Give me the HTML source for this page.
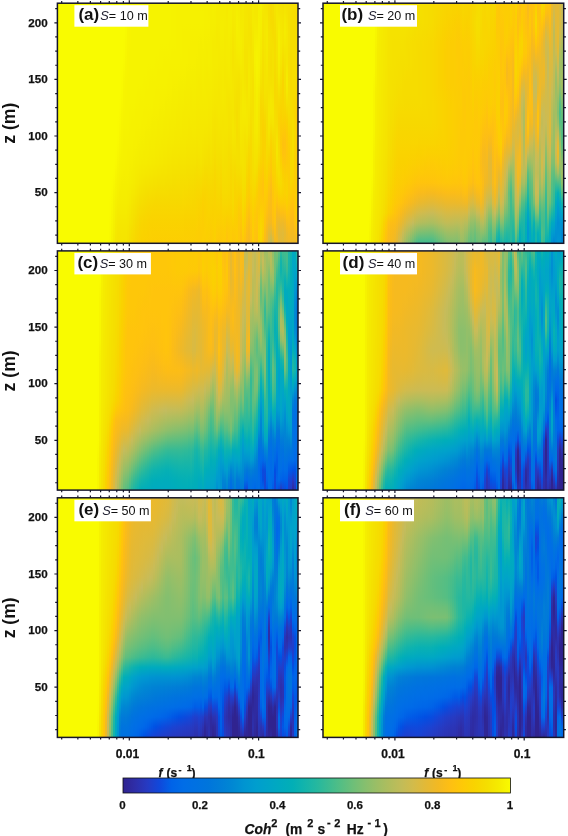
<!DOCTYPE html><html><head><meta charset="utf-8"><title>Coherence</title><style>

html,body{margin:0;padding:0;background:#fff}
body{position:relative;width:568px;height:836px;overflow:hidden;font-family:"Liberation Sans",sans-serif}
.p{position:absolute;display:flex;filter:blur(0.6px)}
.p i{flex:1 1 0;height:100%;min-width:0}
svg{will-change:transform}
svg text{font-family:"Liberation Sans",sans-serif;fill:#111}
.tk,.xl,.cl,.fl,.tt{stroke:#111;stroke-width:0.25px}
.tk{font-size:11.6px;font-weight:bold}
.zl{font-size:17.6px;font-weight:bold}
.pl{font-size:17px;font-weight:bold}
.s{font-size:12.8px;font-style:italic;fill:#223}
.eq{font-size:12.6px}
.xl{font-size:12px;font-weight:bold}
.fl{font-size:12px;font-weight:bold}
.cl{font-size:11.5px;font-weight:bold}
.tt{font-size:13.8px;font-weight:bold}
.sp{font-size:11px}
.sp2{font-size:9px}

</style></head><body>
<div class="p" style="left:57.4px;top:3.2px;width:240.6px;height:240.1px"><i style="background:#f9fb00"></i><i style="background:#f9fb00"></i><i style="background:#f9fb00"></i><i style="background:#f9fb00"></i><i style="background:#f9fb00"></i><i style="background:#f9fb00"></i><i style="background:#f9fb00"></i><i style="background:#f9fb00"></i><i style="background:#f9fb00"></i><i style="background:#f9fb00"></i><i style="background:#f9fb00"></i><i style="background:#f9fb00"></i><i style="background:#f9fb00"></i><i style="background:#f9fb00"></i><i style="background:#f9fb00"></i><i style="background:#f9fb00"></i><i style="background:#f9fb00"></i><i style="background:#f9fb00"></i><i style="background:#f9fb00"></i><i style="background:#f9fb00"></i><i style="background:#f9fb00"></i><i style="background:#f9fb00"></i><i style="background:#f9fb00"></i><i style="background:#f9fb00"></i><i style="background:#f9fb00"></i><i style="background:#f9fb00"></i><i style="background:linear-gradient(#f9fb00,#f9fb00,#f9fb00,#f9fb00,#f9fb00,#f9fb00,#f9fb00,#f9fb00,#f9fb00,#f9fb00,#f9fb00,#f9fb00,#f9fb00,#f9fb00,#f9fb00,#f9fb00,#f9fb00,#f9fb00,#f9fb00,#f9fb00,#f9fa00,#f9fa00,#f9f900,#f8f900,#f8f800)"></i><i style="background:linear-gradient(#f9fb00,#f9fb00,#f9fb00,#f9fb00,#f9fb00,#f9fb00,#f9fb00,#f9fb00,#f9fb00,#f9fb00,#f9fb00,#f9fb00,#f9fb00,#f9fb00,#f9fb00,#f9fb00,#f9fb00,#f9fb00,#f9fa00,#f9f900,#f8f800,#f8f600,#f7f500,#f7f300,#f6f200)"></i><i style="background:linear-gradient(#f9fb00,#f9fb00,#f9fb00,#f9fb00,#f9fb00,#f9fb00,#f9fb00,#f9fb00,#f9fb00,#f9fb00,#f9fb00,#f9fb00,#f9fb00,#f9fb00,#f9fb00,#f9fb00,#f9fb00,#f9fa00,#f8f800,#f7f500,#f6f300,#f6f200,#f6f000,#f5ee00,#f5eb00)"></i><i style="background:linear-gradient(#f9fb00,#f9fb00,#f9fb00,#f9fb00,#f9fb00,#f9fb00,#f9fb00,#f9fb00,#f9fb00,#f9fb00,#f9fb00,#f9fb00,#f9fb00,#f9fb00,#f9fb00,#f9fa00,#f9f900,#f8f600,#f7f300,#f6f200,#f6ef00,#f5ed00,#f5ea00,#f5e800,#f5e500)"></i><i style="background:linear-gradient(#f9fb00,#f9fb00,#f9fb00,#f9fb00,#f9fb00,#f9fb00,#f9fb00,#f9fb00,#f9fb00,#f9fb00,#f9fb00,#f9fb00,#f9fa00,#f9fa00,#f9f900,#f8f700,#f7f500,#f6f300,#f6f100,#f6ef00,#f5ed00,#f5ea00,#f5e800,#f5e500,#f5e400)"></i><i style="background:linear-gradient(#f9fb00,#f9fb00,#f9fb00,#f9fb00,#f9fb00,#f9fb00,#f9fb00,#f9fb00,#f9fb00,#f9fb00,#f9fa00,#f9f900,#f8f800,#f8f600,#f7f500,#f7f400,#f6f200,#f6f100,#f6ef00,#f5ed00,#f5ec00,#f5ea00,#f5e700,#f5e500,#f5e400)"></i><i style="background:linear-gradient(#f9fb00,#f9fb00,#f9fb00,#f9fb00,#f9fb00,#f9fb00,#f9fb00,#f9fa00,#f9f900,#f8f900,#f8f700,#f7f500,#f7f400,#f7f300,#f6f300,#f6f200,#f6f100,#f6f000,#f5ee00,#f5ed00,#f5ec00,#f5ea00,#f5e700,#f5e500,#f5e400)"></i><i style="background:linear-gradient(#f9fb00,#f9fb00,#f9fb00,#f9fb00,#f9fa00,#f9fa00,#f9f900,#f8f700,#f7f500,#f7f400,#f7f400,#f7f300,#f6f300,#f6f200,#f6f100,#f6f100,#f6f100,#f6ef00,#f5ee00,#f5ed00,#f5ec00,#f5ea00,#f5e700,#f5e500,#f5e400)"></i><i style="background:linear-gradient(#f8f900,#f8f900,#f8f900,#f8f900,#f8f700,#f8f600,#f7f500,#f7f400,#f7f300,#f7f300,#f6f300,#f6f300,#f6f300,#f6f200,#f6f100,#f6f100,#f6f000,#f6ef00,#f5ee00,#f5ed00,#f5ec00,#f5ea00,#f5e700,#f5e500,#f5e400)"></i><i style="background:linear-gradient(#f7f500,#f7f500,#f7f500,#f7f400,#f7f400,#f7f300,#f7f300,#f7f300,#f6f300,#f6f300,#f6f300,#f6f300,#f6f300,#f6f200,#f6f100,#f6f000,#f6f000,#f6ef00,#f5ee00,#f5ec00,#f5eb00,#f5e800,#f5e600,#f5e300,#f5e200)"></i><i style="background:linear-gradient(#f7f300,#f7f300,#f7f300,#f7f300,#f7f300,#f6f300,#f6f300,#f6f300,#f6f300,#f6f300,#f6f300,#f6f200,#f6f200,#f6f100,#f6f100,#f6f000,#f6ef00,#f5ee00,#f5ed00,#f5eb00,#f5e900,#f5e600,#f5e300,#f5e000,#f5de00)"></i><i style="background:linear-gradient(#f6f300,#f6f300,#f6f300,#f6f300,#f6f300,#f6f300,#f6f300,#f6f300,#f6f300,#f6f300,#f6f300,#f6f200,#f6f100,#f6f100,#f6f100,#f6f000,#f6ef00,#f5ed00,#f5ec00,#f5e900,#f5e600,#f5e300,#f5e100,#f6dd00,#f7db00)"></i><i style="background:linear-gradient(#f6f300,#f6f300,#f6f300,#f6f300,#f6f300,#f6f300,#f6f300,#f6f300,#f6f300,#f6f300,#f6f300,#f6f200,#f6f100,#f6f100,#f6f000,#f6ef00,#f5ee00,#f5ec00,#f5eb00,#f5e800,#f5e400,#f5e100,#f6de00,#f7db00,#f7d800)"></i><i style="background:linear-gradient(#f6f300,#f6f300,#f6f300,#f6f300,#f6f300,#f6f300,#f6f300,#f6f300,#f6f300,#f6f300,#f6f200,#f6f100,#f6f100,#f6f000,#f6f000,#f5ef00,#f5ed00,#f5eb00,#f5e900,#f5e600,#f5e200,#f5df00,#f6db00,#f7d800,#f8d600)"></i><i style="background:linear-gradient(#f6f300,#f6f300,#f6f300,#f6f300,#f6f300,#f6f300,#f6f300,#f6f300,#f6f300,#f6f200,#f6f200,#f6f100,#f6f100,#f6f000,#f6ef00,#f5ee00,#f5ed00,#f5ea00,#f5e800,#f5e400,#f5e000,#f6dc00,#f7d900,#f8d600,#f9d400)"></i><i style="background:linear-gradient(#f6f300,#f6f300,#f6f300,#f6f300,#f6f300,#f6f300,#f6f300,#f6f300,#f6f300,#f6f200,#f6f100,#f6f100,#f6f100,#f6f000,#f5ef00,#f5ed00,#f5ec00,#f5e900,#f5e600,#f5e200,#f5de00,#f7da00,#f8d600,#f9d400,#fad300)"></i><i style="background:linear-gradient(#f6f300,#f6f300,#f6f300,#f6f300,#f6f300,#f6f300,#f6f300,#f6f300,#f6f300,#f6f200,#f6f100,#f6f100,#f6f000,#f6ef00,#f5ee00,#f5ed00,#f5eb00,#f5e800,#f5e500,#f5e100,#f6dd00,#f7d900,#f9d500,#fad300,#fad100)"></i><i style="background:linear-gradient(#f6f300,#f6f300,#f6f300,#f6f300,#f6f300,#f6f300,#f6f300,#f6f300,#f6f200,#f6f200,#f6f100,#f6f000,#f6f000,#f6ef00,#f5ee00,#f5ec00,#f5eb00,#f5e800,#f5e400,#f5e000,#f6dc00,#f7d800,#f9d400,#fad200,#fbd100)"></i><i style="background:linear-gradient(#f6f300,#f6f300,#f6f300,#f6f300,#f6f300,#f6f300,#f6f300,#f6f300,#f6f200,#f6f100,#f6f100,#f6f000,#f6f000,#f5ee00,#f5ed00,#f5ec00,#f5eb00,#f5e700,#f5e300,#f5df00,#f6db00,#f8d700,#f9d400,#fad200,#fbd001)"></i><i style="background:linear-gradient(#f6f300,#f6f300,#f6f300,#f6f300,#f6f300,#f6f300,#f6f300,#f6f200,#f6f200,#f6f100,#f6f100,#f6f000,#f6ef00,#f5ee00,#f5ed00,#f5ec00,#f5ea00,#f5e700,#f5e300,#f5de00,#f7da00,#f8d600,#fad300,#fad100,#fbd001)"></i><i style="background:linear-gradient(#f6f300,#f6f300,#f6f300,#f6f300,#f6f300,#f6f300,#f6f300,#f6f200,#f6f100,#f6f100,#f6f100,#f6f000,#f6ef00,#f5ee00,#f5ec00,#f5eb00,#f5ea00,#f5e600,#f5e200,#f6de00,#f7d900,#f8d600,#fad200,#fbd101,#fbcf02)"></i><i style="background:linear-gradient(#f6f300,#f6f300,#f6f300,#f6f300,#f6f300,#f6f300,#f6f300,#f6f200,#f6f100,#f6f100,#f6f100,#f6f000,#f5ee00,#f5ed00,#f5ec00,#f5eb00,#f5e900,#f5e600,#f5e200,#f6dd00,#f7d900,#f9d500,#fad200,#fbd001,#fccf02)"></i><i style="background:linear-gradient(#f6f300,#f6f300,#f6f300,#f6f300,#f6f300,#f6f300,#f6f300,#f6f200,#f6f100,#f6f100,#f6f000,#f6ef00,#f5ee00,#f5ed00,#f5ec00,#f5eb00,#f5e900,#f5e500,#f5e100,#f6dd00,#f7d800,#f9d500,#fad200,#fbd001,#fcce02)"></i><i style="background:linear-gradient(#f6f300,#f6f300,#f6f300,#f6f300,#f6f300,#f6f300,#f6f200,#f6f200,#f6f100,#f6f000,#f6f000,#f6ef00,#f5ee00,#f5ed00,#f5eb00,#f5ea00,#f5e800,#f5e500,#f5e100,#f6dc00,#f7d800,#f9d500,#fad200,#fbd001,#fcce02)"></i><i style="background:linear-gradient(#f6f300,#f6f300,#f6f300,#f6f300,#f6f300,#f6f300,#f6f200,#f6f100,#f6f100,#f6f000,#f6f000,#f6ef00,#f5ed00,#f5ec00,#f5eb00,#f5ea00,#f5e800,#f5e400,#f5e000,#f6dc00,#f7d800,#f9d500,#fad200,#fbd001,#fcce02)"></i><i style="background:linear-gradient(#f6f300,#f6f300,#f6f300,#f6f300,#f6f300,#f6f200,#f6f200,#f6f100,#f6f100,#f6f000,#f6ef00,#f5ee00,#f5ed00,#f5ec00,#f5eb00,#f5e900,#f5e700,#f5e400,#f5e000,#f6dc00,#f7d800,#f9d500,#fad200,#fbd001,#fcce02)"></i><i style="background:linear-gradient(#f6f300,#f6f300,#f6f300,#f6f300,#f6f300,#f6f200,#f6f200,#f6f100,#f6f100,#f6f000,#f6ef00,#f5ee00,#f5ed00,#f5ec00,#f5ea00,#f5e900,#f5e700,#f5e300,#f5e000,#f6dc00,#f7d800,#f9d500,#fad200,#fbd001,#fcce02)"></i><i style="background:linear-gradient(#f6f300,#f6f300,#f6f300,#f6f300,#f6f300,#f6f200,#f6f100,#f6f100,#f6f100,#f6f000,#f6ef00,#f5ee00,#f5ec00,#f5eb00,#f5ea00,#f5e800,#f5e600,#f5e300,#f5e000,#f6dc00,#f7d800,#f9d500,#fad200,#fbd001,#fcce02)"></i><i style="background:linear-gradient(#f6f300,#f6f300,#f6f300,#f6f300,#f6f300,#f6f200,#f6f100,#f6f100,#f6f100,#f6f000,#f5ee00,#f5ed00,#f5ec00,#f5eb00,#f5ea00,#f5e800,#f5e600,#f5e300,#f5df00,#f6dc00,#f7d800,#f9d500,#fad200,#fbd001,#fcce02)"></i><i style="background:linear-gradient(#f6f300,#f6f300,#f6f300,#f6f300,#f6f300,#f6f200,#f6f100,#f6f100,#f6f000,#f6ef00,#f5ee00,#f5ed00,#f5ec00,#f5eb00,#f5e900,#f5e700,#f5e500,#f5e200,#f5df00,#f6dc00,#f7d800,#f9d500,#fad200,#fbd001,#fcce02)"></i><i style="background:linear-gradient(#f6f300,#f6f300,#f6f300,#f6f300,#f6f200,#f6f200,#f6f100,#f6f000,#f6f000,#f6ef00,#f5ee00,#f5ed00,#f5eb00,#f5ea00,#f5e900,#f5e700,#f5e500,#f5e200,#f5df00,#f6db00,#f7d800,#f9d500,#fad200,#fbd001,#fcce02)"></i><i style="background:linear-gradient(#f6f200,#f6f200,#f6f200,#f6f200,#f6f200,#f6f100,#f6f100,#f6f000,#f6f000,#f6ef00,#f5ed00,#f5ec00,#f5eb00,#f5ea00,#f5e900,#f5e700,#f5e400,#f5e200,#f5df00,#f6db00,#f7d800,#f9d500,#fad200,#fbd001,#fcce02)"></i><i style="background:linear-gradient(#f6f200,#f6f200,#f6f200,#f6f200,#f6f200,#f6f100,#f6f100,#f6f000,#f6ef00,#f5ee00,#f5ed00,#f5ec00,#f5eb00,#f5ea00,#f5e900,#f5e600,#f5e400,#f5e100,#f5de00,#f6db00,#f7d800,#f9d500,#fad200,#fbd001,#fcce02)"></i><i style="background:linear-gradient(#f6f200,#f6f200,#f6f200,#f6f200,#f6f200,#f6f100,#f6f100,#f6f000,#f6ef00,#f5ee00,#f5ed00,#f5ec00,#f5eb00,#f5e900,#f5e800,#f5e600,#f5e400,#f5e100,#f5de00,#f6db00,#f7d800,#f9d500,#fad200,#fbd001,#fcce02)"></i><i style="background:linear-gradient(#f6f100,#f6f100,#f6f100,#f6f100,#f6f100,#f6f100,#f6f100,#f6f000,#f6ef00,#f5ee00,#f5ed00,#f5eb00,#f5ea00,#f5e900,#f5e800,#f5e600,#f5e400,#f5e100,#f6de00,#f6db00,#f7d800,#f9d500,#fad200,#fbd001,#fcce02)"></i><i style="background:linear-gradient(#f6f100,#f6f100,#f6f100,#f6f100,#f6f100,#f6f100,#f6f100,#f6f000,#f5ef00,#f5ed00,#f5ec00,#f5eb00,#f5ea00,#f5e900,#f5e800,#f5e600,#f5e300,#f5e100,#f6de00,#f6db00,#f7d800,#f9d500,#fad200,#fbd001,#fcce02)"></i><i style="background:linear-gradient(#f6f100,#f6f100,#f6f100,#f6f100,#f6f100,#f6f100,#f6f000,#f6ef00,#f5ee00,#f5ed00,#f5ec00,#f5eb00,#f5ea00,#f5e900,#f5e700,#f5e500,#f5e300,#f5e000,#f6dd00,#f6db00,#f7d800,#f9d500,#fad200,#fbd001,#fcce02)"></i><i style="background:linear-gradient(#f6f100,#f6f100,#f6f100,#f6f000,#f6f000,#f6f000,#f6f000,#f6ef00,#f5ee00,#f5ed00,#f5ec00,#f5ea00,#f5e900,#f5e800,#f5e700,#f5e500,#f5e300,#f5e000,#f6dd00,#f7db00,#f8d800,#f9d500,#fad200,#fbd001,#fcce02)"></i><i style="background:linear-gradient(#f6f100,#f6f100,#f6f100,#f6f000,#f6f000,#f6f000,#f6f000,#f6ef00,#f5ee00,#f5ec00,#f5eb00,#f5ea00,#f5e900,#f5e800,#f5e700,#f5e500,#f5e300,#f5e000,#f6dd00,#f7da00,#f8d800,#f9d400,#fad100,#fbcf01,#fcce03)"></i><i style="background:linear-gradient(#f6f100,#f6f100,#f6f100,#f6f000,#f6f000,#f6f000,#f6f000,#f5ee00,#f5ed00,#f5ec00,#f5eb00,#f5ea00,#f5e900,#f5e800,#f5e600,#f5e400,#f5e200,#f5df00,#f6dd00,#f7da00,#f8d700,#f9d400,#fad100,#fbcf01,#fcce03)"></i><i style="background:linear-gradient(#f6f100,#f6f100,#f6f100,#f6f000,#f6f000,#f6ef00,#f6ef00,#f5ee00,#f5ed00,#f5ec00,#f5eb00,#f5ea00,#f5e800,#f5e700,#f5e600,#f5e400,#f5e200,#f5df00,#f6dc00,#f7d900,#f8d700,#f9d400,#fad100,#fbcf01,#fcce03)"></i><i style="background:linear-gradient(#f6f100,#f6f100,#f6f100,#f6f000,#f6ef00,#f6ef00,#f6ef00,#f5ee00,#f5ed00,#f5eb00,#f5ea00,#f5ea00,#f5e900,#f5e700,#f5e600,#f5e400,#f5e200,#f5df00,#f6dc00,#f7d900,#f8d700,#f9d400,#fad100,#fbcf02,#fcce03)"></i><i style="background:linear-gradient(#f6f100,#f6f100,#f6f100,#f6f000,#f6ef00,#f6ef00,#f6ef00,#f5ee00,#f5ed00,#f5ec00,#f5eb00,#f5ea00,#f5e900,#f5e800,#f5e600,#f5e400,#f5e200,#f5df00,#f6dc00,#f7d900,#f8d600,#f9d400,#fad100,#fbcf02,#fcce03)"></i><i style="background:linear-gradient(#f6f100,#f6f100,#f6f100,#f6f000,#f6ef00,#f6ef00,#f6ef00,#f5ee00,#f5ed00,#f5ec00,#f5eb00,#f5ea00,#f5e900,#f5e800,#f5e600,#f5e400,#f5e200,#f5de00,#f6db00,#f7d800,#f8d600,#f9d400,#fad100,#fbcf02,#fccd03)"></i><i style="background:linear-gradient(#f6f100,#f6f100,#f6f100,#f6f000,#f6ef00,#f6ef00,#f5ee00,#f5ed00,#f5ec00,#f5eb00,#f5ea00,#f5e900,#f5e800,#f5e700,#f5e500,#f5e300,#f5e000,#f6dd00,#f7da00,#f8d700,#f9d500,#fad300,#fbd101,#fcce02,#fccd04)"></i><i style="background:linear-gradient(#f6f000,#f6f100,#f6f100,#f6f000,#f5ef00,#f5ee00,#f5ee00,#f5ed00,#f5eb00,#f5eb00,#f5ea00,#f5e900,#f5e800,#f5e700,#f5e600,#f5e400,#f5e100,#f6de00,#f7da00,#f8d700,#f9d400,#fad200,#fbcf01,#fccd03,#fccd04)"></i><i style="background:linear-gradient(#f6f000,#f6f100,#f6f100,#f6f000,#f5ee00,#f5ee00,#f5ed00,#f5ec00,#f5eb00,#f5ea00,#f5ea00,#f5e900,#f5e800,#f5e700,#f5e600,#f5e500,#f5e300,#f5df00,#f6db00,#f8d700,#f9d300,#fbd101,#fccf02,#fccd03,#fccd03)"></i><i style="background:linear-gradient(#f6f000,#f6f100,#f6f100,#f6f000,#f6ef00,#f5ee00,#f5ee00,#f5ed00,#f5ec00,#f5eb00,#f5ea00,#f5e900,#f5e800,#f5e700,#f5e500,#f5e300,#f5e100,#f6dd00,#f7d900,#f9d400,#fbd100,#fbcf02,#fcce02,#fcce02,#fccf02)"></i><i style="background:linear-gradient(#f6f000,#f6f000,#f6f000,#f6ef00,#f5ee00,#f5ee00,#f5ed00,#f5ec00,#f5eb00,#f5eb00,#f5ea00,#f5e900,#f5e800,#f5e600,#f5e400,#f5e200,#f5df00,#f6db00,#f8d800,#f9d400,#fad200,#fbd100,#fbd001,#fccf02,#fccd03)"></i><i style="background:linear-gradient(#f6f000,#f6f000,#f6f000,#f6ef00,#f5ee00,#f5ed00,#f5ed00,#f5eb00,#f5eb00,#f5ea00,#f5ea00,#f5e900,#f5e800,#f5e600,#f5e400,#f5e100,#f5df00,#f6db00,#f7d800,#f9d500,#fad300,#fad200,#fbd101,#fbcf01,#fbcf02)"></i><i style="background:linear-gradient(#f6ef00,#f6ef00,#f6f000,#f6ef00,#f5ee00,#f5ee00,#f5ee00,#f5ec00,#f5eb00,#f5ea00,#f5e900,#f5e800,#f5e700,#f5e500,#f5e300,#f5e000,#f5de00,#f6dc00,#f7d900,#f8d600,#f9d400,#fad300,#fad100,#fbcf02,#fccd03)"></i><i style="background:linear-gradient(#f5ee00,#f5ee00,#f5ee00,#f5ed00,#f5ed00,#f5ed00,#f5ed00,#f5ec00,#f5eb00,#f5ea00,#f5e900,#f5e800,#f5e700,#f5e600,#f5e400,#f5e200,#f5e000,#f6dc00,#f7d900,#f8d600,#f9d400,#fad200,#fbcf02,#fdcc04,#fdca06)"></i><i style="background:linear-gradient(#f6ef00,#f5ef00,#f5ee00,#f5ed00,#f5eb00,#f5eb00,#f5eb00,#f5eb00,#f5ea00,#f5e900,#f5e800,#f5e600,#f5e400,#f5e300,#f5e200,#f5e000,#f6de00,#f6db00,#f7d800,#f8d600,#f9d400,#fad100,#fbd001,#fcce02,#fccd03)"></i><i style="background:linear-gradient(#f6ef00,#f5ee00,#f5ee00,#f5ec00,#f5eb00,#f5eb00,#f5eb00,#f5ea00,#f5e900,#f5e800,#f5e700,#f5e500,#f5e300,#f5e200,#f5e000,#f6de00,#f6db00,#f7d800,#f8d600,#f9d400,#fad300,#fad200,#fbd100,#fbd001,#fccf02)"></i><i style="background:linear-gradient(#f5ed00,#f5ec00,#f5ec00,#f5ea00,#f5ea00,#f5eb00,#f5eb00,#f5ea00,#f5e900,#f5e800,#f5e700,#f5e600,#f5e400,#f5e300,#f5e200,#f5e000,#f6de00,#f6db00,#f7d900,#f8d700,#f9d500,#fad200,#fbcf02,#fdcc05,#fec907)"></i><i style="background:linear-gradient(#f5ec00,#f5ec00,#f5ec00,#f5eb00,#f5ea00,#f5ea00,#f5ea00,#f5e900,#f5e800,#f5e700,#f5e700,#f5e700,#f5e500,#f5e400,#f5e200,#f5e000,#f5de00,#f6dc00,#f7da00,#f7d800,#f9d500,#fad200,#fbcf02,#fdcb05,#fec808)"></i><i style="background:linear-gradient(#f5ec00,#f5ec00,#f5ed00,#f5ed00,#f5ec00,#f5eb00,#f5ea00,#f5e900,#f5e800,#f5e800,#f5e700,#f5e600,#f5e500,#f5e300,#f5e200,#f5e000,#f6dd00,#f7da00,#f8d800,#f8d500,#f9d300,#fbd100,#fcce03,#fdca06,#fec808)"></i><i style="background:linear-gradient(#f5ec00,#f5ec00,#f5ed00,#f5ed00,#f5ec00,#f5eb00,#f5ea00,#f5ea00,#f5e900,#f5e900,#f5e800,#f5e600,#f5e400,#f5e400,#f5e300,#f5e200,#f5e000,#f5de00,#f6dc00,#f7da00,#f8d700,#fad300,#fccf02,#fdcb05,#fec907)"></i><i style="background:linear-gradient(#f5ec00,#f5ec00,#f5ec00,#f5eb00,#f5ea00,#f5ea00,#f5e900,#f5e800,#f5e700,#f5e800,#f5e700,#f5e600,#f5e500,#f5e400,#f5e200,#f5e100,#f5df00,#f6de00,#f6dc00,#f7da00,#f8d700,#fad300,#fbcf02,#fdcc04,#fdca06)"></i><i style="background:linear-gradient(#f5ea00,#f5ea00,#f5eb00,#f5eb00,#f5eb00,#f5eb00,#f5ea00,#f5e900,#f5e700,#f5e600,#f5e500,#f5e500,#f5e500,#f5e400,#f5e200,#f5e000,#f5df00,#f6dd00,#f6dc00,#f7da00,#f8d700,#fad200,#fccc04,#fec709,#ffc40c)"></i><i style="background:linear-gradient(#f5eb00,#f5ed00,#f5ed00,#f5ed00,#f5ec00,#f5eb00,#f5eb00,#f5ea00,#f5e800,#f5e600,#f5e400,#f5e300,#f5e300,#f5e200,#f5e000,#f5de00,#f6dd00,#f6dc00,#f6db00,#f7d900,#f8d600,#fad200,#fccd03,#fec907,#fec907)"></i><i style="background:linear-gradient(#f5ec00,#f5ed00,#f5ed00,#f5eb00,#f5e900,#f5e800,#f5e800,#f5e800,#f5e800,#f5e700,#f5e500,#f5e400,#f5e300,#f5e200,#f5e100,#f6de00,#f6db00,#f7d800,#f8d700,#f8d600,#f9d500,#fad200,#fcce03,#fdcc05,#fdcc04)"></i><i style="background:linear-gradient(#f5ea00,#f5ea00,#f5e900,#f5e700,#f5e500,#f5e400,#f5e400,#f5e500,#f5e600,#f5e600,#f5e600,#f5e500,#f5e600,#f5e600,#f5e400,#f5e100,#f6de00,#f6db00,#f7da00,#f7da00,#f7d900,#f8d600,#fbd001,#fdca06,#fec709)"></i><i style="background:linear-gradient(#f5eb00,#f5eb00,#f5ea00,#f5e900,#f5e800,#f5e700,#f5e600,#f5e500,#f5e400,#f5e300,#f5e100,#f5e100,#f5e200,#f5e400,#f5e300,#f5e100,#f6dd00,#f7d900,#f8d600,#f9d400,#fad300,#fbd100,#fcce02,#fdcb05,#fec808)"></i><i style="background:linear-gradient(#f5ec00,#f5ee00,#f6ef00,#f5ee00,#f5ec00,#f5ea00,#f5e700,#f5e500,#f5e300,#f5e100,#f5e000,#f5de00,#f6de00,#f5de00,#f5df00,#f5e000,#f5df00,#f6dc00,#f8d800,#f9d500,#fad200,#fbcf02,#fccd03,#fdcc05,#fccc04)"></i><i style="background:linear-gradient(#f5eb00,#f5ec00,#f5ed00,#f5ed00,#f5ed00,#f5eb00,#f5e800,#f5e400,#f5e200,#f5e100,#f5e100,#f5e100,#f5e100,#f5e000,#f5df00,#f5df00,#f5df00,#f6dc00,#f7d800,#f9d400,#fcce02,#fdca06,#fec808,#fec709,#fec808)"></i><i style="background:linear-gradient(#f5e700,#f5e800,#f5ea00,#f5eb00,#f5ed00,#f5ec00,#f5eb00,#f5e800,#f5e500,#f5e500,#f5e600,#f5e800,#f5e800,#f5e700,#f5e500,#f5e300,#f5e200,#f5de00,#f7da00,#f9d500,#fbd001,#fdcb05,#fec709,#fec20e,#febf12)"></i><i style="background:linear-gradient(#f5ea00,#f5e900,#f5ea00,#f5ea00,#f5ea00,#f5e900,#f5e900,#f5e800,#f5e800,#f5e900,#f5ea00,#f5ea00,#f5e800,#f5e600,#f5e400,#f5e300,#f5e300,#f5e100,#f5df00,#f6dc00,#f7da00,#f8d600,#fad200,#fccd04,#fec709)"></i><i style="background:linear-gradient(#f5e700,#f5e600,#f5e600,#f5e500,#f5e400,#f5e300,#f5e300,#f5e400,#f5e500,#f5e700,#f5e900,#f5ea00,#f5e800,#f5e400,#f5e100,#f5e100,#f5e100,#f5e000,#f5de00,#f6db00,#f8d600,#fad100,#fdcc04,#fec60a,#fec011)"></i><i style="background:linear-gradient(#f5e500,#f5e500,#f5e600,#f5e500,#f5e400,#f5e300,#f5e300,#f5e200,#f5e200,#f5e400,#f5e600,#f5e800,#f5e800,#f5e600,#f5e200,#f6de00,#f7da00,#f8d700,#f9d300,#fbd001,#fdcb05,#fec60a,#fec110,#fcbd16,#fabb1a)"></i><i style="background:linear-gradient(#f5e400,#f5e400,#f5e300,#f5e300,#f5e400,#f5e600,#f5e700,#f5e800,#f5e800,#f5e800,#f5e700,#f5e600,#f5e400,#f5e100,#f6dc00,#f7d800,#f9d500,#fad200,#fbcf02,#fdcc04,#fec709,#fec10f,#fcbd16,#f9bb1b,#f6ba1f)"></i><i style="background:linear-gradient(#f5e600,#f5e500,#f5e400,#f5e200,#f5e200,#f5e300,#f5e400,#f5e400,#f5e400,#f5e300,#f5e200,#f5e000,#f6de00,#f6dc00,#f7da00,#f7d900,#f7d900,#f7d800,#f8d700,#f9d300,#fcce02,#fec907,#ffc40c,#fec110,#fdbe14)"></i><i style="background:linear-gradient(#f5eb00,#f5ea00,#f5ea00,#f5e800,#f5e700,#f5e600,#f5e500,#f5e300,#f5e100,#f5e100,#f5e100,#f5e100,#f5e200,#f5e200,#f5e100,#f5e000,#f5de00,#f6dd00,#f7da00,#f8d700,#fad300,#fbcf02,#fccd04,#fdcc05,#fdcb05)"></i><i style="background:linear-gradient(#f5e800,#f5e800,#f5ea00,#f5ec00,#f5ee00,#f6f000,#f6f000,#f5ee00,#f5ec00,#f5ea00,#f5e900,#f5e900,#f5e900,#f5e800,#f5e500,#f5e300,#f5e200,#f5df00,#f6db00,#f8d600,#fbd001,#fdcb05,#fec808,#ffc50c,#ffc30e)"></i><i style="background:linear-gradient(#f5e700,#f5e800,#f5e900,#f5ec00,#f6ef00,#f6f200,#f6f300,#f6f200,#f6f000,#f5ee00,#f5ed00,#f5ec00,#f5eb00,#f5e900,#f5e600,#f5e300,#f5e000,#f6db00,#f9d500,#fbcf01,#fdcb06,#fec709,#ffc50c,#ffc30e,#fec110)"></i><i style="background:linear-gradient(#f5ed00,#f5ee00,#f6ef00,#f6ef00,#f6f000,#f6f000,#f6f000,#f6ef00,#f5ed00,#f5e900,#f5e700,#f5e500,#f5e400,#f5e300,#f5e100,#f6dd00,#f8d800,#fad100,#fdcc04,#fec907,#fec808,#fdca06,#fcce03,#fbd100,#fad200)"></i><i style="background:linear-gradient(#f6ef00,#f5ee00,#f5ee00,#f5ed00,#f5eb00,#f5ea00,#f5e800,#f5e500,#f5e200,#f6dd00,#f7d900,#f8d600,#f8d600,#f8d600,#f8d700,#f8d600,#fad200,#fccc04,#fec808,#fec709,#fdca06,#fbd001,#f9d500,#f8d800,#f8d600)"></i><i style="background:linear-gradient(#f5ea00,#f5e700,#f5e500,#f5e400,#f5e300,#f5e200,#f5e000,#f5df00,#f5de00,#f6dd00,#f7da00,#f8d600,#fad300,#fad100,#fad200,#fad100,#fbcf02,#fec907,#ffc40c,#ffc40c,#fec907,#fcce02,#fad100,#fbcf02,#fec709)"></i><i style="background:linear-gradient(#f5e500,#f5e600,#f5e700,#f5e700,#f5e600,#f5e500,#f5e400,#f5e300,#f5e300,#f5e200,#f5df00,#f7da00,#f8d600,#f9d300,#fad200,#fad300,#fad300,#fad100,#fcce02,#fdcc05,#fdca06,#fec709,#ffc30d,#fdbe15,#f8bb1c)"></i><i style="background:linear-gradient(#f5e300,#f5e500,#f5e800,#f5e900,#f5e900,#f5e800,#f5e700,#f5e500,#f5e300,#f5e100,#f5e000,#f5df00,#f5de00,#f6dd00,#f6dc00,#f7da00,#f8d700,#f9d400,#fbcf02,#fdca06,#fec50b,#fec011,#fabc1a,#f2b924,#efb928)"></i><i style="background:linear-gradient(#f5de00,#f5df00,#f5e000,#f5e100,#f5e200,#f5e100,#f5e000,#f5e000,#f5e100,#f5e200,#f5e500,#f5e700,#f5e600,#f5e300,#f6de00,#f7d800,#fad200,#fdcc04,#fec60a,#fec110,#fdbe14,#fabc19,#f3ba22,#e4b934,#d5ba46)"></i><i style="background:linear-gradient(#f6db00,#f7da00,#f6dc00,#f5df00,#f5e000,#f5df00,#f5de00,#f5df00,#f5e100,#f5e500,#f5e800,#f5e700,#f5e200,#f7da00,#fad300,#fcce03,#fdca06,#fec50b,#febf13,#fabc19,#fabc19,#fabb1a,#f3b923,#dcba3d,#c1bc56)"></i><i style="background:linear-gradient(#f5de00,#f6dc00,#f6db00,#f6dc00,#f5df00,#f5e100,#f5e100,#f5e100,#f5e200,#f5e300,#f5e600,#f5e700,#f5e400,#f5de00,#f7d800,#f9d500,#f9d300,#fbd001,#fdca06,#fec50b,#ffc30d,#ffc20e,#fdbe14,#eeb928,#d4bb48)"></i><i style="background:linear-gradient(#f5e400,#f5e200,#f5df00,#f6dd00,#f6dc00,#f6dd00,#f6dc00,#f6db00,#f7d900,#f7d900,#f7da00,#f6dd00,#f6de00,#f6dd00,#f7db00,#f7d800,#f9d500,#fad200,#fbcf02,#fdcc05,#fec907,#fec60a,#ffc30e,#fcbd16,#f2b924)"></i><i style="background:linear-gradient(#f5e500,#f5e700,#f5e700,#f5e500,#f5e300,#f5e300,#f5e200,#f5e000,#f6dd00,#f7da00,#f7d900,#f7da00,#f6dc00,#f5e000,#f5e400,#f5e500,#f5e100,#f6db00,#f9d500,#fccd04,#ffc20e,#f7ba1e,#eeb928,#edb929,#f5ba20)"></i><i style="background:linear-gradient(#f5e100,#f5e500,#f5ea00,#f5ed00,#f5ee00,#f5ee00,#f5ec00,#f5ea00,#f5e500,#f5df00,#f7d900,#f9d500,#f9d300,#f9d500,#f8d800,#f6db00,#f6dd00,#f6de00,#f7da00,#fad200,#fec709,#f9bb1b,#e9b92e,#dfba3a,#e4b934)"></i><i style="background:linear-gradient(#f5e100,#f5e400,#f5e700,#f5e800,#f5e900,#f5e700,#f5e500,#f5e100,#f6dd00,#f7d900,#f8d600,#fad200,#fcce03,#fdca06,#fec907,#fdcc04,#fad200,#f8d800,#f7da00,#f9d500,#fdcb05,#fdbe14,#eeb928,#e3b936,#e4b934)"></i><i style="background:linear-gradient(#f5e000,#f5e300,#f5e500,#f5e600,#f5e500,#f5e100,#f6dd00,#f7d800,#f9d500,#f9d500,#f9d500,#f9d400,#fbcf02,#fec808,#fec20e,#ffc30e,#fec907,#fbd001,#f9d500,#f9d300,#fdcb05,#fdbe14,#edb929,#e1ba38,#e2b936)"></i><i style="background:linear-gradient(#f5e200,#f5e600,#f5ea00,#f5eb00,#f5e800,#f5e400,#f5e100,#f5e000,#f5df00,#f6dd00,#f7d900,#f9d400,#fcce03,#fec709,#ffc20e,#ffc30e,#fec709,#fccd04,#fad100,#fbd101,#fdcb06,#fec012,#f2b924,#e7b930,#ecb92a)"></i><i style="background:linear-gradient(#f5e200,#f5e300,#f5e600,#f5e700,#f5e600,#f5e500,#f5e500,#f5e900,#f5eb00,#f5e700,#f5e000,#f7d800,#fad100,#fccc04,#fec907,#fec808,#fdca06,#fcce03,#fad200,#f9d300,#fbcf01,#fec60a,#fbbd17,#f1b925,#eeb928)"></i><i style="background:linear-gradient(#f5e100,#f5e000,#f5e000,#f5e100,#f5e100,#f5df00,#f6de00,#f6de00,#f5df00,#f5df00,#f5df00,#f6dc00,#f7d800,#f9d300,#fbcf02,#fccc04,#fdcb05,#fdcc05,#fccd03,#fccd03,#fdca06,#ffc30d,#fdbe15,#f7ba1e,#f0b927)"></i><i style="background:linear-gradient(#f5e000,#f5df00,#f6de00,#f6dd00,#f6dd00,#f6dc00,#f6db00,#f7da00,#f7da00,#f6db00,#f6dc00,#f6dc00,#f7da00,#f7d800,#f8d700,#f7d800,#f7d900,#f7d800,#f9d500,#fcce03,#fec60a,#febf13,#fabb1a,#f5ba20,#f1b925)"></i><i style="background:linear-gradient(#f5df00,#f5de00,#f6dd00,#f6dd00,#f6dd00,#f6dd00,#f6dd00,#f6dd00,#f6dd00,#f6db00,#f7da00,#f6db00,#f6dd00,#f5de00,#f6de00,#f6dc00,#f7da00,#f8d700,#fad200,#fdcb05,#ffc40c,#fdbe14,#f9bb1b,#f3ba22,#efb927)"></i><i style="background:linear-gradient(#f6de00,#f6dc00,#f6dc00,#f6dc00,#f6dc00,#f6dc00,#f6dc00,#f6dd00,#f6dc00,#f7da00,#f8d700,#f8d600,#f8d700,#f8d800,#f8d600,#fad300,#fbd001,#fcce03,#fccd04,#fdcb05,#fdca06,#fec709,#fec20f,#f9bb1b,#eeb928)"></i><i style="background:linear-gradient(#f5e000,#f6dd00,#f6dc00,#f6dc00,#f6db00,#f7da00,#f7d900,#f7d900,#f8d800,#f9d400,#fbcf02,#fdcb05,#fdca07,#fdca06,#fdca06,#fdca06,#fdcc04,#fccd03,#fcce02,#fbcf02,#fbd001,#fbcf02,#fdcb05,#ffc30d,#f9bb1b)"></i></div>
<div class="p" style="left:323.0px;top:3.2px;width:240.7px;height:240.1px"><i style="background:#f9fb00"></i><i style="background:#f9fb00"></i><i style="background:#f9fb00"></i><i style="background:#f9fb00"></i><i style="background:#f9fb00"></i><i style="background:#f9fb00"></i><i style="background:#f9fb00"></i><i style="background:#f9fb00"></i><i style="background:#f9fb00"></i><i style="background:#f9fb00"></i><i style="background:#f9fb00"></i><i style="background:#f9fb00"></i><i style="background:#f9fb00"></i><i style="background:#f9fb00"></i><i style="background:#f9fb00"></i><i style="background:#f9fb00"></i><i style="background:#f9fb00"></i><i style="background:#f9fb00"></i><i style="background:#f9fb00"></i><i style="background:#f9fb00"></i><i style="background:#f9fb00"></i><i style="background:#f9fb00"></i><i style="background:linear-gradient(#f9fb00,#f9fb00,#f9fb00,#f9fb00,#f9fb00,#f9fb00,#f9fb00,#f9fb00,#f9fb00,#f9fb00,#f9fb00,#f9fb00,#f9fb00,#f9fb00,#f9fb00,#f9fb00,#f9fb00,#f9fb00,#f9fb00,#f9fb00,#f9fb00,#f9fb00,#f9fb00,#f9fb00,#f9fa00)"></i><i style="background:linear-gradient(#f9fb00,#f9fb00,#f9fb00,#f9fb00,#f9fb00,#f9fb00,#f9fb00,#f9fb00,#f9fb00,#f9fb00,#f9fb00,#f9fb00,#f9fb00,#f9fb00,#f9fb00,#f9fb00,#f9fb00,#f9fb00,#f9fb00,#f9fb00,#f9fa00,#f9fa00,#f8f800,#f7f600,#f7f500)"></i><i style="background:linear-gradient(#f9fb00,#f9fb00,#f9fb00,#f9fb00,#f9fb00,#f9fb00,#f9fb00,#f9fb00,#f9fb00,#f9fb00,#f9fb00,#f9fb00,#f9fb00,#f9fb00,#f9fa00,#f9fa00,#f9fa00,#f9fa00,#f8f800,#f7f600,#f7f300,#f6f100,#f6ef00,#f5ed00,#f5ec00)"></i><i style="background:linear-gradient(#f9fb00,#f9fb00,#f9fb00,#f9fb00,#f9fa00,#f9fa00,#f9fa00,#f9fa00,#f8f800,#f8f600,#f8f600,#f8f600,#f7f600,#f7f600,#f7f400,#f6f200,#f6f100,#f6f100,#f6ef00,#f5ed00,#f5ec00,#f5eb00,#f5ea00,#f5e900,#f5e800)"></i><i style="background:linear-gradient(#f8f600,#f8f600,#f8f600,#f7f600,#f7f400,#f6f200,#f6f200,#f6f100,#f6f000,#f5ee00,#f5ee00,#f5ee00,#f5ee00,#f5ed00,#f5ed00,#f5ec00,#f5eb00,#f5eb00,#f5eb00,#f5ea00,#f5e900,#f5e800,#f5e700,#f5e600,#f5e500)"></i><i style="background:linear-gradient(#f5ee00,#f5ee00,#f5ee00,#f5ee00,#f5ed00,#f5ec00,#f5ec00,#f5ec00,#f5ec00,#f5ec00,#f5eb00,#f5eb00,#f5eb00,#f5eb00,#f5ea00,#f5ea00,#f5e900,#f5e900,#f5e800,#f5e800,#f5e700,#f5e600,#f5e500,#f5e300,#f5e200)"></i><i style="background:linear-gradient(#f5eb00,#f5eb00,#f5eb00,#f5eb00,#f5eb00,#f5eb00,#f5ea00,#f5ea00,#f5ea00,#f5ea00,#f5ea00,#f5e900,#f5e900,#f5e900,#f5e800,#f5e800,#f5e700,#f5e700,#f5e600,#f5e500,#f5e500,#f5e400,#f5e200,#f5df00,#f6db00)"></i><i style="background:linear-gradient(#f5ea00,#f5ea00,#f5ea00,#f5ea00,#f5e900,#f5e900,#f5e900,#f5e900,#f5e800,#f5e800,#f5e800,#f5e800,#f5e700,#f5e700,#f5e600,#f5e600,#f5e500,#f5e500,#f5e400,#f5e300,#f5e200,#f5e100,#f6dc00,#f8d700,#fad200)"></i><i style="background:linear-gradient(#f5e800,#f5e800,#f5e800,#f5e800,#f5e800,#f5e800,#f5e700,#f5e700,#f5e700,#f5e600,#f5e600,#f5e600,#f5e500,#f5e500,#f5e400,#f5e400,#f5e300,#f5e200,#f5e200,#f5e100,#f5df00,#f6dd00,#f9d400,#fcce03,#fdc907)"></i><i style="background:linear-gradient(#f5e700,#f5e700,#f5e700,#f5e700,#f5e600,#f5e600,#f5e600,#f5e500,#f5e500,#f5e500,#f5e400,#f5e400,#f5e400,#f5e300,#f5e300,#f5e200,#f5e100,#f5e000,#f5df00,#f6dd00,#f6db00,#f7d800,#fdcc05,#fec50b,#fec110)"></i><i style="background:linear-gradient(#f5e500,#f5e500,#f5e500,#f5e500,#f5e500,#f5e400,#f5e400,#f5e400,#f5e400,#f5e300,#f5e300,#f5e300,#f5e200,#f5e100,#f5e100,#f5e000,#f5de00,#f6dd00,#f6dc00,#f7da00,#f8d800,#f9d400,#ffc40c,#febf13,#fcbd17)"></i><i style="background:linear-gradient(#f5e400,#f5e400,#f5e400,#f5e400,#f5e300,#f5e300,#f5e300,#f5e200,#f5e200,#f5e200,#f5e100,#f5e100,#f5e000,#f5df00,#f5de00,#f6dd00,#f6dc00,#f7da00,#f7d900,#f8d700,#f9d400,#fbd001,#fec012,#fbbc18,#f9bb1b)"></i><i style="background:linear-gradient(#f5e300,#f5e300,#f5e200,#f5e200,#f5e200,#f5e200,#f5e200,#f5e100,#f5e100,#f5e100,#f5e000,#f5df00,#f5de00,#f6dd00,#f6dc00,#f7db00,#f7d900,#f8d800,#f8d600,#f9d300,#fbd100,#fdcc04,#fdbe14,#f9bb1a,#f6ba1e)"></i><i style="background:linear-gradient(#f5e200,#f5e200,#f5e200,#f5e200,#f5e100,#f5e100,#f5e100,#f5e100,#f5e000,#f5e000,#f5df00,#f6de00,#f6dd00,#f6db00,#f7d900,#f7d800,#f8d700,#f9d500,#fad300,#fbd001,#fccd03,#fec808,#fcbd15,#f7ba1d,#f3ba22)"></i><i style="background:linear-gradient(#f5e200,#f5e200,#f5e200,#f5e200,#f5e100,#f5e100,#f5e100,#f5e000,#f5e000,#f5df00,#f6de00,#f6dc00,#f6db00,#f7d900,#f8d700,#f8d600,#f9d400,#fad200,#fbd001,#fccd03,#fdca06,#ffc40c,#fbbd17,#f4ba21,#edb92a)"></i><i style="background:linear-gradient(#f5e200,#f5e200,#f5e200,#f5e200,#f5e100,#f5e100,#f5e000,#f5e000,#f5df00,#f5de00,#f6dd00,#f6db00,#f7d900,#f8d700,#f9d500,#f9d400,#fad200,#fbd001,#fcce02,#fdcb05,#fec808,#fec110,#f8bb1c,#ecb92b,#e1b937)"></i><i style="background:linear-gradient(#f5e200,#f5e300,#f5e200,#f5e200,#f5e100,#f5e100,#f5e000,#f5df00,#f5df00,#f6dd00,#f6dc00,#f7da00,#f7d800,#f8d600,#f9d500,#fad300,#fad100,#fbd001,#fccd03,#fdca06,#fec60b,#fdbe15,#f2b924,#e1b937,#d3bb49)"></i><i style="background:linear-gradient(#f5e300,#f5e300,#f5e300,#f5e200,#f5e100,#f5e000,#f5df00,#f5df00,#f6de00,#f6dd00,#f6dc00,#f7da00,#f7d800,#f8d600,#f9d500,#fad300,#fad100,#fbcf02,#fccd04,#fec808,#ffc30d,#f9bb1b,#eab92d,#d6ba45,#c5bc5d)"></i><i style="background:linear-gradient(#f5e300,#f5e300,#f5e300,#f5e200,#f5e100,#f5e000,#f5df00,#f5de00,#f6dd00,#f6dc00,#f6dc00,#f7da00,#f7d800,#f8d600,#f9d500,#fad300,#fad100,#fccf02,#fdcc05,#fec709,#fec110,#f4ba21,#e3b936,#cabb55,#b4bd5c)"></i><i style="background:linear-gradient(#f5e300,#f5e300,#f5e300,#f5e200,#f5e000,#f5e000,#f5df00,#f6de00,#f6dc00,#f6dc00,#f6db00,#f7da00,#f7d800,#f8d600,#f9d500,#fad300,#fad100,#fcce02,#fdcb05,#fec50b,#fdbe14,#efb927,#dbba3f,#bebc57,#a2be63)"></i><i style="background:linear-gradient(#f5e300,#f5e300,#f5e300,#f5e100,#f5df00,#f5df00,#f5df00,#f6dd00,#f6dc00,#f6dc00,#f6db00,#f7da00,#f7d800,#f8d600,#f9d500,#fad300,#fbd100,#fcce03,#fdca06,#ffc30d,#fbbd17,#eab92d,#d4bb48,#b3bd5c,#92bf69)"></i><i style="background:linear-gradient(#f5e200,#f5e200,#f5e200,#f5e000,#f5df00,#f5de00,#f5de00,#f6dd00,#f6dc00,#f6dc00,#f6db00,#f7da00,#f7d800,#f8d600,#f9d500,#fad300,#fbd001,#fccd04,#fec907,#fec20f,#f9bb1b,#e6b932,#cfbb4f,#aabe60,#84bf6e)"></i><i style="background:linear-gradient(#f5e200,#f5e200,#f5e100,#f5e000,#f6de00,#f6de00,#f6de00,#f6dd00,#f6dc00,#f6dc00,#f6db00,#f7da00,#f7d800,#f8d600,#f9d500,#fad200,#fbd001,#fdcc04,#fec808,#fec011,#f6ba1f,#e2b937,#c9bc56,#a0be64,#76bf74)"></i><i style="background:linear-gradient(#f5e100,#f5e100,#f5e100,#f5df00,#f6dd00,#f6dd00,#f6dd00,#f6dc00,#f6dc00,#f6dc00,#f6db00,#f7da00,#f7d800,#f8d600,#f9d500,#fad200,#fbcf02,#fdcb05,#fec60a,#fdbf13,#f3ba22,#ddba3c,#c4bc5d,#96bf67,#67bf7b)"></i><i style="background:linear-gradient(#f5e000,#f5e000,#f5e000,#f5de00,#f6dd00,#f6dd00,#f6dc00,#f6dc00,#f6dc00,#f6dc00,#f6db00,#f7da00,#f7d800,#f8d600,#f9d500,#fad200,#fbcf02,#fdca06,#fec50b,#fcbd16,#f0b926,#d9ba41,#bebc58,#8bbf6c,#57be82)"></i><i style="background:linear-gradient(#f5e000,#f5e000,#f5df00,#f6de00,#f6dc00,#f6dc00,#f6dc00,#f6dc00,#f6dc00,#f6dc00,#f6db00,#f7da00,#f7d800,#f8d600,#f9d500,#fad100,#fcce02,#fdca06,#ffc40c,#fbbc18,#edb92a,#d5ba47,#b8bd5a,#81bf70,#48bd8a)"></i><i style="background:linear-gradient(#f5df00,#f5df00,#f5df00,#f6dd00,#f6dc00,#f6db00,#f6db00,#f6db00,#f6db00,#f6db00,#f6db00,#f7da00,#f7d800,#f8d600,#f9d400,#fad100,#fcce03,#fec907,#ffc40d,#fabb1a,#eab92c,#d2bb4a,#b4bd5c,#7bbf73,#41bc8e)"></i><i style="background:linear-gradient(#f5df00,#f5df00,#f5de00,#f6dd00,#f6db00,#f6db00,#f6db00,#f6db00,#f6db00,#f6db00,#f7db00,#f7d900,#f7d800,#f8d600,#f9d400,#fad100,#fccd03,#fec907,#ffc30d,#f9bb1b,#e9b92e,#d1bb4d,#b2bd5c,#79bf73,#40bc8f)"></i><i style="background:linear-gradient(#f6de00,#f6de00,#f6de00,#f6dc00,#f7db00,#f7da00,#f7da00,#f7da00,#f7da00,#f7da00,#f7da00,#f7d900,#f7d800,#f8d600,#f9d400,#fbd100,#fccd04,#fec907,#ffc30d,#f9bb1c,#e8b930,#cfbb4e,#b0bd5d,#78bf74,#40bc8f)"></i><i style="background:linear-gradient(#f6dd00,#f6dd00,#f6dd00,#f6dc00,#f7da00,#f7da00,#f7da00,#f7da00,#f7da00,#f7da00,#f7da00,#f7d900,#f7d800,#f8d600,#f9d400,#fbd101,#fccc04,#fec808,#ffc30d,#f8bb1c,#e6b931,#cebb50,#afbd5e,#77bf74,#40bc8f)"></i><i style="background:linear-gradient(#f6dd00,#f6dd00,#f6dd00,#f6db00,#f7da00,#f7d900,#f7d900,#f7d900,#f7d900,#f7d900,#f7d900,#f7d900,#f7d800,#f8d600,#f9d400,#fbd001,#fdcc04,#fec808,#ffc30d,#f7ba1d,#e5b933,#ccbb52,#adbe5e,#76bf75,#3fbc8f)"></i><i style="background:linear-gradient(#f6dc00,#f6dc00,#f6dc00,#f7db00,#f7d900,#f7d900,#f7d900,#f7d900,#f7d900,#f7d900,#f7d900,#f7d800,#f7d800,#f8d600,#f9d400,#fbd001,#fdcc05,#fec808,#ffc30d,#f7ba1e,#e4b935,#cbbb54,#abbe5f,#75bf75,#3fbc8f)"></i><i style="background:linear-gradient(#f6dc00,#f6dc00,#f6dc00,#f7da00,#f7d800,#f7d800,#f7d800,#f7d800,#f7d800,#f7d800,#f7d800,#f7d800,#f7d800,#f8d600,#f9d400,#fbd001,#fdcb05,#fec808,#ffc30d,#f6ba1f,#e2b936,#c9bb56,#aabe60,#74bf75,#3fbc8f)"></i><i style="background:linear-gradient(#f6db00,#f6db00,#f7db00,#f7d900,#f8d800,#f8d700,#f8d700,#f8d700,#f8d700,#f8d700,#f8d800,#f8d800,#f8d700,#f8d600,#f9d400,#fbd001,#fdcb05,#fec808,#ffc30d,#f6ba1e,#e2b936,#c9bb56,#abbe5f,#76bf74,#43bc8d)"></i><i style="background:linear-gradient(#f7da00,#f7da00,#f7d900,#f8d800,#f8d600,#f8d600,#f8d600,#f8d600,#f8d600,#f8d600,#f8d700,#f8d700,#f8d700,#f9d500,#f9d400,#fbd001,#fdcc05,#fec808,#ffc40d,#f7ba1d,#e4b935,#cbbb53,#aebe5e,#7cbf72,#4bbd89)"></i><i style="background:linear-gradient(#f7d900,#f7d900,#f7d800,#f8d600,#f9d500,#f9d500,#f9d500,#f9d500,#f9d500,#f9d500,#f8d600,#f8d600,#f8d600,#f9d500,#f9d300,#fbd001,#fdcc04,#fec907,#ffc40c,#f8bb1c,#e5b933,#cebb50,#b1bd5d,#82bf6f,#53be84)"></i><i style="background:linear-gradient(#f7d800,#f8d800,#f8d700,#f9d500,#f9d400,#f9d300,#f9d300,#f9d300,#f9d300,#f9d400,#f9d500,#f9d500,#f9d500,#f9d400,#fad300,#fbd001,#fccc04,#fec907,#ffc50c,#f9bb1b,#e6b931,#d0bb4e,#b5bd5b,#88bf6d,#5cbe80)"></i><i style="background:linear-gradient(#f8d700,#f8d600,#f9d500,#f9d400,#fad200,#fad200,#fad200,#fad200,#fad200,#fad300,#f9d400,#f9d400,#f9d400,#f9d300,#fad200,#fbd001,#fccd04,#fdc907,#fec50b,#f9bb1a,#e8b930,#d2bb4b,#b8bd5a,#8ebf6b,#64bf7c)"></i><i style="background:linear-gradient(#f8d600,#f9d500,#f9d400,#fad200,#fbd100,#fbd100,#fbd100,#fbd100,#fbd100,#fad200,#fad300,#fad300,#fad300,#fad300,#fad200,#fbd001,#fccd03,#fdca06,#fec60b,#fabc19,#e9b92e,#d4bb48,#bcbd59,#93bf68,#6cbf79)"></i><i style="background:linear-gradient(#f9d500,#f9d400,#fad300,#fad100,#fbd001,#fbcf01,#fbcf01,#fbcf01,#fbd001,#fbd100,#fad200,#fad200,#fad200,#fad200,#fad200,#fbd001,#fccd03,#fdca06,#fec60a,#fbbc18,#ebb92c,#d6ba46,#bfbc57,#99bf66,#74bf75)"></i><i style="background:linear-gradient(#f9d500,#f9d300,#fad200,#fbd001,#fcce02,#fcce02,#fcce02,#fcce02,#fcce02,#fbd001,#fad100,#fad100,#fad100,#fad100,#fad100,#fbd001,#fcce03,#fdcb06,#fec60a,#fbbd17,#ecb92b,#d7ba44,#c1bc56,#9dbe65,#7bbf73)"></i><i style="background:linear-gradient(#f9d400,#fad300,#fad100,#fbcf02,#fcce03,#fcce03,#fcce03,#fcce03,#fcce03,#fbcf02,#fbd001,#fbd001,#fbd001,#fbd001,#fbd001,#fbcf02,#fccd03,#fdca06,#fec60a,#fbbd17,#ecb92b,#d7ba44,#c0bc56,#9ebe64,#7ebf71)"></i><i style="background:linear-gradient(#f9d400,#fad300,#fbd101,#fbcf02,#fccd03,#fccd03,#fccd03,#fccd03,#fccd03,#fcce02,#fbcf01,#fbd001,#fbd001,#fbd001,#fbcf01,#fcce02,#fccd03,#fdca06,#fec60a,#fbbc18,#ecb92b,#d7ba45,#bfbc57,#9ebe64,#7fbf71)"></i><i style="background:linear-gradient(#f9d400,#fad200,#fbd001,#fcce02,#fccd03,#fccd04,#fccd03,#fccd03,#fccd03,#fcce03,#fccf02,#fccf02,#fccf02,#fccf02,#fcce02,#fcce03,#fccc04,#fdc907,#fec50b,#fbbc18,#ecb92b,#d6ba46,#bebc58,#9ebe64,#80bf70)"></i><i style="background:linear-gradient(#f9d400,#fad200,#fbcf01,#fcce03,#fccd04,#fccd04,#fccd04,#fccd04,#fccd04,#fccd03,#fcce03,#fcce03,#fcce03,#fcce03,#fcce03,#fccd04,#fdcc04,#fec907,#fec50b,#fbbc18,#ecb92b,#d5ba46,#bcbd58,#9cbe65,#7fbf71)"></i><i style="background:linear-gradient(#f9d300,#fbd100,#fcce02,#fccc04,#fdcb05,#fdcb05,#fdcc05,#fdcc04,#fdcc04,#fccd04,#fccd03,#fccd03,#fccd03,#fccd04,#fccd04,#fdcc04,#fdcb05,#fec907,#fec50b,#fbbd17,#edb929,#d6ba46,#bbbd59,#9abe66,#7ebf71)"></i><i style="background:linear-gradient(#f9d400,#fad100,#fcce02,#fccc04,#fdcb05,#fdcb05,#fdcb05,#fdcb05,#fdcc04,#fccc04,#fccd04,#fccc04,#fdcc04,#fdcc05,#fdcb05,#fdcb05,#fdca06,#fec808,#ffc40c,#fbbd17,#edb92a,#d5ba46,#bcbd59,#9fbe64,#85bf6e)"></i><i style="background:linear-gradient(#f8d600,#f9d300,#fbd101,#fccf02,#fccd04,#fdcc04,#fdcc04,#fdcc04,#fccc04,#fccd04,#fccd04,#fdcc04,#fdcb05,#fdca06,#fdca06,#fdca06,#fdca06,#fec709,#ffc40d,#fabc19,#edb92a,#d7ba44,#c1bc56,#aabe60,#94bf68)"></i><i style="background:linear-gradient(#f8d700,#f9d500,#fad300,#fbd100,#fcce02,#fccd03,#fccc04,#fdcc05,#fdcb05,#fdca06,#fdca06,#fdca06,#fdca06,#fdca06,#fdca06,#fdca06,#fdcb05,#fec907,#fec60a,#fdbe15,#efb928,#d7ba45,#bebc57,#a7be61,#94bf68)"></i><i style="background:linear-gradient(#f8d600,#f9d400,#fad200,#fbd001,#fcce02,#fcce03,#fccd03,#fccc04,#fdcb05,#fdca06,#fdc907,#fec907,#fec907,#fdca06,#fdca06,#fdcb06,#fdcb05,#fdca06,#fec708,#febf13,#f1b925,#d6ba45,#b8bd5a,#9cbe65,#87bf6e)"></i><i style="background:linear-gradient(#f9d500,#f9d400,#fad100,#fbcf02,#fcce03,#fccd03,#fccd03,#fccc04,#fdcb05,#fdcb05,#fdcb05,#fdcb05,#fdcb05,#fdcb05,#fdcb05,#fdca06,#fdca06,#fec808,#fec60b,#fdbe14,#f1b925,#d7ba44,#b7bd5b,#95bf68,#79bf73)"></i><i style="background:linear-gradient(#f9d400,#f9d300,#fad200,#fbd001,#fcce03,#fccd03,#fccc04,#fdcb05,#fdca06,#fdca06,#fdca06,#fdcb05,#fdcb05,#fdcb05,#fdcb05,#fdca06,#fec807,#fec50b,#fec110,#f6ba1f,#e4b934,#c8bc58,#a3be62,#81bf70,#65bf7c)"></i><i style="background:linear-gradient(#f9d500,#f9d500,#f9d500,#f9d400,#fad200,#fad100,#fbd001,#fbcf02,#fccd03,#fccd04,#fdcc04,#fdcb05,#fdcb05,#fdcb05,#fdca06,#fec907,#fec808,#fec50b,#fec011,#f1b925,#daba40,#b9bd5a,#94bf68,#75bf75,#5fbe7f)"></i><i style="background:linear-gradient(#f8d700,#f7d800,#f7d800,#f8d600,#f9d500,#f9d400,#f9d300,#fad200,#fbd100,#fbd001,#fbcf02,#fccd03,#fdcb05,#fdca06,#fec907,#fec60a,#ffc40c,#fec110,#fcbd16,#edb929,#d7ba44,#b7bd5a,#93bf69,#79bf73,#65bf7c)"></i><i style="background:linear-gradient(#f8d700,#f7d900,#f6db00,#f7d900,#f8d700,#f9d500,#f9d400,#fad100,#fbcf02,#fccd03,#fdcb05,#fdca06,#fec907,#fec907,#fdca06,#fec907,#fec709,#ffc40c,#fec111,#f4ba21,#deba3b,#babd59,#8dbf6b,#6dbf78,#5abe81)"></i><i style="background:linear-gradient(#f7da00,#f6dc00,#f6de00,#f6dd00,#f6db00,#f7d800,#f8d600,#fad200,#fbcf02,#fccd03,#fdcb05,#fdca06,#fec907,#fec907,#fdca06,#fec907,#fec808,#fec60a,#ffc30d,#f9bb1b,#e7b930,#c8bc57,#9fbe64,#7ebf71,#68bf7b)"></i><i style="background:linear-gradient(#f6db00,#f6dd00,#f5de00,#f6dd00,#f7db00,#f7d800,#f9d500,#fad200,#fbcf02,#fcce02,#fccd03,#fdcc04,#fdcb06,#fdca06,#fec907,#fec709,#fec50b,#ffc40c,#ffc30d,#fabc19,#e9b92e,#cbbb54,#a2be62,#82bf6f,#6ebf78)"></i><i style="background:linear-gradient(#f7db00,#f7da00,#f7da00,#f7d800,#f8d700,#f8d600,#f9d400,#fad100,#fccf02,#fccd03,#fccc04,#fdcb05,#fec808,#fec50b,#fec20f,#fdbe15,#fbbd17,#fdbe14,#fec10f,#fdbe14,#f5ba20,#dbba3f,#b4bd5c,#8dbf6b,#69bf7a)"></i><i style="background:linear-gradient(#f7d900,#f8d700,#f8d600,#f8d600,#f8d600,#f8d600,#f9d400,#fbd101,#fccd03,#fdcc04,#fdcb05,#fec907,#fec50b,#fec110,#fcbd16,#f8ba1d,#f7ba1e,#f9bb1b,#fbbd17,#f6ba1f,#ecb92a,#d8ba42,#b7bd5b,#8cbf6b,#59be81)"></i><i style="background:linear-gradient(#f7d800,#f8d600,#f9d500,#f9d500,#f8d600,#f9d400,#fad200,#fbcf02,#fccd03,#fdcb05,#fdca06,#fec709,#ffc30d,#febf13,#fbbc19,#f6ba1e,#f4ba21,#f4ba22,#f1b924,#e5b933,#d8ba43,#c5bc5c,#a7be61,#82bf70,#53be84)"></i><i style="background:linear-gradient(#f7d900,#f8d800,#f8d600,#f9d500,#f9d500,#f9d300,#fad200,#fbd001,#fccd03,#fdcb05,#fec808,#ffc40c,#fec110,#febf13,#fcbd16,#f9bb1c,#f5ba20,#f2b923,#edb929,#dcba3d,#cabb56,#aebe5e,#8fbf6a,#73bf76,#55be84)"></i><i style="background:linear-gradient(#f8d700,#f8d700,#f8d700,#f8d600,#f9d400,#fad200,#fbcf02,#fccd03,#fdcc04,#fdcb05,#fdcb05,#fec907,#ffc50b,#febf13,#f7ba1e,#ecb92b,#e6b932,#e7b931,#e6b931,#d7ba44,#c0bc57,#97bf67,#6cbf79,#4ebd87,#3dbc90)"></i><i style="background:linear-gradient(#f9d500,#f9d500,#f9d400,#fad300,#fad300,#fad200,#fbd001,#fbcf01,#fbcf02,#fbcf02,#fcce03,#fdca06,#ffc40d,#fdbe15,#f7ba1e,#ecb92b,#e4b934,#e2b937,#e0ba39,#d1bb4c,#bbbd59,#94bf68,#69bf7a,#46bc8b,#30ba98)"></i><i style="background:linear-gradient(#f7d800,#f8d600,#f9d400,#fad300,#fad200,#fad100,#fbcf02,#fcce03,#fcce03,#fcce03,#fdcc05,#fec709,#fec20f,#febf12,#fdbe14,#fbbc18,#f8ba1d,#f6ba1e,#f5ba20,#ebb92c,#dbba40,#bbbd59,#93bf69,#6cbf79,#4bbd89)"></i><i style="background:linear-gradient(#f8d600,#f9d400,#fad200,#fad100,#fad100,#fbd001,#fccd03,#fdcc05,#fdcb05,#fdcc04,#fdcb06,#fec808,#ffc40c,#ffc30e,#ffc30d,#fec110,#febf13,#fdbe14,#fdbe15,#f6ba1e,#e7b931,#c4bc5e,#96bf67,#68bf7b,#3fbc8f)"></i><i style="background:linear-gradient(#fdcc05,#fec907,#fec808,#fdca06,#fccd03,#fcce02,#fcce03,#fcce03,#fcce03,#fbcf02,#fbd001,#fbcf02,#fdcc04,#fec808,#ffc50c,#febf12,#f9bb1b,#f4ba21,#f1b925,#e6b932,#d3bb4a,#a8be60,#6abf79,#2bb99b,#04b0b5)"></i><i style="background:linear-gradient(#fec907,#fec709,#fec808,#fdca06,#fdcc04,#fccc04,#fccd03,#fccf02,#fbd001,#fbd001,#fbd001,#fbd001,#fbcf02,#fcce03,#fdcb05,#fec50b,#fabc19,#ecb92b,#ddba3c,#c8bc57,#b0bd5d,#89bf6d,#50bd86,#1ab6a6,#00acbc)"></i><i style="background:linear-gradient(#fccd03,#fdcb06,#fec907,#fec709,#fec60a,#ffc40c,#ffc40c,#fec50b,#fec50b,#ffc30e,#fec110,#fec20e,#fec709,#fccc04,#fbcf02,#fdcb05,#fec110,#f5ba20,#ebb92c,#dfba3a,#d3bb49,#b6bd5b,#84bf6f,#41bc8e,#12b4ac)"></i><i style="background:linear-gradient(#fccf02,#fdcc05,#fec907,#fec808,#fec709,#fec709,#fec808,#fec808,#fec50b,#fec20f,#fec012,#fec110,#ffc30d,#fec50b,#ffc20e,#fabb1a,#edb92a,#e3b936,#ddba3c,#d5ba47,#c9bb56,#aebe5e,#81bf70,#49bd8a,#1cb6a5)"></i><i style="background:linear-gradient(#fccd04,#fccd04,#fccd03,#fccd03,#fdcc04,#fec907,#fec50b,#ffc30d,#ffc40c,#fec709,#fdca06,#fdcc04,#fdca06,#ffc30d,#fabc1a,#ebb92c,#deba3b,#d5ba47,#cbbb53,#b8bd5a,#a0be63,#7ebf71,#54be84,#2eb999,#14b4aa)"></i><i style="background:linear-gradient(#fdcc05,#fccd04,#fcce02,#fcce03,#fdcb06,#ffc30d,#fbbc18,#f7ba1d,#fbbc18,#ffc30e,#fec907,#fec907,#ffc40c,#fbbd17,#f2b924,#e4b934,#d5bb47,#c4bc5d,#b2bd5c,#9cbe65,#8cbf6c,#6fbf77,#47bd8b,#24b8a0,#10b3ad)"></i><i style="background:linear-gradient(#fccc04,#fccd04,#fccc04,#fdcb05,#fec808,#ffc40c,#febf12,#fcbd16,#fcbd16,#febf13,#fec110,#fec011,#fdbe14,#fabc1a,#f4ba22,#e2b936,#c5bc5c,#9ebe64,#7cbf72,#63bf7d,#64bf7c,#5abe81,#41bc8e,#27b89d,#15b5a9)"></i><i style="background:linear-gradient(#fbcf02,#fbd001,#fcce03,#fec808,#ffc30d,#fec012,#fdbe14,#fdbf13,#febf13,#fdbe14,#fbbd17,#f8bb1c,#f6ba1f,#f2b923,#ebb92c,#d6ba45,#b5bd5b,#8abf6c,#63be7d,#45bc8c,#41bc8e,#3abb92,#31ba97,#2ab99c,#25b89f)"></i><i style="background:linear-gradient(#fdcc05,#fdcc05,#fdca06,#fec60a,#fec10f,#fcbd15,#f9bb1b,#f7ba1e,#f5ba20,#f4ba21,#f3ba22,#f0b926,#ebb92c,#e1b937,#d5ba47,#c2bc56,#aebe5e,#9bbe65,#8dbf6b,#77bf74,#60be7e,#44bc8c,#2cb99a,#1db6a4,#14b4aa)"></i><i style="background:linear-gradient(#fdca06,#fec907,#fec907,#fdca06,#fdcb05,#fdcb05,#fdca06,#fdca06,#fdca06,#fec808,#ffc40c,#fcbd16,#f1b925,#e3b936,#d7ba44,#cabb55,#bebc57,#b3bd5c,#a9be60,#9cbe65,#8abf6c,#6dbf78,#48bd8a,#27b89d,#11b4ac)"></i><i style="background:linear-gradient(#f9d500,#fbd001,#fccd04,#fccd04,#fbd001,#fad300,#f9d500,#f9d500,#fad200,#fdcc04,#ffc20e,#f5ba20,#e5b933,#deba3c,#e2b936,#e8b930,#e7b930,#dfba3a,#d6ba46,#cabb55,#c0bc57,#afbd5e,#94bf68,#72bf76,#46bd8b)"></i><i style="background:linear-gradient(#fdca06,#ffc30e,#fec012,#fec20e,#fec808,#fccd04,#fbcf02,#fccf02,#fdcb06,#ffc40c,#fabc19,#ebb92b,#ddba3c,#daba41,#e2b937,#edb92a,#f4ba21,#f4ba21,#eeb928,#dbba40,#c3bc59,#a1be63,#77bf74,#43bc8d,#12b4ac)"></i><i style="background:linear-gradient(#fec110,#fec10f,#fec50b,#fccd03,#f9d300,#f9d400,#fbd001,#fec709,#fdbe15,#f3ba23,#e9b92e,#e1ba38,#deba3b,#e3b935,#edb92a,#f4ba22,#f6ba1f,#efb927,#dcba3d,#babd59,#8cbf6b,#51bd86,#1eb7a3,#02afb6,#00a9c0)"></i><i style="background:linear-gradient(#fec808,#fec907,#fccc04,#fad100,#f9d500,#fad300,#fdca06,#fcbd17,#e7b931,#d3bb4a,#c7bc59,#c2bc57,#c5bc5b,#cdbb52,#d3bb49,#d3bb49,#cfbb4e,#c1bc56,#a7be61,#80bf71,#56be83,#34ba96,#1cb6a5,#10b3ad,#09b2b2)"></i><i style="background:linear-gradient(#fec907,#fec709,#fec60a,#fec808,#fdcb05,#fec907,#fec110,#f4ba21,#e1ba38,#cebb50,#bfbc57,#b2bd5c,#adbe5f,#adbe5e,#b2bd5c,#b7bd5b,#bdbc58,#bcbd59,#aabe60,#80bf70,#4fbd86,#2db99a,#1eb6a4,#17b5a8,#0db3af)"></i><i style="background:linear-gradient(#ffc40c,#ffc20e,#fec20f,#fec50b,#fdca06,#fec808,#fec110,#f7ba1e,#ebb92c,#e3b935,#e1ba38,#e3b936,#e8b92f,#ecb92b,#e9b92e,#dbba3f,#c9bc57,#b2bd5c,#94bf68,#64bf7c,#31ba97,#10b3ad,#02afb6,#01aeb8,#00adba)"></i><i style="background:linear-gradient(#f5ba20,#fabc1a,#fdbe14,#fec110,#ffc30d,#fec110,#fbbc18,#f2b923,#ebb92c,#edb92a,#f7ba1e,#febf12,#ffc40d,#febf12,#edb92a,#c6bc5a,#94bf68,#5cbe80,#3dbb90,#24b89f,#0ab2b1,#00a8c3,#009dce,#0098d0,#009bd0)"></i><i style="background:linear-gradient(#febf13,#ffc40c,#fec709,#fec60a,#fec20f,#fcbd15,#fabc19,#fbbd17,#fdbe14,#febf12,#fdbe14,#fabc19,#f2b923,#e4b934,#d1bb4c,#b8bd5a,#98bf67,#73bf76,#5ebe7f,#4dbd87,#35ba95,#10b3ad,#00aac0,#00a5c7,#00a7c4)"></i><i style="background:linear-gradient(#ffc20e,#fec110,#febf13,#fbbd17,#f7ba1d,#f2b924,#eeb928,#eeb928,#f2b924,#f9bb1c,#fcbd16,#fcbd16,#f5ba21,#e3b935,#cebb50,#b9bd5a,#a3be62,#84bf6f,#69bf7a,#59be81,#51bd85,#3dbb90,#1eb7a3,#07b1b3,#00acbc)"></i><i style="background:linear-gradient(#ffc30d,#fec709,#fec709,#ffc20e,#fbbc18,#f0b926,#e2b937,#d3bb49,#c8bc57,#c9bc57,#d2bb4b,#dcba3e,#ddba3d,#d0bb4e,#bfbc57,#b1bd5d,#acbe5f,#a8be60,#a4be62,#95bf68,#72bf76,#34ba95,#07b1b3,#00abbd,#00acbc)"></i><i style="background:linear-gradient(#fccd03,#f9d500,#f7d900,#fad300,#fec708,#fabc1a,#e8b92f,#d5ba46,#c8bc58,#c8bc58,#d4bb48,#e4b934,#edb929,#eab92d,#deba3b,#cebb50,#c4bc5d,#c1bc56,#cabb56,#cbbb53,#b7bd5a,#80bf70,#36bb94,#15b5a9,#18b5a7)"></i><i style="background:linear-gradient(#febf13,#fec20f,#fec60a,#fec60a,#fec011,#f6ba1f,#e9b92e,#e0ba39,#dfba3a,#eab92c,#fabb1a,#fec20f,#ffc20e,#fbbd17,#ebb92c,#d3bb49,#c3bc59,#bebc58,#c5bc5c,#c7bc59,#b7bd5a,#87bf6d,#37bb94,#03afb6,#00a8c3)"></i><i style="background:linear-gradient(#fec50b,#ffc30d,#fec10f,#febf13,#fabc19,#f3ba22,#eeb928,#ecb92a,#eeb929,#f1b925,#f1b925,#ebb92c,#deba3b,#cebb50,#bfbc57,#b3bd5c,#aebe5e,#a8be60,#9dbe65,#84bf6f,#5fbe7f,#37bb94,#1bb6a5,#0cb2b0,#00aeb9)"></i><i style="background:linear-gradient(#f7d800,#fbd101,#fec60a,#fbbc18,#f1b925,#ebb92c,#eab92d,#ecb92b,#eab92e,#e1b937,#d4bb48,#c7bc59,#c2bc56,#c4bc5d,#cabb55,#cfbb4e,#d3bb49,#cbbb54,#bbbd59,#9cbe65,#73bf76,#50bd86,#46bc8b,#4cbd88,#3fbc8f)"></i><i style="background:linear-gradient(#f8d600,#fccd03,#febf12,#efb927,#e4b934,#e5b933,#edb92a,#f0b925,#eab92e,#dcba3d,#d0bb4d,#c9bc57,#c8bc58,#c9bb56,#c9bb56,#c7bc59,#c5bc5c,#b9bd5a,#a6be61,#8abf6c,#69bf7a,#4dbd88,#41bc8e,#43bc8d,#32ba97)"></i><i style="background:linear-gradient(#fdca06,#febf12,#edb929,#daba40,#d1bb4c,#d1bb4b,#d6ba45,#d7ba44,#d4bb48,#d2bb4a,#d1bb4b,#cebb50,#c7bc59,#babd59,#a4be62,#8cbf6b,#7bbf72,#66bf7b,#53be85,#3fbc8f,#30ba98,#25b89f,#1fb7a3,#1ab6a6,#07b1b3)"></i><i style="background:linear-gradient(#fec60a,#fcbd16,#efb927,#e1ba38,#d4bb48,#cbbb54,#c6bc5a,#c7bc5a,#cabb55,#cebb4f,#cfbb4e,#cfbb4f,#d1bb4c,#d1bb4c,#cbbb54,#bfbc57,#afbd5e,#9abe66,#8ebf6b,#89bf6d,#82bf6f,#68bf7b,#3ebc90,#1ab6a6,#00acbb)"></i><i style="background:linear-gradient(#fec20e,#febf12,#fabc1a,#f2b923,#e9b92e,#e0ba39,#dbba3f,#d9ba42,#d8ba43,#d7ba45,#d6ba45,#d9ba41,#dfba3a,#dfba3a,#d7ba44,#cbbb54,#bebc57,#a9be60,#97bf67,#86bf6e,#6dbf78,#3dbb90,#11b4ac,#00adbb,#00a8c2)"></i><i style="background:linear-gradient(#ecb92b,#e7b931,#e2b936,#e0ba39,#dfba3a,#deba3b,#dbba3f,#d6ba45,#cebb4f,#c5bc5c,#bcbd58,#b6bd5b,#b4bd5c,#afbd5d,#a4be62,#94bf68,#82bf70,#66bf7b,#56be83,#50bd86,#45bc8c,#1eb7a3,#00aabf,#009dce,#008fd2)"></i><i style="background:linear-gradient(#e0ba39,#d2bb4b,#c5bc5c,#bebc57,#bebc57,#c1bc56,#c2bc57,#c2bc56,#bebc57,#b8bd5a,#aebe5e,#a3be62,#9cbe65,#99bf66,#96bf67,#8fbf6a,#80bf70,#61be7e,#49bd89,#3cbb91,#30ba98,#11b4ac,#00a8c3,#009ad0,#0085d3)"></i><i style="background:linear-gradient(#e2b937,#e3b936,#e2b937,#e0ba39,#dbba3f,#cebb4f,#b9bd5a,#a4be62,#9bbe65,#9ebe64,#a2be63,#a4be62,#abbe5f,#babd59,#c9bc57,#cdbb52,#bcbd58,#8abf6c,#43bc8d,#11b4ac,#00abbd,#00a3c9,#0097d1,#0090d2,#008fd2)"></i><i style="background:linear-gradient(#e2b937,#e5b933,#e6b932,#e8b930,#e7b930,#e0ba39,#d2bb4a,#c3bc5c,#b5bd5b,#a3be62,#8dbf6b,#84bf6f,#99bf66,#c1bc56,#e2b937,#edb92a,#daba40,#a4be62,#4cbd88,#05b0b4,#00a3c9,#0097d1,#008ed2,#0091d2,#0096d1)"></i><i style="background:linear-gradient(#daba40,#dcba3e,#d9ba41,#d1bb4c,#c1bc56,#afbd5e,#a2be63,#9dbe65,#96bf68,#7fbf71,#5bbe80,#49bd8a,#58be82,#7cbf72,#9abf66,#a6be61,#a1be63,#84bf6f,#52be85,#18b5a8,#00aac0,#009dce,#0091d2,#0091d2,#0095d1)"></i><i style="background:linear-gradient(#cabb55,#cbbb54,#cabb56,#c2bc58,#b3bd5c,#a2be62,#9ebe64,#a3be62,#a5be62,#97bf67,#7dbf72,#66bf7b,#5abe81,#56be83,#5dbe80,#76bf74,#96bf68,#a1be63,#8ebf6b,#51be85,#11b4ac,#00a5c7,#0092d1,#0088d3,#0086d3)"></i></div>
<div class="p" style="left:57.4px;top:250.9px;width:240.6px;height:239.2px"><i style="background:#f9fb00"></i><i style="background:#f9fb00"></i><i style="background:#f9fb00"></i><i style="background:#f9fb00"></i><i style="background:#f9fb00"></i><i style="background:#f9fb00"></i><i style="background:#f9fb00"></i><i style="background:#f9fb00"></i><i style="background:#f9fb00"></i><i style="background:#f9fb00"></i><i style="background:#f9fb00"></i><i style="background:#f9fb00"></i><i style="background:#f9fb00"></i><i style="background:#f9fb00"></i><i style="background:#f9fb00"></i><i style="background:#f9fb00"></i><i style="background:#f9fb00"></i><i style="background:#f9fb00"></i><i style="background:#f9fb00"></i><i style="background:#f9fb00"></i><i style="background:linear-gradient(#f9fb00,#f9fb00,#f9fb00,#f9fb00,#f9fb00,#f9fb00,#f9fb00,#f9fb00,#f9fb00,#f9fb00,#f9fa00,#f9fa00,#f9fa00,#f9fa00,#f9fa00,#f9fa00,#f9fa00,#f9fa00,#f9fa00,#f9fa00,#f8f800,#f7f600,#f7f600,#f7f600,#f7f500)"></i><i style="background:linear-gradient(#f9fa00,#f9fa00,#f9fa00,#f9fa00,#f8f800,#f8f600,#f8f600,#f8f600,#f7f600,#f7f600,#f7f300,#f6f200,#f6f200,#f6f200,#f6f200,#f6f200,#f6f100,#f6f100,#f6f000,#f6f000,#f5ed00,#f5eb00,#f5ea00,#f5ea00,#f5e900)"></i><i style="background:linear-gradient(#f6f100,#f6f100,#f6f100,#f6f100,#f6ef00,#f5ee00,#f5ee00,#f5ed00,#f5ed00,#f5ed00,#f5ec00,#f5ec00,#f5eb00,#f5eb00,#f5eb00,#f5eb00,#f5ea00,#f5ea00,#f5e800,#f5e700,#f5e600,#f5e400,#f5e300,#f5e200,#f5e100)"></i><i style="background:linear-gradient(#f5eb00,#f5eb00,#f5eb00,#f5eb00,#f5eb00,#f5eb00,#f5ea00,#f5ea00,#f5ea00,#f5e900,#f5e900,#f5e900,#f5e900,#f5e900,#f5e800,#f5e800,#f5e700,#f5e500,#f5e400,#f5e200,#f5e000,#f5df00,#f6dd00,#f7db00,#f7d900)"></i><i style="background:linear-gradient(#f5e900,#f5e900,#f5e900,#f5e900,#f5e800,#f5e800,#f5e800,#f5e800,#f5e700,#f5e700,#f5e700,#f5e600,#f5e600,#f5e600,#f5e600,#f5e500,#f5e300,#f5e200,#f5e000,#f6dd00,#f7da00,#f8d700,#f9d400,#fad100,#fbcf01)"></i><i style="background:linear-gradient(#f5e700,#f5e700,#f5e700,#f5e600,#f5e600,#f5e600,#f5e600,#f5e500,#f5e500,#f5e500,#f5e400,#f5e400,#f5e400,#f5e300,#f5e300,#f5e200,#f5e000,#f6de00,#f7da00,#f8d600,#fad100,#fcce03,#fdca06,#fec709,#fec50b)"></i><i style="background:linear-gradient(#f5e500,#f5e500,#f5e400,#f5e400,#f5e400,#f5e400,#f5e300,#f5e300,#f5e300,#f5e200,#f5e200,#f5e200,#f5e100,#f5e100,#f5e000,#f5df00,#f6dd00,#f7d800,#fad200,#fccc04,#fec808,#ffc40c,#fec011,#fdbe15,#fabc19)"></i><i style="background:linear-gradient(#f5e200,#f5e200,#f5e200,#f5e200,#f5e200,#f5e100,#f5e100,#f5e100,#f5e100,#f5e000,#f5e000,#f5df00,#f5df00,#f5de00,#f6de00,#f6dc00,#f8d700,#fbcf02,#fec808,#ffc30e,#fdbf13,#fabc19,#f5ba20,#f0b927,#eab92d)"></i><i style="background:linear-gradient(#f5e000,#f5e000,#f5e000,#f5e000,#f5e000,#f5df00,#f5df00,#f5df00,#f5df00,#f5de00,#f6de00,#f6dd00,#f6dd00,#f6dc00,#f6db00,#f7d800,#fbd100,#fec50b,#febf12,#fbbc18,#f6ba1f,#efb927,#e7b930,#dfba3a,#d8ba43)"></i><i style="background:linear-gradient(#f5de00,#f5de00,#f5de00,#f5de00,#f6de00,#f6dd00,#f6dd00,#f6dd00,#f6dc00,#f6dc00,#f6db00,#f7da00,#f7d900,#f7d800,#f8d600,#f9d300,#fdca06,#fdbe14,#fabc19,#f5ba20,#ecb92a,#e3b935,#d9ba42,#cebb50,#c5bc5d)"></i><i style="background:linear-gradient(#f6dc00,#f6dc00,#f6dc00,#f6dc00,#f6db00,#f6db00,#f7da00,#f7da00,#f7d900,#f7d800,#f8d700,#f8d600,#f9d500,#f9d300,#fad200,#fbcf02,#fec60a,#fbbd17,#f7ba1d,#eeb928,#e2b936,#d6ba45,#cabb56,#bcbd58,#afbd5e)"></i><i style="background:linear-gradient(#f7d900,#f7d900,#f7d900,#f7d800,#f8d700,#f8d700,#f8d600,#f9d500,#f9d400,#f9d300,#fad200,#fad100,#fbd101,#fbcf02,#fccd04,#fdca06,#ffc30d,#fabc1a,#f3ba22,#e7b931,#d8ba43,#cabb56,#babd59,#a8be61,#97bf67)"></i><i style="background:linear-gradient(#f9d500,#f9d500,#f9d500,#f9d400,#f9d300,#fad300,#fad200,#fad100,#fbd001,#fccf02,#fccd03,#fccd03,#fccc04,#fdca06,#fec808,#fec60a,#fec110,#f8bb1c,#efb927,#dfba3a,#cebb50,#bcbd58,#a8be60,#92bf69,#7dbf71)"></i><i style="background:linear-gradient(#fad100,#fad100,#fad100,#fbd001,#fbcf01,#fbcf02,#fcce02,#fccd04,#fdcb05,#fdca06,#fec907,#fec907,#fec808,#fec60a,#ffc30d,#fec20f,#fdbf13,#f7ba1e,#ecb92b,#d9ba41,#c5bc5c,#b0bd5d,#98bf67,#7cbf72,#64bf7c)"></i><i style="background:linear-gradient(#fccd03,#fccd03,#fccd03,#fccc04,#fdcb05,#fdcb05,#fdca06,#fec907,#fec709,#fec60a,#fec50b,#fec50b,#fec50b,#ffc30d,#fec110,#febf12,#fcbd15,#f6ba1f,#ebb92c,#d8ba43,#c3bc59,#abbe5f,#90bf6a,#73bf76,#59be82)"></i><i style="background:linear-gradient(#fdca06,#fdca06,#fdca07,#fec907,#fec808,#fec808,#fec808,#fec60a,#ffc40c,#ffc40c,#ffc40c,#ffc40c,#ffc30d,#fec20f,#fec011,#fdbe14,#fbbd17,#f3ba22,#e8b930,#d4bb48,#bfbc57,#a5be61,#89bf6d,#69bf7a,#4dbd87)"></i><i style="background:linear-gradient(#fec808,#fec808,#fec808,#fec808,#fec709,#fec709,#fec709,#fec60a,#ffc40c,#ffc40c,#ffc40c,#ffc30d,#ffc20e,#fec110,#febf12,#fcbd16,#f9bb1b,#efb928,#e1b937,#cebb50,#b7bd5a,#9bbe65,#7bbf72,#57be83,#3abb92)"></i><i style="background:linear-gradient(#fec709,#fec709,#fec709,#fec709,#fec709,#fec709,#fec709,#fec60a,#ffc40c,#ffc40c,#ffc40c,#ffc30e,#fec10f,#fec012,#fdbe14,#fbbc18,#f6ba1f,#eab92d,#dbba3f,#c7bc5a,#afbd5e,#8fbf6a,#6bbf79,#44bc8c,#27b89d)"></i><i style="background:linear-gradient(#fec709,#fec709,#fec709,#fec709,#fec709,#fec709,#fec709,#fec60a,#ffc40c,#ffc40c,#ffc30d,#fec20f,#fec011,#febf13,#fcbd16,#f8bb1c,#f2b923,#e5b933,#d5ba47,#c0bc57,#a6be61,#84bf6f,#5dbe80,#35ba95,#1bb6a6)"></i><i style="background:linear-gradient(#fec709,#fec709,#fec709,#fec709,#fec709,#fec709,#fec60a,#fec50b,#ffc40c,#ffc30d,#ffc30e,#fec110,#fec012,#fdbe15,#fabc19,#f5ba20,#eeb929,#e0ba39,#cfbb4e,#b8bd5a,#9cbe65,#79bf73,#50bd86,#2ab99b,#12b4ac)"></i><i style="background:linear-gradient(#fec709,#fec709,#fec709,#fec709,#fec709,#fec60a,#fec50b,#fec50b,#ffc40c,#ffc30d,#fec20f,#fec011,#febf13,#fcbd17,#f9bb1c,#f2b924,#e9b92e,#daba40,#cabb55,#b1bd5d,#92bf69,#6dbf78,#44bc8c,#21b7a2,#0ab2b2)"></i><i style="background:linear-gradient(#fec709,#fec709,#fec709,#fec709,#fec709,#fec60a,#fec50b,#ffc40c,#ffc40c,#ffc30e,#fec110,#fec012,#fdbe14,#fabc19,#f7ba1e,#eeb928,#e4b934,#d5ba46,#c5bc5d,#a9be60,#88bf6d,#61be7e,#39bb93,#18b5a8,#02afb6)"></i><i style="background:linear-gradient(#fec709,#fec709,#fec709,#fec709,#fec709,#fec60a,#ffc40c,#ffc40c,#ffc40d,#ffc20e,#fec110,#febf13,#fcbd16,#f9bb1b,#f4ba21,#ebb92c,#e0ba39,#d1bb4c,#c0bc56,#a2be63,#7fbf71,#57be83,#30ba98,#12b4ac,#00adb9)"></i><i style="background:linear-gradient(#fec709,#fec709,#fec709,#fec709,#fec709,#fec50b,#ffc40c,#ffc40d,#ffc30d,#fec20f,#fec011,#fdbe14,#fbbd17,#f8bb1c,#f3b923,#e8b92f,#ddba3d,#cebb50,#bcbd58,#9cbe65,#77bf74,#4ebd87,#29b99c,#0eb3af,#00adba)"></i><i style="background:linear-gradient(#fec709,#fec709,#fec709,#fec709,#fec60a,#fec50b,#ffc40c,#ffc30d,#ffc30e,#fec110,#febf12,#fdbe15,#fabc19,#f7ba1e,#f1b925,#e6b932,#d9ba41,#cabb55,#b8bd5a,#97bf67,#6fbf77,#46bd8b,#23b7a0,#0ab2b1,#00acbc)"></i><i style="background:linear-gradient(#fec709,#fec709,#fec709,#fec60a,#fec60b,#fec50b,#ffc40c,#ffc30d,#fec20e,#fec110,#febf13,#fcbd16,#f9bb1b,#f5ba20,#efb927,#e3b935,#d6ba45,#c7bc5a,#b4bd5c,#91bf69,#68bf7b,#3ebc8f,#1db6a4,#07b1b3,#00abbd)"></i><i style="background:linear-gradient(#fec709,#fec709,#fec709,#fec60a,#fec50b,#ffc50c,#ffc40c,#ffc30e,#fec20f,#fec011,#fdbe14,#fbbc18,#f8bb1c,#f4ba22,#eeb929,#e1ba38,#d3bb4a,#c3bc5a,#afbd5d,#8bbf6c,#60be7e,#37bb94,#17b5a8,#04afb5,#00abbe)"></i><i style="background:linear-gradient(#fec709,#fec709,#fec709,#fec60a,#ffc50c,#ffc40c,#ffc40c,#ffc30e,#fec110,#fec012,#fdbe14,#fabc19,#f7ba1e,#f2b924,#ecb92b,#deba3b,#cfbb4e,#bfbc57,#abbe5f,#85bf6e,#58be82,#30ba98,#12b4ac,#01aeb7,#00aabf)"></i><i style="background:linear-gradient(#fec709,#fec709,#fec709,#fec60a,#ffc40c,#ffc40c,#ffc40c,#ffc30e,#fec110,#fec012,#fdbe14,#fabc19,#f7ba1e,#f2b924,#ebb92c,#ddba3d,#cdbb51,#bcbd58,#a7be61,#80bf70,#51bd85,#2bb99b,#0eb3ae,#00aeb9,#00aac0)"></i><i style="background:linear-gradient(#fec709,#fec709,#fec709,#fec60a,#ffc40c,#ffc40c,#ffc40c,#ffc30e,#fec20f,#fec011,#febf13,#fbbd17,#f8ba1d,#f2b923,#ebb92c,#dcba3e,#cbbb53,#babd59,#a3be62,#7cbf72,#4dbd88,#28b89d,#0db3af,#00adb9,#00aac0)"></i><i style="background:linear-gradient(#fec709,#fec709,#fec709,#fec60a,#ffc40c,#ffc40c,#ffc40c,#ffc30d,#fec20f,#fec110,#fec012,#fcbd16,#f9bb1b,#f3ba23,#ebb92c,#dbba3f,#cabb55,#b7bd5a,#a0be64,#77bf74,#48bd8a,#25b89f,#0bb2b0,#00adba,#00aac0)"></i><i style="background:linear-gradient(#fec709,#fec709,#fec709,#fec60a,#ffc40c,#ffc40c,#ffc40c,#ffc30d,#ffc20e,#fec20f,#fec110,#fdbe15,#fabb1a,#f4ba22,#ebb92c,#daba40,#c8bc58,#b4bd5b,#9cbe65,#73bf76,#44bc8d,#22b7a1,#0ab2b1,#00adba,#00aac0)"></i><i style="background:linear-gradient(#fec709,#fec709,#fec709,#fec60a,#ffc40c,#ffc40c,#ffc40c,#ffc40d,#ffc30d,#ffc20e,#fec10f,#febf13,#fabc19,#f4ba21,#ebb92c,#daba41,#c7bc5a,#b2bd5c,#98bf66,#6ebf78,#3fbc8f,#1fb7a2,#08b1b2,#00adba,#00aac0)"></i><i style="background:linear-gradient(#fec709,#fec709,#fec709,#fec60a,#ffc40c,#ffc40c,#ffc40c,#ffc40c,#ffc30d,#ffc30d,#ffc20e,#fec012,#fbbd17,#f5ba20,#ebb92c,#d9ba42,#c5bc5c,#afbd5e,#95bf68,#6abf7a,#3bbb91,#1db6a4,#07b1b3,#00acbb,#00aac0)"></i><i style="background:linear-gradient(#fec709,#fec709,#fec709,#fec60a,#ffc40c,#ffc40c,#ffc40c,#ffc40c,#ffc40c,#ffc40d,#ffc30d,#fec011,#fcbd16,#f5ba1f,#ebb92c,#d8ba42,#c4bc5e,#adbe5f,#91bf69,#65bf7c,#37bb94,#1ab6a6,#05b0b4,#00acbb,#00aac0)"></i><i style="background:linear-gradient(#fec808,#fec808,#fec708,#fec60a,#ffc40c,#ffc40c,#ffc40d,#ffc30d,#ffc30d,#ffc30d,#ffc20e,#fec011,#fdbd15,#f6ba1f,#ebb92c,#d8ba43,#c3bc5a,#abbe5f,#8ebf6b,#62be7d,#35ba95,#19b6a6,#05b0b4,#00acbb,#00aac0)"></i><i style="background:linear-gradient(#fec808,#fec808,#fec808,#fec60a,#ffc40c,#ffc30d,#ffc30e,#fec20e,#fec20f,#fec110,#fec011,#febf13,#fcbd16,#f6ba1f,#ebb92c,#d8ba43,#c3bc5a,#aabe60,#8cbf6b,#61be7e,#35ba95,#1ab6a6,#07b1b4,#00adba,#00aabf)"></i><i style="background:linear-gradient(#fec907,#fec907,#fec808,#fec60a,#ffc40c,#ffc30d,#fec20f,#fec110,#fec012,#febf13,#fdbe14,#fdbe15,#fcbd16,#f6ba1f,#ebb92c,#d8ba43,#c3bc5a,#a9be60,#8bbf6c,#60be7e,#35ba95,#1bb6a5,#08b1b3,#00adba,#00abbe)"></i><i style="background:linear-gradient(#fec907,#fec907,#fec907,#fec709,#ffc40c,#ffc30e,#fec110,#fec012,#fdbe14,#fcbd16,#fbbc18,#fcbd17,#fcbd16,#f6ba1f,#ebb92c,#d8ba43,#c3bc59,#a8be60,#89bf6d,#5fbe7f,#35ba95,#1cb6a5,#09b2b2,#00aeb9,#00abbd)"></i><i style="background:linear-gradient(#fdc907,#fdc907,#fec907,#fec709,#ffc40c,#fec20e,#fec011,#fdbe14,#fcbd17,#fabc1a,#f8bb1c,#fabc19,#fcbd16,#f6ba1f,#ebb92c,#d8ba43,#c3bc59,#a7be61,#87bf6d,#5ebe7f,#35ba95,#1db6a4,#0bb2b1,#00aeb8,#00abbd)"></i><i style="background:linear-gradient(#fdca06,#fdca06,#fdca06,#fec709,#ffc40c,#fec20f,#febf12,#fcbd16,#fabc19,#f7ba1d,#f5ba20,#f9bb1b,#fcbd16,#f6ba1f,#ebb92c,#d8ba43,#c2bc59,#a6be61,#86bf6e,#5dbe80,#35ba95,#1db6a4,#0cb2b0,#01aeb7,#00acbc)"></i><i style="background:linear-gradient(#fdca06,#fdca06,#fdca06,#fec709,#ffc40c,#fec110,#fdbf13,#fbbc18,#f8bb1c,#f4ba21,#f2b924,#f8ba1d,#fcbd17,#f6ba1f,#ebb92c,#d8ba43,#c2bc58,#a6be61,#84bf6f,#5cbe80,#35ba95,#1eb7a3,#0db3af,#02afb6,#00acbb)"></i><i style="background:linear-gradient(#fdcb05,#fdcb05,#fdca06,#fec709,#ffc40d,#fec011,#fdbe15,#fabb1a,#f6ba1f,#f1b925,#eeb928,#f6ba1f,#fbbc18,#f5ba20,#eab92d,#d7ba44,#c2bc56,#a4be62,#82bf6f,#5abe81,#35ba95,#1fb7a3,#0eb3ae,#03afb6,#00adbb)"></i><i style="background:linear-gradient(#fdcb05,#fdcb05,#fdca06,#fec60a,#fec20f,#fdbe14,#fabc19,#f7ba1e,#f2b924,#eeb929,#ebb92c,#f3ba22,#fabb1a,#f3b923,#e7b930,#d4bb47,#bfbc57,#a2be63,#80bf70,#58be82,#33ba96,#1eb7a3,#0eb3ae,#04afb5,#00adba)"></i><i style="background:linear-gradient(#fdcb05,#fdcb05,#fdca06,#fec50b,#febf12,#fbbc18,#f8ba1d,#f3ba22,#eeb928,#eab92d,#e7b930,#f0b926,#f8ba1d,#f0b927,#e3b935,#d1bb4c,#bcbd58,#9fbe64,#7ebf71,#56be83,#31ba97,#1db6a4,#0eb3ae,#04afb5,#00adba)"></i><i style="background:linear-gradient(#fdcb05,#fdcb05,#fdca06,#ffc30d,#fcbd16,#f8bb1c,#f4ba22,#efb927,#ebb92c,#e6b931,#e4b934,#edb929,#f5ba20,#ecb92a,#dfba3a,#cdbb51,#b9bd5a,#9cbe65,#7bbf72,#54be84,#30ba98,#1db6a4,#0eb3ae,#04b0b5,#00adba)"></i><i style="background:linear-gradient(#fdca06,#fdca06,#fec907,#fec10f,#f9bb1b,#f4ba21,#f0b926,#ecb92b,#e8b930,#e4b934,#e3b936,#ecb92a,#f4ba21,#eab92d,#dcba3d,#cabb55,#b5bd5b,#97bf67,#76bf74,#4fbd87,#2db99a,#1cb6a4,#0fb3ae,#03afb6,#00acbb)"></i><i style="background:linear-gradient(#fdcb06,#fdca06,#fec907,#fec011,#f5ba20,#f0b926,#ecb92b,#e8b930,#e4b935,#e0ba38,#dfba3b,#e8b92f,#f0b926,#e6b932,#d8ba42,#c8bc58,#b3bd5c,#97bf67,#77bf74,#50bd86,#2fb999,#1fb7a3,#11b4ac,#05b0b5,#00adbb)"></i><i style="background:linear-gradient(#fdca06,#fdca06,#fec907,#fdbf13,#f2b924,#ecb92b,#e7b931,#e2b936,#deba3b,#dbba40,#d9ba42,#e2b936,#ecb92b,#e1b937,#d4bb48,#c5bc5d,#b2bd5d,#97bf67,#76bf74,#4dbd88,#29b99d,#19b5a7,#0db3af,#03afb6,#00acbb)"></i><i style="background:linear-gradient(#fdca06,#fdcb05,#fdc907,#febf13,#f2b924,#ecb92a,#e7b930,#e2b937,#dcba3e,#d9ba42,#d9ba42,#e4b934,#edb929,#e2b936,#d2bb4a,#bfbc57,#a6be61,#87bf6e,#63bf7d,#3abb92,#1bb6a5,#0fb3ae,#06b1b4,#00aeb8,#00acbb)"></i><i style="background:linear-gradient(#fdcb06,#fdca06,#fec907,#fdbe15,#efb927,#eab92d,#e6b931,#e2b936,#dfba3a,#deba3b,#e0ba39,#e9b92e,#f0b926,#e3b935,#d0bb4d,#babd59,#9fbe64,#7ebf71,#5bbe81,#34ba95,#17b5a8,#0cb2b0,#05b0b5,#00adb9,#00abbd)"></i><i style="background:linear-gradient(#fec808,#fec709,#fec50b,#fabc1a,#ecb92b,#e8b92f,#e7b931,#e5b933,#e3b935,#e3b936,#e3b936,#e8b92f,#ecb92b,#deba3b,#ccbb52,#b7bd5a,#9fbe64,#85bf6e,#67bf7b,#40bc8e,#1fb7a2,#11b4ac,#05b0b5,#00abbd,#00a7c4)"></i><i style="background:linear-gradient(#fdca06,#fec907,#fec907,#fec110,#f8bb1c,#f3ba22,#efb927,#ebb92c,#e7b930,#e5b933,#e2b937,#e3b935,#e5b933,#daba40,#cdbb51,#bebc57,#abbe5f,#95bf68,#7bbf72,#54be84,#2fba99,#1cb6a5,#0cb2b0,#00acbb,#00a7c4)"></i><i style="background:linear-gradient(#fcce02,#fcce02,#fcce03,#fec808,#fec110,#fcbd16,#f7ba1e,#f0b926,#ecb92b,#eab92d,#e9b92f,#e8b930,#e6b932,#daba40,#cdbb51,#bdbc58,#a9be60,#93bf69,#7bbf72,#57be82,#34ba95,#22b7a1,#13b4ab,#04afb5,#00abbd)"></i><i style="background:linear-gradient(#fdcc04,#fdcc04,#fdcc04,#fec709,#fec110,#fdbe15,#f8bb1c,#f3b923,#efb927,#efb927,#efb927,#ecb92b,#e5b933,#d6ba46,#c5bc5c,#b1bd5d,#9bbe65,#85bf6e,#6dbf78,#46bd8b,#23b7a0,#10b3ad,#01afb7,#00aabf,#00a6c5)"></i><i style="background:linear-gradient(#fdcb05,#fdcb05,#fdca06,#fec50b,#febf12,#fbbc18,#f8ba1d,#f5ba20,#f4ba21,#f4ba21,#f3ba22,#edb929,#e3b935,#d2bb4a,#bfbc57,#a5be61,#8cbf6c,#75bf75,#5fbe7f,#3ebc8f,#20b7a2,#0db3af,#00adba,#00a8c3,#00a3c9)"></i><i style="background:linear-gradient(#fccd04,#fccd03,#fccd03,#fec907,#ffc30d,#febf13,#fbbc18,#fabc1a,#fabc19,#fabc19,#f8bb1d,#efb927,#e3b935,#d3bb49,#bdbc58,#9dbe65,#7bbf73,#5fbe7f,#48bd8a,#2db99a,#16b5a9,#08b1b3,#00acbb,#00a8c3,#00a3c9)"></i><i style="background:linear-gradient(#fccd04,#fcce03,#fbcf02,#fccd04,#fec907,#ffc40d,#fec012,#fdbe15,#fcbd15,#fcbd16,#f9bb1b,#ebb92c,#d8ba43,#c3bc5b,#a9be60,#87bf6e,#63be7d,#4abd89,#39bb92,#23b7a0,#0db3af,#00aeb8,#00aabf,#00a6c6,#00a1cb)"></i><i style="background:linear-gradient(#fcce03,#fbcf02,#fbd100,#fbd001,#fccd04,#fec709,#fec110,#fbbc18,#f8ba1d,#f7ba1e,#f4ba21,#e5b933,#cebb50,#b5bd5b,#9bbe65,#83bf6f,#69bf7a,#54be84,#43bc8d,#29b99c,#12b4ac,#03afb6,#00aabf,#00a6c6,#00a1cb)"></i><i style="background:linear-gradient(#fdcb05,#fccd03,#fbd001,#fbcf02,#fccc04,#fec60a,#fdbe14,#f4ba21,#ecb92b,#e7b930,#e5b933,#daba40,#cbbb53,#babd59,#a9be60,#9abe66,#8abf6c,#76bf74,#5bbe81,#33ba96,#15b5aa,#03afb6,#00a9c0,#00a3c9,#009dce)"></i><i style="background:linear-gradient(#fec709,#fec808,#fdcb06,#fdca06,#fec709,#fec10f,#fabc19,#f3b923,#edb929,#ecb92a,#edb929,#e7b930,#deba3b,#d1bb4b,#c4bc5d,#b6bd5b,#a5be62,#8fbf6a,#6dbf78,#35ba95,#0cb2b0,#00aabf,#00a3c9,#009ad0,#008fd2)"></i><i style="background:linear-gradient(#fdcc05,#fccf02,#fbd001,#fbcf02,#fdcc05,#fec709,#fec10f,#fcbd16,#fbbc18,#fdbe15,#fec012,#fbbd17,#f3ba22,#e8b930,#daba40,#c6bc5b,#a7be61,#7fbf71,#51bd86,#1db6a4,#00acbb,#00a4c8,#009dce,#009ad0,#009ad0)"></i><i style="background:linear-gradient(#fdcb05,#fbcf02,#fbd100,#fbd001,#fccd04,#fec709,#fec110,#fabb1a,#f5ba21,#f4ba21,#f6ba1f,#f2b924,#ebb92b,#e2b937,#d2bb4b,#b9bd5a,#94bf68,#66bf7b,#38bb93,#0db3af,#00a8c2,#009fcd,#0096d1,#0094d1,#0097d1)"></i><i style="background:linear-gradient(#fec110,#ffc30e,#fec60a,#fec709,#fec709,#ffc30d,#fdbe14,#f6ba1f,#eeb928,#eab92d,#eab92e,#e4b934,#ddba3c,#d1bb4c,#bebc58,#a6be61,#89bf6c,#67bf7b,#42bc8d,#1ab6a6,#00acbb,#00a3c9,#0094d1,#0084d4,#017dd6)"></i><i style="background:linear-gradient(#febf13,#fec012,#ffc20e,#ffc40c,#ffc30d,#fec011,#fbbc18,#f5ba20,#eeb928,#e8b930,#e2b937,#d4bb48,#c7bc59,#b9bd5a,#acbe5f,#a1be63,#8fbf6a,#75bf75,#56be83,#2eb999,#0eb3af,#00aac0,#009ccf,#0086d3,#0079d9)"></i><i style="background:linear-gradient(#ffc40c,#fec50b,#fec709,#fec60a,#fec20e,#fcbd16,#f5ba20,#e8b92f,#dbba3f,#d0bb4d,#c7bc59,#b9bd5a,#b0bd5d,#a9be60,#a4be62,#9dbe65,#8dbf6b,#75bf75,#54be84,#29b99c,#0ab2b1,#00a9c0,#009fcd,#008fd2,#0082d4)"></i><i style="background:linear-gradient(#f9bb1a,#f8bb1c,#f9bb1b,#fabb1a,#fabc19,#f9bb1a,#f6ba1f,#ecb92b,#e0ba38,#d6ba45,#cfbb4e,#c4bc5d,#bebc58,#b3bd5c,#a5be62,#98bf67,#8bbf6c,#7bbf72,#62be7d,#33ba96,#0ab2b2,#00a6c5,#0093d1,#017dd6,#0074de)"></i><i style="background:linear-gradient(#eab92d,#e7b931,#e7b930,#e8b92f,#edb92a,#f3ba22,#f8ba1d,#f8ba1d,#f4ba21,#eeb928,#e5b933,#d4bb47,#c2bc56,#a8be60,#8fbf6a,#83bf6f,#81bf70,#81bf70,#76bf74,#48bd8a,#0fb3ae,#00a4c8,#0085d3,#0072df,#006be8)"></i><i style="background:linear-gradient(#f9bb1b,#f6ba1e,#f3ba23,#efb927,#f0b926,#f6ba1f,#fbbc18,#fbbd17,#f7ba1d,#edb92a,#dfba3a,#cbbb54,#b8bd5a,#a1be63,#8ebf6b,#84bf6f,#7ebf71,#72bf76,#58be82,#24b89f,#00acbb,#00a0cc,#008cd2,#017cd7,#0074dd)"></i><i style="background:linear-gradient(#fec110,#fec011,#febf13,#fcbd17,#fabc1a,#f8bb1c,#f6ba1e,#f5ba21,#f3ba23,#f1b924,#efb927,#e7b930,#ddba3d,#c5bc5c,#a5be62,#88bf6d,#71bf77,#5cbe80,#43bc8d,#1cb6a5,#00acbb,#00a3ca,#0095d1,#0087d3,#017ed6)"></i><i style="background:linear-gradient(#f4ba21,#f5ba20,#f7ba1e,#f6ba1e,#f5ba20,#f3b923,#f1b925,#f1b925,#f2b923,#f4ba21,#f6ba1e,#f3ba22,#eab92e,#d0bb4d,#b0bd5d,#94bf68,#7bbf72,#60be7e,#44bc8c,#20b7a2,#00aeb8,#00a3c9,#008dd2,#0078d9,#0072e0)"></i><i style="background:linear-gradient(#efb927,#edb92a,#edb929,#ebb92c,#e9b92e,#eab92c,#eeb929,#f0b926,#f0b927,#efb927,#f0b926,#edb92a,#dfba3b,#c0bc57,#99bf66,#7cbf72,#62be7d,#44bc8c,#29b99c,#0fb3ad,#00adba,#00a6c6,#0094d1,#007ad8,#0070e3)"></i><i style="background:linear-gradient(#fbbc18,#fbbc18,#fabc19,#f6ba1f,#eeb929,#e6b932,#dfba3a,#d9ba41,#d4bb49,#cfbb4f,#ccbb53,#c4bc5e,#b7bd5b,#9dbe65,#80bf70,#67bf7b,#4bbd88,#2bb99b,#10b3ad,#00abbd,#00a4c8,#009ece,#0091d2,#0081d5,#0077da)"></i><i style="background:linear-gradient(#fabb1a,#f8bb1c,#f5ba20,#ebb92c,#dfba3a,#d5ba46,#cfbb4f,#c9bc57,#c3bc5b,#bebc58,#b8bd5a,#abbe5f,#a0be63,#94bf68,#8abf6c,#7cbf72,#5bbe81,#28b89d,#01aeb7,#00a3c9,#0099d0,#0093d1,#008ad2,#0180d5,#0078da)"></i><i style="background:linear-gradient(#cabb55,#c2bc58,#c5bc5b,#cabb55,#cebb50,#cebb4f,#cabb55,#c2bc57,#b9bd5a,#b3bd5c,#adbe5e,#9cbe65,#86bf6e,#6cbf79,#57be82,#4abd89,#3ebc90,#2cb99b,#15b5a9,#00abbd,#00a1cc,#0092d2,#017cd7,#006fe4,#054de1)"></i><i style="background:linear-gradient(#c2bc58,#c5bc5b,#d2bb4b,#dcba3e,#e0ba39,#e1ba38,#dfba3a,#e0ba39,#e6b931,#efb927,#eeb929,#d5ba46,#aebd5e,#80bf70,#5bbe81,#44bc8c,#36bb95,#29b99c,#1ab6a6,#01afb7,#00a4c8,#0092d1,#0077da,#006be8,#1346d8)"></i><i style="background:linear-gradient(#d4bb48,#d9ba42,#e2b936,#e7b930,#e8b930,#e4b934,#e1b937,#e5b933,#efb927,#f7ba1d,#f0b926,#d1bb4c,#a4be62,#75bf75,#5abe81,#51bd85,#44bc8c,#2ab99c,#11b4ac,#00abbd,#00a3ca,#0094d1,#017bd7,#0070e3,#006be8)"></i><i style="background:linear-gradient(#d7ba44,#d6ba46,#d6ba45,#d5ba47,#d1bb4c,#c6bc5b,#b4bd5c,#a4be62,#9cbe65,#94bf68,#82bf6f,#61be7e,#44bc8c,#34ba95,#34ba95,#35ba95,#2db999,#1fb7a2,#15b5aa,#05b0b4,#00a9c2,#009ccf,#0080d5,#0072df,#006ee6)"></i><i style="background:linear-gradient(#cebb50,#c9bc57,#c4bc5e,#bdbc58,#b8bd5a,#b3bd5c,#aabe5f,#a0be64,#95bf68,#8bbf6c,#80bf70,#6cbf79,#5bbe80,#55be84,#5dbe80,#60be7e,#53be84,#3cbb91,#29b99c,#11b4ad,#00aac0,#0099d0,#017cd7,#0070e2,#006be8)"></i><i style="background:linear-gradient(#c5bc5c,#bfbc57,#bfbc57,#bfbc57,#c1bc56,#c0bc56,#b8bd5a,#a5be62,#8bbf6c,#76bf74,#6fbf77,#72bf76,#7abf73,#7cbf72,#76bf74,#64bf7c,#47bd8b,#28b89d,#0fb3ae,#00aabf,#009ecd,#008bd2,#0078d9,#0070e4,#0066e9)"></i><i style="background:linear-gradient(#d0bb4e,#cebb50,#cfbb4f,#cebb50,#cdbb51,#c9bb56,#bebc58,#a4be62,#80bf70,#62be7d,#5cbe80,#6abf7a,#7ebf71,#81bf70,#71bf77,#4fbd87,#2cb99a,#12b4ac,#00acbb,#00a1cb,#008fd2,#017fd5,#0075dc,#0070e2,#006ce7)"></i><i style="background:linear-gradient(#d8ba43,#dcba3e,#d5ba47,#c5bc5c,#b5bd5b,#adbe5e,#acbe5f,#a9be60,#9bbe66,#84bf6e,#6fbf78,#5fbe7e,#59be82,#49bd8a,#2fba98,#10b3ad,#00abbe,#00a2ca,#0095d1,#017dd7,#0071e2,#006de7,#006ce7,#006ee6,#006fe4)"></i><i style="background:linear-gradient(#b9bd5a,#b3bd5c,#9cbe65,#7bbf72,#63bf7d,#66bf7c,#7dbf72,#94bf68,#9fbe64,#98bf66,#7ebf71,#51be85,#28b89d,#0ab2b2,#00aabf,#00a1cb,#0094d1,#0088d3,#0082d4,#0079d9,#0071e2,#006be8,#005ee7,#0060e8,#0061e8)"></i><i style="background:linear-gradient(#bcbd58,#c7bc59,#bebc58,#a3be62,#88bf6d,#75bf75,#6dbf78,#6ebf78,#75bf75,#7cbf72,#7dbf72,#6ebf78,#53be84,#2fb999,#11b4ad,#00acbc,#00a6c6,#00a2cb,#009dce,#008ad3,#0074de,#0068e8,#0e49dc,#024ee2,#0067e9)"></i><i style="background:linear-gradient(#9ebe64,#aebd5e,#adbe5e,#98bf67,#74bf76,#4cbd88,#35ba95,#36bb94,#4cbd88,#6abf7a,#7ebf71,#84bf6f,#80bf70,#6ebf78,#54be84,#35ba95,#20b7a2,#14b4aa,#05b0b4,#00a5c7,#0085d4,#006fe4,#084ce0,#1b42d1,#1048db)"></i><i style="background:linear-gradient(#a3be62,#a0be63,#9bbe65,#92bf69,#88bf6d,#7abf73,#66bf7c,#4dbd87,#3abb92,#2db99a,#24b8a0,#1fb7a3,#21b7a2,#21b7a1,#26b89e,#28b89d,#25b89f,#1ab6a6,#06b1b4,#00a5c7,#0089d3,#0074de,#006de7,#0065e9,#0056e6)"></i><i style="background:linear-gradient(#b9bd5a,#a4be62,#8abf6c,#75bf75,#6cbf79,#67bf7b,#56be83,#39bb93,#1cb6a5,#07b1b3,#00acbc,#00a9c0,#00a9c1,#00aac0,#00abbd,#00abbd,#00a8c3,#009fcd,#008bd2,#0077da,#0070e3,#006ee6,#006fe5,#006fe4,#006de7)"></i><i style="background:linear-gradient(#b6bd5b,#b9bd5a,#adbe5e,#91bf69,#70bf77,#55be83,#48bd8a,#41bc8e,#37bb94,#2db99a,#28b89d,#26b89e,#23b7a0,#17b5a8,#0ab2b2,#00abbd,#00a2ca,#008fd2,#017bd7,#0072e0,#006ee6,#006ce7,#006ae8,#006ce8,#006de7)"></i><i style="background:linear-gradient(#94bf68,#9cbe65,#a4be62,#97bf67,#74bf75,#4abd89,#32ba97,#2ab99c,#2ab99c,#32ba97,#45bc8c,#5abe81,#63bf7d,#57be83,#46bc8b,#2ab99c,#07b1b3,#00a3c9,#008ad2,#0078da,#0072df,#0070e2,#006de7,#0067e9,#005ae7)"></i><i style="background:linear-gradient(#71bf77,#70bf77,#6ebf78,#5fbe7f,#44bc8c,#2ab99c,#17b5a8,#0bb2b0,#06b0b4,#0cb2b0,#1eb6a4,#37bb94,#4abd89,#45bc8c,#37bb94,#1eb6a4,#03afb6,#00a6c5,#0097d0,#017dd6,#0070e2,#0068e8,#014fe3,#0f48dc,#1a43d3)"></i><i style="background:linear-gradient(#7cbf72,#65bf7c,#44bc8c,#29b99c,#1eb7a3,#1db6a4,#1ab6a6,#13b4ab,#0ab2b1,#03afb6,#00adba,#00acbb,#00acbc,#00aabf,#00a8c2,#00a3c9,#009bcf,#008bd2,#017ad8,#0070e3,#0069e8,#005ee7,#005de7,#0064e8,#0058e6)"></i><i style="background:linear-gradient(#63be7d,#41bc8e,#2cb99b,#26b89e,#31ba97,#48bd8a,#5cbe80,#62be7d,#54be84,#34ba96,#0eb3ae,#00aac0,#00a3c9,#009fcd,#00a1cb,#00a2cb,#009ece,#008dd2,#0079d9,#0070e2,#006ee6,#006ee6,#006ee6,#006ae8,#0b4ade)"></i><i style="background:linear-gradient(#34ba95,#13b4ab,#0eb3ae,#1fb7a3,#44bc8c,#73bf76,#99bf66,#b1bd5d,#afbd5d,#8cbf6b,#45bc8c,#0fb3ae,#00acbd,#00a8c3,#00a8c3,#00a8c3,#00a5c7,#009dce,#008cd2,#017bd8,#0073de,#0071e1,#006ee5,#0062e8,#2838bd)"></i><i style="background:linear-gradient(#44bc8c,#2eb999,#1fb7a3,#18b5a7,#20b7a2,#3cbb91,#70bf77,#a0be63,#b3bd5c,#9dbe65,#5cbe80,#1cb6a4,#00aeb8,#00a9c2,#00a6c6,#00a2ca,#009ece,#0096d1,#0089d3,#017bd8,#0072df,#006fe5,#006ae8,#005fe8,#1545d7)"></i><i style="background:linear-gradient(#43bc8d,#38bb93,#22b7a1,#06b1b4,#00abbe,#00acbc,#12b4ac,#44bc8c,#7fbf71,#9abe66,#98bf66,#8abf6c,#6ebf78,#34ba96,#04afb5,#00a3c9,#0096d1,#008bd2,#0086d3,#0180d5,#0079d9,#0072e0,#006de7,#0060e8,#094bdf)"></i><i style="background:linear-gradient(#42bc8d,#44bc8c,#35ba95,#16b5a9,#00acbb,#00a8c2,#00a9c2,#00acbc,#0ab2b1,#20b7a2,#36bb94,#49bd8a,#42bc8d,#1fb7a3,#06b0b4,#00abbe,#00a6c5,#009ece,#0090d2,#0081d4,#0077da,#0071e1,#006be8,#005fe8,#0055e6)"></i><i style="background:linear-gradient(#1bb6a6,#18b5a8,#14b4ab,#0ab2b2,#01aeb7,#00adbb,#00aabf,#00a6c6,#00a1cb,#009fcd,#00a1cb,#00a7c5,#00a9c0,#00a8c3,#00a8c2,#00abbe,#00aabe,#00a5c7,#0098d0,#0083d4,#0075dc,#006ee5,#005be7,#1645d6,#243cc6)"></i><i style="background:linear-gradient(#10b3ad,#08b1b3,#03afb6,#01aeb7,#01aeb8,#00adba,#00aac0,#00a5c7,#00a1cb,#009dce,#0098d0,#0099d0,#009ccf,#009bcf,#009dce,#00a1cb,#00a3c9,#00a2ca,#009ccf,#008cd2,#0077da,#006ee5,#0057e6,#1843d4,#2739c0)"></i><i style="background:linear-gradient(#00aac0,#00a7c5,#00a8c3,#00a9c0,#00aac0,#00a9c1,#00a7c4,#00a6c6,#00a7c4,#00aabf,#03afb6,#19b5a7,#20b7a2,#01afb7,#00a0cc,#0084d4,#0075dc,#0072e0,#0073df,#0073de,#0071e1,#006ee6,#0052e4,#2739c0,#2f299c)"></i><i style="background:linear-gradient(#00adb9,#00a8c2,#00a3c9,#009dce,#0096d1,#008fd2,#0089d3,#0087d3,#008cd2,#009bcf,#00a8c3,#0bb2b0,#13b4ab,#00a9c2,#008fd2,#0075dc,#006fe4,#006de7,#006ee6,#006ee5,#006de7,#0068e8,#0051e4,#1943d3,#2a35b8)"></i><i style="background:linear-gradient(#28b89d,#0fb3ae,#00aac0,#009dce,#0088d3,#017cd7,#0078d9,#0078da,#017bd8,#0082d4,#0091d2,#00a0cc,#00a5c7,#009bcf,#0085d3,#0078da,#0073de,#0071e1,#0071e2,#0070e3,#006fe5,#006de7,#006ce7,#006ce7,#0067e8)"></i></div>
<div class="p" style="left:323.0px;top:250.9px;width:240.7px;height:239.2px"><i style="background:#f9fb00"></i><i style="background:#f9fb00"></i><i style="background:#f9fb00"></i><i style="background:#f9fb00"></i><i style="background:#f9fb00"></i><i style="background:#f9fb00"></i><i style="background:#f9fb00"></i><i style="background:#f9fb00"></i><i style="background:#f9fb00"></i><i style="background:#f9fb00"></i><i style="background:#f9fb00"></i><i style="background:#f9fb00"></i><i style="background:#f9fb00"></i><i style="background:#f9fb00"></i><i style="background:#f9fb00"></i><i style="background:#f9fb00"></i><i style="background:#f9fb00"></i><i style="background:#f9fb00"></i><i style="background:#f9fb00"></i><i style="background:linear-gradient(#f9fb00,#f9fb00,#f9fb00,#f9fb00,#f9fb00,#f9fb00,#f9fb00,#f9fb00,#f9fb00,#f9fb00,#f9fb00,#f9fb00,#f9fb00,#f9fb00,#f9fb00,#f9fb00,#f9fb00,#f9fb00,#f9fb00,#f9fb00,#f9fb00,#f9fb00,#f9fb00,#f9fb00,#f9fa00)"></i><i style="background:linear-gradient(#f9fa00,#f9fa00,#f9fa00,#f9fa00,#f9fa00,#f9fa00,#f9fa00,#f9fa00,#f9fa00,#f9fa00,#f9fa00,#f9fa00,#f9fa00,#f9fa00,#f9fa00,#f9fa00,#f9fa00,#f9fa00,#f9fa00,#f9f900,#f8f700,#f7f600,#f7f500,#f7f400,#f6f200)"></i><i style="background:linear-gradient(#f6f200,#f6f200,#f6f200,#f6f200,#f6f200,#f6f200,#f6f200,#f6f200,#f6f200,#f6f200,#f6f200,#f6f200,#f6f200,#f6f200,#f6f200,#f6f100,#f6f100,#f6f100,#f6f000,#f6ef00,#f5ec00,#f5e900,#f5e600,#f5e400,#f5e100)"></i><i style="background:linear-gradient(#f5ec00,#f5ec00,#f5ec00,#f5ec00,#f5ec00,#f5ec00,#f5ec00,#f5ec00,#f5ec00,#f5eb00,#f5eb00,#f5eb00,#f5eb00,#f5eb00,#f5eb00,#f5ea00,#f5e900,#f5e800,#f5e600,#f5e400,#f5e200,#f5df00,#f6dc00,#f8d700,#f9d300)"></i><i style="background:linear-gradient(#f5ea00,#f5e900,#f5e900,#f5e900,#f5e900,#f5e900,#f5e900,#f5e900,#f5e900,#f5e900,#f5e900,#f5e800,#f5e800,#f5e800,#f5e700,#f5e600,#f5e400,#f5e300,#f5e000,#f5de00,#f6db00,#f8d600,#fbd001,#fdcb05,#fec60a)"></i><i style="background:linear-gradient(#f5e700,#f5e700,#f5e700,#f5e700,#f5e700,#f5e700,#f5e700,#f5e600,#f5e600,#f5e600,#f5e600,#f5e600,#f5e500,#f5e500,#f5e400,#f5e300,#f5e000,#f6de00,#f7da00,#f8d600,#fad100,#fdcb05,#ffc40d,#fcbd16,#f3ba22)"></i><i style="background:linear-gradient(#f5e500,#f5e500,#f5e500,#f5e500,#f5e400,#f5e400,#f5e400,#f5e400,#f5e400,#f5e400,#f5e300,#f5e300,#f5e300,#f5e200,#f5e100,#f5df00,#f6dc00,#f8d700,#fad100,#fdcc05,#fec60a,#febf13,#f4ba22,#e5b933,#d7ba45)"></i><i style="background:linear-gradient(#f5e300,#f5e300,#f5e300,#f5e200,#f5e200,#f5e200,#f5e200,#f5e200,#f5e200,#f5e100,#f5e100,#f5e000,#f5e000,#f5df00,#f5de00,#f6db00,#f9d400,#fccd03,#fec60a,#fec111,#fabc19,#eeb929,#dcba3e,#c9bc57,#b7bd5b)"></i><i style="background:linear-gradient(#f5e100,#f5e100,#f5e100,#f5e000,#f5e000,#f5e000,#f5e000,#f5df00,#f5df00,#f5df00,#f5de00,#f6de00,#f6dd00,#f6dd00,#f6db00,#f9d500,#fdca06,#fec20f,#fbbd17,#f5ba21,#eab92d,#d9ba42,#c3bc59,#a9be60,#90bf6a)"></i><i style="background:linear-gradient(#f5df00,#f5df00,#f5df00,#f5de00,#f6de00,#f6de00,#f6dd00,#f6dd00,#f6dd00,#f6dd00,#f6dc00,#f6db00,#f7db00,#f7d900,#f8d600,#fdcb05,#febf12,#f8bb1c,#f0b927,#e6b932,#d9ba42,#c3bc5b,#a5be61,#84bf6f,#63bf7d)"></i><i style="background:linear-gradient(#f6dd00,#f6dd00,#f6dd00,#f6dc00,#f6dc00,#f6dc00,#f6db00,#f6db00,#f7da00,#f7d900,#f7d800,#f8d600,#f9d400,#fad100,#fccd03,#fec20f,#f7ba1e,#edb92a,#e2b936,#d6ba45,#c7bc59,#aabe5f,#84bf6f,#59be81,#34ba95)"></i><i style="background:linear-gradient(#f6db00,#f6db00,#f7da00,#f7d900,#f7d800,#f8d700,#f8d600,#f8d600,#f9d500,#fad200,#fbd001,#fcce03,#fdcb05,#fec808,#ffc40d,#fabb1a,#edb92a,#e1ba38,#d4bb47,#c6bc5b,#b3bd5c,#8fbf6a,#5ebe7f,#2fba98,#10b3ad)"></i><i style="background:linear-gradient(#f8d600,#f8d600,#f9d500,#fad200,#fbd001,#fbcf02,#fcce03,#fccd04,#fdcb05,#fec907,#fec709,#ffc50c,#ffc20e,#fec012,#fcbd17,#f2b924,#e3b936,#d5ba47,#c6bc5a,#b5bd5b,#9dbe65,#70bf77,#39bb92,#14b4aa,#00aeb8)"></i><i style="background:linear-gradient(#fcce03,#fccd04,#fdcb05,#fec907,#fec709,#fec60a,#ffc50b,#ffc40d,#ffc20e,#fec111,#fdbf13,#fcbd16,#fabc19,#f9bb1b,#f6ba1f,#e9b92e,#d8ba42,#c9bc57,#b8bd5a,#a2be62,#89bf6d,#58be82,#29b99d,#0eb3ae,#00adb9)"></i><i style="background:linear-gradient(#ffc40c,#ffc40d,#ffc20e,#fec110,#febf12,#fdbe14,#fdbe14,#fcbd16,#fbbd17,#fabb1a,#f8ba1d,#f6ba1f,#f4ba22,#f2b924,#f0b927,#e1ba38,#d0bb4d,#c0bc57,#adbe5e,#98bf66,#80bf70,#52be85,#27b89e,#0eb3af,#00adb9)"></i><i style="background:linear-gradient(#fdbe15,#fdbd15,#fcbd16,#fbbd17,#fbbc19,#fabc19,#fabb1a,#f9bb1c,#f7ba1e,#f4ba21,#f1b925,#eeb928,#ecb92b,#ecb92b,#ebb92c,#ddba3d,#cdbb51,#bdbc58,#abbe5f,#97bf67,#7fbf71,#52be85,#26b89e,#0db3af,#00adb9)"></i><i style="background:linear-gradient(#fabc1a,#f9bb1a,#f9bb1b,#f8bb1c,#f8ba1d,#f8ba1d,#f7ba1e,#f5ba20,#f2b923,#f0b927,#edb92a,#eab92d,#e8b92f,#e8b92f,#e7b930,#d9ba42,#c8bc58,#b7bd5a,#a4be62,#8fbf6a,#75bf75,#48bd8a,#20b7a2,#08b1b3,#00acbc)"></i><i style="background:linear-gradient(#f7ba1e,#f7ba1e,#f7ba1e,#f6ba1f,#f6ba1f,#f6ba1f,#f6ba1f,#f4ba22,#f1b925,#efb928,#ecb92a,#eab92d,#e7b930,#e6b932,#e3b936,#d1bb4b,#bebc58,#abbe5f,#97bf67,#7fbf71,#61be7e,#37bb94,#14b4aa,#00aeb9,#00a9c2)"></i><i style="background:linear-gradient(#f6ba1f,#f6ba1f,#f6ba1f,#f6ba1f,#f6ba1f,#f6ba1f,#f6ba1f,#f3ba22,#f1b925,#efb928,#ecb92a,#eab92d,#e7b930,#e3b935,#deba3c,#cabb56,#b3bd5c,#9ebe64,#89bf6d,#6dbf78,#4cbd88,#27b89e,#0ab2b2,#00abbe,#00a5c7)"></i><i style="background:linear-gradient(#f6ba1f,#f6ba1f,#f6ba1f,#f6ba1f,#f6ba1f,#f6ba1f,#f5ba20,#f3ba23,#f1b925,#eeb928,#ecb92a,#eab92d,#e7b931,#e2b937,#daba41,#c4bc5e,#a9be60,#93bf68,#7cbf72,#5dbe80,#3cbb91,#1bb6a6,#01aeb7,#00a8c3,#00a1cb)"></i><i style="background:linear-gradient(#f6ba1f,#f6ba1f,#f6ba1f,#f6ba1f,#f6ba1f,#f5ba20,#f4ba21,#f2b924,#efb927,#eeb929,#ecb92b,#eab92d,#e7b931,#e0ba39,#d7ba44,#c0bc57,#a3be62,#8abf6c,#70bf77,#50bd86,#31ba98,#12b4ac,#00acbc,#00a4c8,#009ccf)"></i><i style="background:linear-gradient(#f6ba1f,#f6ba1f,#f6ba1f,#f6ba1f,#f6ba1f,#f4ba21,#f3b923,#f1b925,#eeb928,#edb929,#ecb92b,#eab92d,#e7b931,#dfba3a,#d4bb47,#bbbd59,#9cbe65,#81bf70,#65bf7c,#44bc8c,#26b89e,#0ab2b1,#00a9c0,#00a1cc,#0096d1)"></i><i style="background:linear-gradient(#f6ba1f,#f6ba1f,#f6ba1f,#f6ba1f,#f6ba1f,#f4ba22,#f2b924,#efb927,#edb929,#edb92a,#ecb92b,#eab92d,#e6b931,#deba3c,#d2bb4b,#b7bd5b,#95bf68,#78bf74,#59be82,#39bb93,#1db6a4,#02afb6,#00a7c4,#009ccf,#008fd2)"></i><i style="background:linear-gradient(#f6ba1f,#f6ba1f,#f6ba1f,#f6ba1f,#f5ba20,#f3ba22,#f1b925,#eeb928,#ecb92b,#ecb92b,#ebb92c,#e9b92e,#e5b932,#dcba3d,#d0bb4d,#b4bd5c,#91bf69,#72bf76,#51bd85,#31ba97,#16b5a9,#00adba,#00a5c7,#0098d0,#0089d3)"></i><i style="background:linear-gradient(#f6ba1f,#f6ba1f,#f6ba1f,#f5ba20,#f4ba21,#f2b923,#f0b926,#edb929,#ebb92c,#eab92d,#e9b92e,#e7b930,#e4b934,#dbba3f,#cfbb4e,#b2bd5c,#8ebf6a,#6fbf77,#4ebd87,#2cb99a,#10b3ad,#00abbd,#00a3ca,#0096d1,#0086d3)"></i><i style="background:linear-gradient(#f6ba1f,#f6ba1f,#f6ba1f,#f5ba20,#f4ba22,#f2b924,#efb927,#edb92a,#eab92d,#e9b92e,#e8b930,#e6b932,#e2b936,#daba41,#cebb50,#b1bd5d,#8cbf6b,#6cbf79,#4bbd89,#28b89d,#0bb2b1,#00aac0,#00a0cc,#0092d1,#0083d4)"></i><i style="background:linear-gradient(#f6ba1f,#f6ba1f,#f6ba1f,#f4ba21,#f3ba22,#f1b925,#eeb928,#ecb92b,#e9b92e,#e8b930,#e6b931,#e4b934,#e1ba38,#d9ba42,#cdbb51,#afbd5e,#8abf6c,#6abf7a,#48bd8a,#23b8a0,#06b0b4,#00a8c2,#009ece,#008fd2,#0081d5)"></i><i style="background:linear-gradient(#f6ba1f,#f6ba1f,#f6ba1f,#f4ba21,#f2b923,#f0b926,#edb929,#ebb92c,#e9b92f,#e7b931,#e5b933,#e2b936,#dfba3a,#d7ba44,#ccbb52,#adbe5e,#87bf6d,#67bf7b,#45bc8c,#1fb7a3,#01afb7,#00a6c5,#009bcf,#008cd2,#017fd5)"></i><i style="background:linear-gradient(#f6ba1f,#f6ba1f,#f6ba1f,#f4ba22,#f2b924,#efb927,#edb92a,#eab92d,#e8b930,#e5b933,#e3b935,#e0ba38,#ddba3c,#d6ba45,#cbbb53,#acbe5f,#85bf6e,#64bf7c,#42bc8d,#1bb6a5,#00adba,#00a5c7,#0099d0,#0088d3,#017dd6)"></i><i style="background:linear-gradient(#f5ba20,#f5ba20,#f5ba20,#f3b923,#f0b926,#eeb929,#ebb92c,#e9b92f,#e6b932,#e3b935,#e1ba38,#dfba3b,#dcba3e,#d5ba46,#cbbb54,#acbe5f,#85bf6e,#63bf7d,#3fbc8f,#18b5a8,#00acbc,#00a3c9,#0096d1,#0086d3,#017cd7)"></i><i style="background:linear-gradient(#f4ba21,#f4ba21,#f4ba22,#f2b924,#efb927,#ecb92b,#e9b92e,#e6b931,#e4b934,#e1ba38,#deba3b,#ddba3d,#dbba3f,#d5ba47,#cbbb54,#acbe5f,#87bf6e,#63bf7d,#3dbc90,#15b5a9,#00abbd,#00a2ca,#0095d1,#0085d4,#017bd8)"></i><i style="background:linear-gradient(#f3b923,#f3b923,#f2b923,#f0b926,#eeb929,#eab92d,#e7b931,#e4b934,#e2b937,#deba3b,#dbba3f,#dbba3f,#daba40,#d4bb47,#cbbb54,#adbe5e,#88bf6d,#63bf7d,#3bbb91,#13b4ab,#00aabf,#00a1cb,#0094d1,#0084d4,#017ad8)"></i><i style="background:linear-gradient(#f1b925,#f1b925,#f1b925,#efb928,#ecb92b,#e8b92f,#e5b933,#e2b936,#dfba3a,#dcba3e,#d9ba42,#d9ba41,#daba41,#d4bb48,#cbbb54,#aebd5e,#8abf6c,#63bf7d,#39bb92,#10b4ad,#00a9c0,#00a0cc,#0093d1,#0083d4,#0079d9)"></i><i style="background:linear-gradient(#f0b926,#f0b926,#efb927,#edb929,#ebb92c,#e7b931,#e3b936,#e0ba39,#ddba3c,#d9ba41,#d6ba46,#d7ba44,#d9ba42,#d4bb48,#cbbb54,#afbd5e,#8cbf6c,#63bf7d,#37bb94,#0eb3ae,#00a8c2,#009fcd,#0092d2,#0082d4,#0079d9)"></i><i style="background:linear-gradient(#eeb928,#eeb928,#eeb928,#ecb92b,#e9b92e,#e5b933,#e1ba38,#deba3c,#dbba3f,#d7ba45,#d3bb49,#d6ba46,#d8ba43,#d3bb49,#cbbb54,#b0bd5d,#8dbf6b,#63bf7d,#35ba95,#0cb2b0,#00a8c3,#009ecd,#0090d2,#0081d5,#0078da)"></i><i style="background:linear-gradient(#edb92a,#edb92a,#edb92a,#eab92d,#e8b930,#e3b935,#deba3b,#dcba3e,#d9ba42,#d4bb48,#d0bb4d,#d4bb48,#d7ba44,#d3bb49,#cbbb54,#b1bd5d,#8fbf6a,#63bf7d,#33ba96,#0ab2b1,#00a7c5,#009dce,#008fd2,#0180d5,#0077da)"></i><i style="background:linear-gradient(#ebb92c,#ebb92c,#ebb92c,#e8b92f,#e5b933,#e0ba38,#dcba3e,#d9ba42,#d6ba45,#d2bb4a,#cfbb4f,#d3bb49,#d7ba44,#d3bb49,#cbbb54,#b1bd5d,#8fbf6a,#62be7d,#31ba97,#08b1b3,#00a6c6,#009ccf,#008dd2,#017fd6,#0076db)"></i><i style="background:linear-gradient(#e8b92f,#e8b92f,#e8b930,#e5b933,#e2b937,#ddba3d,#d8ba43,#d6ba46,#d4bb48,#d1bb4c,#cfbb4f,#d4bb48,#d9ba42,#d4bb48,#cbbb54,#b0bd5d,#8dbf6b,#60be7e,#2fba98,#07b1b4,#00a5c6,#009bcf,#008bd2,#017dd6,#0075dc)"></i><i style="background:linear-gradient(#e6b932,#e6b932,#e5b933,#e2b936,#dfba3b,#daba41,#d5ba47,#d3bb4a,#d1bb4c,#cfbb4e,#cfbb4f,#d4bb47,#daba41,#d4bb47,#cbbb54,#afbd5d,#8bbf6c,#5dbe7f,#2eb999,#05b0b4,#00a5c7,#009ad0,#0089d3,#017cd7,#0075dd)"></i><i style="background:linear-gradient(#e3b936,#e3b936,#e2b936,#dfba3a,#dbba3f,#d6ba45,#d1bb4b,#d0bb4e,#cebb4f,#cebb50,#cfbb4f,#d5ba46,#dbba3f,#d5ba46,#cbbb54,#aebd5e,#8abf6c,#5bbe80,#2cb99b,#04b0b5,#00a4c8,#0098d0,#0087d3,#017ad8,#0074de)"></i><i style="background:linear-gradient(#e0ba39,#e0ba39,#e0ba39,#dcba3e,#d8ba43,#d3bb4a,#cebb50,#cdbb52,#ccbb53,#cdbb52,#cebb4f,#d6ba46,#dcba3e,#d6ba46,#cbbb54,#aebe5e,#88bf6d,#59be81,#2ab99c,#03afb6,#00a4c8,#0097d1,#0085d3,#0079d9,#0073df)"></i><i style="background:linear-gradient(#ddba3c,#ddba3c,#ddba3d,#d9ba42,#d4bb47,#cfbb4e,#cbbb54,#c9bb56,#c9bc57,#cbbb54,#cebb4f,#d7ba45,#ddba3c,#d7ba45,#cbbb54,#adbe5e,#86bf6e,#57be83,#28b89d,#01afb7,#00a3c9,#0096d1,#0083d4,#0078da,#0072e0)"></i><i style="background:linear-gradient(#dbba40,#dbba40,#daba40,#d6ba46,#d1bb4c,#ccbb53,#c7bc59,#c6bc5a,#c6bc5a,#cabb56,#cebb50,#d7ba44,#dfba3b,#d7ba44,#cbbb54,#acbe5f,#84bf6f,#55be84,#26b89e,#00aeb8,#00a3ca,#0094d1,#0081d4,#0077db,#0071e1)"></i><i style="background:linear-gradient(#d8ba43,#d8ba43,#d7ba44,#d2bb4a,#cdbb51,#c8bc58,#c3bc5b,#c2bc58,#c3bc59,#c7bc59,#ccbb52,#d6ba46,#deba3c,#d6ba46,#c9bc56,#a9be60,#81bf70,#51bd85,#24b8a0,#00aeb9,#00a2ca,#0093d1,#0180d5,#0076dc,#0071e2)"></i><i style="background:linear-gradient(#d5ba47,#d4bb47,#d3bb49,#cebb50,#c8bc58,#c3bc59,#bebc58,#bcbd58,#bcbd58,#c0bc56,#c6bc5b,#cfbb4f,#d6ba45,#cebb50,#c1bc56,#a2be63,#7abf73,#4bbd89,#1fb7a2,#00adbb,#00a1cb,#0091d2,#017ed6,#0075dd,#0070e3)"></i><i style="background:linear-gradient(#d2bb4a,#d1bb4c,#cfbb4f,#c9bc57,#c2bc58,#bdbc58,#b7bd5a,#b5bd5b,#b4bd5c,#b8bd5a,#bdbc58,#c6bc5b,#cdbb52,#c4bc5d,#b7bd5b,#98bf67,#71bf76,#43bc8d,#1bb6a6,#00acbc,#009fcd,#008ed2,#017dd6,#0074de,#0070e3)"></i><i style="background:linear-gradient(#cfbb4f,#cdbb51,#cabb55,#c3bc5b,#bcbd59,#b5bd5b,#b0bd5d,#adbe5f,#abbe5f,#aebe5e,#b2bd5c,#bcbd59,#c3bc59,#babd59,#acbe5f,#8ebf6a,#69bf7a,#3cbb91,#16b5a9,#00abbe,#009ecd,#008cd2,#017cd7,#0073df,#006fe4)"></i><i style="background:linear-gradient(#cabb56,#c7bc5a,#c3bc5a,#bbbd59,#b3bd5c,#aebe5e,#a8be60,#a4be62,#a1be63,#a3be62,#a7be61,#b0bd5d,#b8bd5a,#afbd5e,#a0be63,#82bf6f,#5dbe80,#32ba97,#10b3ad,#00a9c0,#009dce,#008ad3,#007ad8,#0072e0,#006ee6)"></i><i style="background:linear-gradient(#c5bc5c,#c1bc56,#bbbd59,#b3bd5c,#abbe5f,#a6be61,#a1be63,#9cbe65,#98bf66,#9bbe65,#a1be63,#aabe5f,#b1bd5d,#a6be61,#96bf68,#78bf74,#54be84,#2cb99a,#0cb2b0,#00a8c2,#009bcf,#0088d3,#0078d9,#0071e2,#006ce7)"></i><i style="background:linear-gradient(#c1bc56,#bcbd58,#b7bd5b,#aebe5e,#a6be61,#a1be63,#9abe66,#93bf69,#8ebf6b,#90bf6a,#95bf68,#a0be63,#a8be61,#9ebe64,#8ebf6b,#72bf76,#4fbd86,#27b89e,#06b1b4,#00a6c5,#0098d0,#0083d4,#0076db,#0070e3,#006be8)"></i><i style="background:linear-gradient(#bdbc58,#babd59,#b4bd5b,#abbe5f,#a2be63,#9ebe64,#99bf66,#92bf69,#8bbf6c,#8abf6c,#8cbf6b,#95bf68,#9cbe65,#90bf6a,#7ebf71,#62be7d,#42bc8d,#1fb7a3,#02afb7,#00a4c8,#0093d1,#017ed6,#0073df,#006ee5,#0068e8)"></i><i style="background:linear-gradient(#bfbc57,#bcbd58,#b7bd5b,#acbe5f,#a2be63,#9dbe65,#98bf67,#92bf69,#8cbf6c,#8abf6c,#8cbf6c,#93bf69,#97bf67,#89bf6d,#73bf76,#56be83,#39bb92,#1ab6a6,#00aeb8,#00a3c9,#008fd2,#017bd7,#0072e0,#006de6,#0066e9)"></i><i style="background:linear-gradient(#c8bc59,#c6bc5a,#c3bc5b,#babd59,#afbd5e,#a6be61,#9cbe65,#94bf68,#8dbf6b,#8cbf6c,#8dbf6b,#94bf68,#97bf67,#89bf6d,#74bf75,#57be83,#39bb93,#18b5a8,#00acbb,#00a1cb,#008bd2,#007ad8,#0071e1,#006de6,#0066e9)"></i><i style="background:linear-gradient(#d3bb49,#d1bb4c,#cebb51,#c4bc5d,#b8bd5a,#acbe5f,#a1be63,#99bf66,#93bf69,#92bf69,#92bf69,#94bf68,#92bf69,#7fbf71,#66bf7b,#47bd8b,#2bb99b,#10b3ad,#00acbc,#00a2ca,#0092d2,#017fd5,#0074dd,#006fe4,#0069e8)"></i><i style="background:linear-gradient(#dbba40,#daba41,#d9ba42,#d3bb49,#cbbb53,#c0bc57,#b0bd5d,#a0be63,#93bf69,#8dbf6b,#8abf6c,#8abf6c,#86bf6e,#70bf77,#54be84,#33ba96,#18b5a7,#00aeb8,#00a7c4,#009dce,#008bd2,#017dd7,#0073de,#006fe5,#0069e8)"></i><i style="background:linear-gradient(#e1ba38,#e3b935,#e6b932,#e3b935,#deba3b,#d3bb49,#c3bc5a,#b0bd5d,#9dbe65,#8ebf6a,#82bf6f,#7dbf72,#79bf73,#68bf7a,#57be83,#40bc8e,#28b89d,#0db3af,#00aac0,#009dce,#0087d3,#0078d9,#0071e1,#006ee6,#0068e8)"></i><i style="background:linear-gradient(#e6b931,#eab92d,#efb927,#efb928,#ebb92c,#e0ba38,#d3bb49,#c5bc5c,#b4bd5c,#a3be62,#91bf69,#87bf6d,#81bf70,#73bf76,#66bf7b,#52be85,#39bb93,#18b5a7,#00acbb,#009fcd,#0087d3,#0078da,#0071e2,#006de7,#0065e9)"></i><i style="background:linear-gradient(#e9b92f,#f0b926,#f8ba1d,#f9bb1a,#f9bb1b,#f1b925,#e5b933,#d8ba43,#c9bc57,#b7bd5b,#a3be62,#96bf67,#90bf6a,#86bf6e,#7bbf72,#61be7e,#39bb93,#0db3af,#00a7c4,#0094d1,#017cd7,#0072df,#006ee6,#0066e9,#0058e6)"></i><i style="background:linear-gradient(#e4b935,#ecb92b,#f3ba22,#f4ba21,#f4ba22,#ebb92b,#e0ba39,#d5ba47,#c8bc59,#b6bd5b,#a3be62,#99bf66,#96bf67,#90bf6a,#85bf6e,#67bf7b,#37bb94,#06b1b4,#00a3ca,#0087d3,#0073de,#006de7,#005ae7,#1048db,#1b42d1)"></i><i style="background:linear-gradient(#e9b92e,#ecb92a,#f1b925,#f1b925,#f0b926,#e7b931,#d8ba43,#c8bc57,#b9bd5a,#abbe5f,#a0be64,#9bbe66,#98bf67,#8fbf6a,#81bf70,#63bf7d,#37bb94,#0bb2b1,#00a6c5,#0092d1,#017ad8,#0071e1,#006ce8,#005ee7,#0d49dd)"></i><i style="background:linear-gradient(#f1b924,#f0b926,#f0b926,#edb929,#e9b92f,#dcba3e,#cbbb53,#bbbd59,#abbe5f,#9fbe64,#95bf68,#8fbf6a,#87bf6d,#77bf74,#64bf7c,#49bd8a,#2bb99b,#0db3af,#00aabf,#009fcd,#0089d3,#017ad8,#0072e0,#006ee6,#0063e8)"></i><i style="background:linear-gradient(#edb92a,#edb92a,#eeb929,#e9b92e,#e2b937,#d5ba47,#c7bc59,#bdbc58,#b5bd5b,#b0bd5d,#aebd5e,#adbe5f,#a3be62,#87bf6d,#62be7d,#3cbb91,#21b7a1,#08b1b3,#00a9c1,#009dce,#0085d3,#0078da,#0070e3,#006be8,#0056e6)"></i><i style="background:linear-gradient(#ddba3c,#e4b934,#e7b930,#e3b936,#dbba40,#cfbb4e,#c5bc5b,#bfbc57,#b8bd5a,#b4bd5c,#b4bd5b,#b9bd5a,#b8bd5a,#a7be61,#8abf6c,#64bf7c,#40bc8e,#19b5a7,#00aabe,#0096d1,#0077da,#006ee5,#0059e7,#1744d5,#223ec9)"></i><i style="background:linear-gradient(#d4bb48,#e0ba39,#e8b930,#e6b931,#e0ba39,#d8ba42,#d4bb47,#d4bb48,#d2bb4b,#cfbb4f,#cbbb54,#c8bc59,#c0bc57,#abbe5f,#90bf6a,#74bf75,#5cbe80,#37bb94,#0cb2b0,#00a0cc,#0078d9,#006ae8,#1f3fcc,#2b35b7,#2b34b6)"></i><i style="background:linear-gradient(#d5ba46,#d6ba46,#d5ba46,#d2bb4a,#d1bb4c,#d2bb4a,#d6ba45,#d9ba41,#d8ba43,#cfbb4f,#c2bc56,#b0bd5d,#9cbe65,#81bf70,#64bf7c,#48bd8a,#30ba98,#11b4ac,#00aac0,#0097d1,#0078da,#006ee6,#0150e3,#1f3fcd,#2937bc)"></i><i style="background:linear-gradient(#deba3b,#d8ba43,#d1bb4b,#ccbb53,#cbbb54,#cdbb51,#cfbb4f,#c9bc56,#babd59,#a0be63,#87bf6e,#72bf76,#66bf7b,#5abe81,#4dbd87,#39bb92,#24b89f,#07b1b3,#00a7c4,#0094d1,#0079d9,#0070e3,#0069e8,#0054e5,#1b42d1)"></i><i style="background:linear-gradient(#ddba3d,#d9ba42,#d4bb48,#d0bb4d,#d2bb4b,#d6ba45,#d7ba44,#cebb50,#bdbc58,#a9be60,#9dbe65,#97bf67,#95bf68,#8bbf6c,#7bbf72,#63bf7d,#4cbd88,#2ab99b,#0ab2b1,#00a5c7,#0088d3,#0074dd,#006ce7,#0059e6,#1545d6)"></i><i style="background:linear-gradient(#d9ba42,#d4bb49,#ccbb52,#c7bc59,#cbbb54,#d3bb4a,#d8ba43,#d4bb48,#c9bc56,#bfbc57,#bcbd58,#bdbc58,#bdbc58,#b1bd5d,#9cbe65,#7bbf72,#52be85,#23b8a0,#01aeb7,#00a2ca,#0087d3,#0075dd,#006de7,#005ae7,#1645d6)"></i><i style="background:linear-gradient(#ddba3d,#d9ba42,#d1bb4c,#c8bc58,#c3bc5c,#c3bc5b,#c2bc57,#bdbc58,#b4bd5c,#adbe5f,#afbd5e,#b9bd5a,#c5bc5c,#c6bc5a,#babd59,#96bf68,#5ebe7f,#1eb6a4,#00abbd,#009ece,#0086d3,#0077db,#006fe4,#0068e8,#0055e5)"></i><i style="background:linear-gradient(#e5b933,#e1ba38,#daba41,#d2bb4a,#cabb55,#c0bc56,#afbd5e,#99bf66,#82bf70,#6cbf79,#61be7e,#63bf7d,#6fbf78,#73bf76,#6dbf78,#56be83,#38bb93,#14b4aa,#00abbe,#009dce,#0084d4,#0077da,#0071e1,#006ee5,#006ae8)"></i><i style="background:linear-gradient(#b7bd5a,#abbe5f,#9cbe65,#96bf67,#9dbe65,#a6be61,#a3be62,#93bf68,#7cbf72,#68bf7b,#60be7e,#5fbe7f,#5dbe80,#4cbd88,#33ba96,#15b5a9,#00adbb,#00a3c9,#0093d1,#017bd7,#0070e3,#0068e8,#0052e4,#1048db,#223dc9)"></i><i style="background:linear-gradient(#81bf70,#7fbf71,#7cbf72,#7bbf73,#7cbf72,#7dbf71,#76bf74,#68bf7a,#59be81,#52be85,#58be82,#64bf7c,#6dbf78,#62be7d,#45bc8c,#1cb6a4,#00adba,#00a2ca,#0092d2,#017ad8,#006ee6,#0c4ade,#2b34b5,#2f2a9f,#2f2593)"></i><i style="background:linear-gradient(#93bf69,#98bf67,#9dbe65,#a4be62,#adbe5e,#b3bd5c,#aebd5e,#9fbe64,#89bf6c,#74bf75,#6abf7a,#69bf7a,#64bf7c,#45bc8c,#1db6a4,#00adba,#00a6c6,#00a0cc,#0097d1,#0084d4,#0073de,#006be8,#1645d6,#2838bd,#2c33b3)"></i><i style="background:linear-gradient(#94bf68,#87bf6e,#77bf74,#73bf76,#80bf70,#95bf68,#a6be61,#aebe5e,#aabe5f,#9ebe64,#94bf68,#8ebf6b,#82bf6f,#59be81,#24b8a0,#00adba,#00a5c7,#009dce,#0091d2,#017cd7,#0070e3,#0066e9,#0d49dd,#1d41cf,#263ac2)"></i><i style="background:linear-gradient(#59be81,#3fbc8f,#2cb99b,#28b89d,#33ba96,#44bc8c,#55be84,#6abf7a,#7bbf72,#83bf6f,#86bf6e,#87bf6e,#83bf6f,#6bbf79,#41bc8e,#14b4aa,#00aac0,#009bcf,#0180d5,#0070e3,#0058e6,#1f3fcd,#2b35b7,#2e2ea7,#2f2697)"></i><i style="background:linear-gradient(#46bc8b,#28b89d,#1eb6a4,#27b89e,#39bb93,#46bc8b,#49bd89,#4fbd86,#55be83,#54be84,#4cbd88,#43bc8d,#3abb92,#27b89e,#0eb3ae,#00a9c0,#009dce,#0084d4,#0074dd,#006de7,#005fe8,#034ee2,#1e40cf,#2c32b1,#302490)"></i><i style="background:linear-gradient(#90bf6a,#61be7e,#47bd8b,#4bbd89,#5abe81,#5ebe7f,#53be84,#49bd8a,#40bc8e,#35ba95,#28b89d,#17b5a8,#06b1b4,#00aabf,#00a3c9,#0099d0,#0086d3,#0076db,#0070e3,#006ee6,#006fe5,#0072e0,#0072df,#006fe5,#074ce0)"></i><i style="background:linear-gradient(#ccbb52,#bebc58,#a5be61,#88bf6d,#66bf7b,#42bc8d,#2ab99c,#26b89e,#31ba97,#3bbb92,#37bb93,#20b7a2,#03afb6,#00a5c7,#009bcf,#008fd2,#0083d4,#0078da,#0071e1,#006fe5,#006ee6,#0071e2,#0073de,#0075dc,#0073de)"></i><i style="background:linear-gradient(#a8be60,#bcbd58,#b9bd5a,#a1be63,#79bf73,#4ebd87,#34ba95,#34ba96,#3dbb90,#3ebc90,#35ba95,#22b7a1,#0db3af,#00aabf,#009fcd,#008ed2,#0180d5,#0077da,#0071e1,#0066e9,#253bc4,#2b33b4,#2936ba,#0e49dc,#006ce8)"></i><i style="background:linear-gradient(#4cbd88,#76bf75,#8cbf6b,#8fbf6a,#7fbf71,#62be7d,#4bbd89,#4dbd88,#5dbe80,#64bf7c,#5bbe81,#3ebc90,#1db6a4,#00adb9,#00a4c8,#0099d0,#008ad3,#017bd8,#0070e3,#0e49dd,#2f2797,#30238f,#30238f,#2f2799,#2c32b1)"></i><i style="background:linear-gradient(#42bc8e,#4abd89,#43bc8d,#38bb93,#2db99a,#24b8a0,#1eb7a3,#23b7a0,#31ba97,#41bc8e,#4dbd87,#43bc8d,#25b89f,#02afb7,#00a5c7,#009ccf,#0091d2,#0081d4,#0075dd,#006ce7,#1a43d2,#2b34b5,#2e2faa,#2d31ad,#2c33b3)"></i><i style="background:linear-gradient(#68bf7b,#4dbd87,#22b7a0,#04b0b5,#00acbc,#00adba,#07b1b3,#11b4ac,#15b5aa,#14b4aa,#15b4aa,#13b4ab,#0eb3af,#02afb6,#00abbe,#00a7c4,#00a2ca,#0098d0,#0087d3,#0079d9,#0071e2,#006be8,#005ae7,#0052e4,#074ce0)"></i><i style="background:linear-gradient(#42bc8d,#3dbc90,#2ab99c,#15b5aa,#0ab2b1,#0ab2b1,#0db3af,#0bb2b0,#02afb6,#00abbd,#00abbe,#00acbb,#05b0b4,#0cb2b0,#0db3af,#07b1b3,#00adba,#00a6c5,#009bd0,#0084d4,#0073de,#006ae8,#1645d6,#253bc4,#273ac1)"></i><i style="background:linear-gradient(#30ba98,#4bbd88,#50bd86,#40bc8e,#2db99a,#21b7a2,#14b4aa,#05b0b5,#00a9c0,#00a4c9,#00a3c9,#00a8c2,#06b0b4,#1db6a4,#2bb99b,#29b99c,#19b6a7,#00aeb8,#00a3c9,#0087d3,#0070e3,#1844d4,#2f2aa0,#2f2798,#2c32b0)"></i><i style="background:linear-gradient(#2bb99b,#23b7a0,#13b4ab,#05b0b4,#00adba,#00acbc,#00aac0,#00a8c3,#00a6c5,#00a6c6,#00a8c2,#00acbb,#0cb2b0,#1db6a4,#29b99c,#25b89f,#0fb3ad,#00a7c4,#008ed2,#0072e0,#0053e5,#2937bc,#2d30ad,#2c33b2,#2b34b5)"></i><i style="background:linear-gradient(#29b99c,#0cb2b0,#00abbe,#00a8c3,#00a8c3,#00a7c4,#00a3c9,#009dce,#009bcf,#009ece,#00a3c9,#00a7c5,#00a8c2,#00a8c2,#00a8c2,#00a8c2,#00a6c6,#009bcf,#0180d5,#0070e3,#0059e7,#1545d7,#1644d5,#1943d3,#2937bc)"></i><i style="background:linear-gradient(#4dbd88,#25b89f,#06b1b4,#00acbc,#00abbe,#00abbe,#00a8c3,#00a2ca,#0099d0,#0092d1,#0096d1,#009dce,#00a1cb,#00a0cc,#009bcf,#0099d0,#0099d0,#0098d0,#0094d1,#008bd2,#017ed6,#0075dc,#0070e2,#006de7,#0056e6)"></i><i style="background:linear-gradient(#54be84,#35ba95,#15b5aa,#02afb7,#00abbd,#00a9c1,#00a7c4,#00a6c5,#00a6c6,#00a5c7,#00a4c8,#00a2cb,#009ccf,#008fd2,#0086d3,#0085d4,#0084d4,#017dd6,#0076db,#0074de,#0071e1,#0070e4,#006ee6,#006ce8,#0064e9)"></i><i style="background:linear-gradient(#10b3ad,#09b2b2,#03afb6,#08b1b3,#12b4ac,#11b4ac,#04b0b5,#00adba,#00aeb9,#04b0b5,#04b0b5,#00abbe,#00a1cc,#008bd2,#017bd8,#0077da,#0079d9,#017bd8,#0078d9,#0073de,#006de7,#054de1,#263ac2,#2a35b8,#2c33b4)"></i><i style="background:linear-gradient(#00abbd,#00aac0,#00a9c1,#00abbd,#04b0b5,#0bb2b0,#0ab2b2,#09b2b2,#0bb2b0,#0bb2b1,#06b0b4,#00acbb,#00a6c5,#0099d0,#0081d5,#007ad8,#0082d4,#0096d1,#00a0cc,#009bcf,#017ed6,#006de7,#223dc8,#2f2ba2,#2f2593)"></i><i style="background:linear-gradient(#00aeb8,#00a8c2,#00a2ca,#009dce,#009ccf,#009dce,#00a0cc,#00a6c5,#00acbb,#0ab2b1,#15b4aa,#12b4ac,#05b0b5,#00a8c2,#009fcd,#009ad0,#009ecd,#00a3ca,#00a2ca,#0096d1,#007ad8,#006de6,#0e49dc,#2a36b9,#2f299c)"></i><i style="background:linear-gradient(#14b4aa,#00aeb8,#00a8c3,#00a4c8,#009fcd,#0097d0,#008fd2,#0090d2,#009bcf,#00a6c5,#01aeb7,#07b1b3,#00acbb,#00a4c8,#009bcf,#009ad0,#009dce,#009bcf,#0090d2,#017dd6,#0071e1,#006ce7,#0060e8,#0c4ade,#263ac2)"></i><i style="background:linear-gradient(#03afb6,#00acbb,#00a9c1,#00a6c5,#00a5c7,#00a4c8,#00a4c8,#00a6c6,#00a5c7,#00a2cb,#009fcd,#009fcd,#00a0cc,#00a1cb,#00a1cb,#00a0cc,#0099d0,#0082d4,#0071e2,#084cdf,#2937bb,#2c32b1,#2d31ae,#2d30ac,#2e2ea9)"></i><i style="background:linear-gradient(#00acbb,#00a9c2,#00a5c7,#00a7c4,#01aeb8,#1eb7a3,#3ebc8f,#52be85,#45bc8c,#18b5a7,#00a8c2,#0099d0,#008dd2,#0089d3,#0087d3,#017fd6,#0073de,#0068e8,#263ac2,#302491,#30238f,#30238f,#2f2594,#2f2ba2,#2f2a9f)"></i><i style="background:linear-gradient(#01afb7,#00a9c2,#00a5c7,#00a7c4,#00aeb9,#0fb3ad,#17b5a8,#18b5a7,#12b4ac,#00aeb8,#00a4c8,#0090d2,#017dd6,#0076db,#0074dd,#0071e1,#006de7,#0055e5,#1d41d0,#263ac2,#2937bb,#2a36b8,#2838be,#263ac1,#2c32b1)"></i><i style="background:linear-gradient(#00a7c5,#00a0cc,#009bcf,#009dce,#00a2ca,#00a4c8,#00a1cc,#009ad0,#0090d2,#0084d4,#007ad8,#0072e0,#006fe4,#0070e3,#0074de,#017ad8,#0081d5,#0085d3,#0084d4,#017cd7,#0071e1,#0069e8,#1446d7,#2a35b8,#2f2ba0)"></i><i style="background:linear-gradient(#0093d1,#008fd2,#008ed2,#0094d1,#009ece,#00a4c8,#00a7c5,#00a6c5,#00a4c7,#00a0cc,#0097d1,#0084d4,#0079d9,#0079d9,#0085d3,#009ad0,#00a4c8,#00a7c5,#00a3c9,#0094d1,#0077da,#0065e9,#2e2fa9,#30238f,#30238f)"></i><i style="background:linear-gradient(#00a5c7,#009fcd,#009ccf,#009dce,#00a1cb,#00a6c6,#00a9c1,#00adb9,#07b1b3,#04b0b5,#00aac0,#009dce,#0082d4,#0075dc,#0073df,#0076dc,#017cd7,#0081d5,#017fd5,#017bd8,#0075dc,#0071e2,#0064e8,#263ac1,#2f299c)"></i><i style="background:linear-gradient(#00adba,#00a6c6,#00a2ca,#009fcd,#0098d0,#0090d2,#0094d1,#00a0cc,#00a9c1,#00abbd,#00a7c3,#009ad0,#017ed6,#0070e3,#0065e9,#0150e3,#005ae7,#006be8,#0070e3,#0073de,#0077db,#0078da,#0071e1,#005be7,#2c32b0)"></i><i style="background:linear-gradient(#00a1cb,#00a7c5,#00acbd,#00adba,#00a8c3,#009dce,#008ed2,#008dd2,#0096d1,#009ccf,#009bcf,#008bd2,#0078da,#006fe5,#0067e8,#005ce7,#0060e8,#0066e9,#0064e9,#0d49dd,#273ac1,#2a36b9,#2d31af,#2f2a9f,#2f2593)"></i><i style="background:linear-gradient(#009fcd,#00a9c0,#0bb2b1,#1bb6a6,#15b5aa,#01aeb7,#00a8c2,#00a5c7,#00a4c8,#00a3c9,#00a1cb,#0099d0,#0088d3,#0078da,#0071e1,#006fe4,#006fe4,#006ee5,#0064e9,#2838bf,#2f2797,#30238f,#30238f,#30238f,#30238f)"></i><i style="background:linear-gradient(#00a8c3,#00aeb9,#0fb3ae,#17b5a8,#11b4ac,#08b1b3,#03afb6,#00aeb8,#00acbb,#00a8c2,#00a3c9,#009ad0,#008ad2,#017bd8,#0073df,#006fe4,#006ee6,#006ce7,#0065e9,#1545d7,#2d31af,#2f2697,#30238f,#30238f,#30238f)"></i></div>
<div class="p" style="left:57.4px;top:497.8px;width:240.6px;height:239.6px"><i style="background:#f9fb00"></i><i style="background:#f9fb00"></i><i style="background:#f9fb00"></i><i style="background:#f9fb00"></i><i style="background:#f9fb00"></i><i style="background:#f9fb00"></i><i style="background:#f9fb00"></i><i style="background:#f9fb00"></i><i style="background:#f9fb00"></i><i style="background:#f9fb00"></i><i style="background:#f9fb00"></i><i style="background:#f9fb00"></i><i style="background:#f9fb00"></i><i style="background:#f9fb00"></i><i style="background:#f9fb00"></i><i style="background:#f9fb00"></i><i style="background:#f9fb00"></i><i style="background:#f9fb00"></i><i style="background:#f9fb00"></i><i style="background:#f9fb00"></i><i style="background:linear-gradient(#f9fa00,#f9fa00,#f9fa00,#f9fa00,#f9fa00,#f9fa00,#f9fa00,#f9fa00,#f9fa00,#f9fa00,#f9fa00,#f9fa00,#f9fa00,#f9fa00,#f9fa00,#f9fa00,#f9fa00,#f9fa00,#f9fa00,#f9fa00,#f9f900,#f8f900,#f8f700,#f7f500,#f7f400)"></i><i style="background:linear-gradient(#f6f200,#f6f200,#f6f200,#f6f200,#f6f200,#f6f200,#f6f200,#f6f200,#f6f200,#f6f200,#f6f200,#f6f100,#f6f100,#f6f100,#f6f100,#f6f100,#f6f100,#f6f000,#f6f000,#f5ee00,#f5ec00,#f5ea00,#f5e700,#f5e400,#f5e200)"></i><i style="background:linear-gradient(#f5ec00,#f5ec00,#f5ec00,#f5ec00,#f5ec00,#f5ec00,#f5ec00,#f5eb00,#f5eb00,#f5eb00,#f5eb00,#f5eb00,#f5ea00,#f5ea00,#f5e900,#f5e900,#f5e800,#f5e600,#f5e300,#f5e000,#f6dd00,#f7da00,#f8d600,#f9d400,#fad300)"></i><i style="background:linear-gradient(#f5ea00,#f5ea00,#f5e900,#f5e900,#f5e900,#f5e900,#f5e900,#f5e900,#f5e800,#f5e800,#f5e800,#f5e700,#f5e600,#f5e600,#f5e500,#f5e400,#f5e200,#f5df00,#f7d900,#f9d500,#fbd001,#fccc04,#fec808,#fec60a,#ffc40c)"></i><i style="background:linear-gradient(#f5e700,#f5e700,#f5e700,#f5e700,#f5e700,#f5e700,#f5e600,#f5e600,#f5e600,#f5e500,#f5e400,#f5e400,#f5e300,#f5e200,#f5e100,#f5df00,#f6dc00,#f8d600,#fbcf02,#fec907,#ffc30d,#fdbe15,#f5ba20,#efb927,#ecb92b)"></i><i style="background:linear-gradient(#f5e500,#f5e500,#f5e500,#f5e500,#f5e400,#f5e400,#f5e400,#f5e300,#f5e300,#f5e200,#f5e100,#f5e100,#f5df00,#f5de00,#f6dc00,#f7d900,#f9d400,#fdcc05,#ffc30d,#fbbc18,#eeb928,#dfba3a,#cfbb4e,#c7bc59,#c2bc57)"></i><i style="background:linear-gradient(#f5e300,#f5e300,#f5e300,#f5e200,#f5e200,#f5e200,#f5e200,#f5e100,#f5e000,#f5e000,#f5df00,#f6dd00,#f6dc00,#f7da00,#f8d600,#fbd101,#fec907,#fec012,#f2b924,#e1ba38,#ccbb53,#b7bd5a,#a0be63,#95bf68,#8ebf6b)"></i><i style="background:linear-gradient(#f5e100,#f5e100,#f5e100,#f5e000,#f5e000,#f5e000,#f5df00,#f5df00,#f6de00,#f6dd00,#f6dc00,#f7da00,#f8d700,#fad200,#fcce03,#fec60a,#fdbd15,#eeb929,#d7ba45,#c0bc56,#a3be62,#86bf6e,#66bf7b,#57be82,#4ebd87)"></i><i style="background:linear-gradient(#f5df00,#f5df00,#f5df00,#f5de00,#f6de00,#f6dd00,#f6dd00,#f6dc00,#f6db00,#f7d900,#f8d600,#fad200,#fcce03,#fec907,#ffc40c,#fbbc18,#ecb92b,#d5ba47,#b8bd5a,#99bf66,#72bf76,#4bbd89,#28b89d,#1cb6a5,#14b4aa)"></i><i style="background:linear-gradient(#f6dd00,#f6dd00,#f6dd00,#f6dc00,#f6dc00,#f6db00,#f7da00,#f7d900,#f8d600,#fad200,#fcce03,#fec907,#ffc50c,#fec012,#f9bb1b,#ebb92c,#d7ba44,#bbbd59,#94bf68,#6abf7a,#3abb92,#16b5a8,#00adba,#00a9c0,#00a7c4)"></i><i style="background:linear-gradient(#f6dc00,#f6db00,#f7da00,#f7d900,#f7d800,#f8d600,#f9d400,#fad100,#fcce03,#fec907,#ffc50c,#fec011,#fbbc18,#f4ba21,#e9b92e,#d7ba44,#c2bc56,#9cbe65,#6bbf79,#38bb93,#0eb3ae,#00a9c1,#009ece,#0097d1,#0092d2)"></i><i style="background:linear-gradient(#f8d800,#f8d600,#f9d500,#fad200,#fbd001,#fcce03,#fdcb05,#fec808,#ffc40c,#fec011,#fcbd17,#f7ba1e,#efb927,#e4b934,#d6ba45,#c3bc5b,#a9be60,#7abf73,#3dbc90,#10b3ad,#00a8c3,#0099d0,#0084d4,#017cd7,#0077da)"></i><i style="background:linear-gradient(#fbd001,#fcce03,#fdcc05,#fec907,#fec709,#ffc50b,#ffc20e,#fec012,#fcbd16,#f9bb1c,#f3ba22,#ecb92b,#e2b937,#d4bb48,#c3bc5c,#acbe5f,#8ebf6b,#53be85,#18b5a8,#00aac0,#009ccf,#0089d3,#017bd8,#0074dd,#0071e1)"></i><i style="background:linear-gradient(#fec60a,#ffc50b,#ffc20e,#fec111,#febf13,#fcbd15,#fbbc18,#f9bb1b,#f6ba1f,#f0b926,#e9b92e,#e0ba39,#d4bb48,#c3bc5a,#aebe5e,#93bf68,#71bf77,#32ba97,#01afb7,#00a4c8,#0097d1,#0086d3,#017ad8,#0074de,#0071e2)"></i><i style="background:linear-gradient(#fdbf13,#fdbe15,#fbbd17,#fabc19,#f9bb1b,#f7ba1e,#f5ba20,#f2b924,#eeb928,#e7b930,#dfba3a,#d4bb48,#c7bc59,#b2bd5c,#9abe66,#7fbf71,#60be7e,#26b89e,#00adbb,#00a3c9,#0097d1,#0086d3,#017ad8,#0074de,#0070e2)"></i><i style="background:linear-gradient(#f9bb1b,#f8bb1c,#f7ba1d,#f5ba20,#f3b923,#f1b925,#eeb928,#ebb92c,#e7b931,#dfba3a,#d7ba45,#cbbb54,#bebc57,#a8be60,#8fbf6a,#78bf74,#5bbe81,#21b7a2,#00abbd,#00a2cb,#0094d1,#0084d4,#0078d9,#0073df,#0070e3)"></i><i style="background:linear-gradient(#f4ba22,#f3ba22,#f2b924,#f0b926,#edb92a,#eab92c,#e8b92f,#e5b933,#e2b937,#dbba40,#d2bb4a,#c6bc5b,#b7bd5b,#a1be63,#8abf6c,#73bf76,#55be84,#19b5a7,#00a8c2,#009ece,#008fd2,#0180d5,#0076db,#0071e1,#006ee5)"></i><i style="background:linear-gradient(#efb928,#eeb928,#eeb929,#ecb92b,#e9b92e,#e6b931,#e4b934,#e1b937,#deba3b,#d7ba44,#cebb4f,#c0bc56,#afbd5e,#9bbe65,#85bf6e,#6ebf78,#4fbd87,#12b4ac,#00a5c7,#0099d0,#0089d3,#017cd7,#0073de,#0070e4,#006ce7)"></i><i style="background:linear-gradient(#ecb92a,#ecb92b,#ebb92b,#e9b92e,#e7b931,#e4b934,#e2b937,#dfba3b,#dbba3f,#d3bb49,#cabb55,#bbbd59,#a8be60,#95bf68,#80bf70,#69bf7a,#4abd89,#0cb2b0,#00a2ca,#0095d1,#0086d3,#0079d9,#0072e0,#006ee5,#006ae8)"></i><i style="background:linear-gradient(#ecb92b,#ebb92b,#eab92d,#e8b930,#e5b933,#e3b936,#e0ba39,#ddba3d,#d8ba42,#d0bb4e,#c5bc5c,#b4bd5b,#a2be63,#90bf6a,#7cbf72,#65bf7c,#45bc8c,#08b1b3,#00a0cc,#0092d1,#0083d4,#0078da,#0071e1,#006ee6,#0067e8)"></i><i style="background:linear-gradient(#ecb92b,#ebb92c,#e9b92e,#e7b931,#e4b934,#e2b937,#dfba3a,#dbba3f,#d6ba46,#ccbb53,#c0bc57,#aebd5e,#9bbe65,#8abf6c,#78bf74,#61be7e,#41bc8e,#04b0b5,#009dce,#008fd2,#0081d4,#0076db,#0070e2,#006ce7,#0064e8)"></i><i style="background:linear-gradient(#ecb92b,#eab92d,#e8b930,#e5b932,#e3b936,#e0ba39,#ddba3c,#d9ba42,#d3bb49,#c8bc58,#babd59,#a8be60,#95bf68,#85bf6e,#74bf75,#5dbe80,#3dbb90,#01aeb7,#009bcf,#008cd2,#0180d5,#0075dc,#0070e4,#006be8,#005ee7)"></i><i style="background:linear-gradient(#ecb92b,#eab92d,#e7b930,#e4b933,#e2b937,#dfba3a,#dcba3e,#d7ba44,#d1bb4d,#c4bc5d,#b5bd5b,#a3be62,#90bf6a,#81bf70,#71bf77,#59be81,#3abb92,#00adb9,#0099d0,#008ad3,#017fd6,#0074dd,#006fe5,#0069e8,#0058e6)"></i><i style="background:linear-gradient(#ecb92b,#eab92d,#e7b930,#e4b934,#e1ba38,#deba3c,#daba40,#d5ba47,#cebb50,#c1bc56,#b1bd5d,#a0be64,#8ebf6b,#7fbf71,#6ebf78,#57be83,#37bb94,#00adba,#0098d0,#0088d3,#017ed6,#0074de,#006ee5,#0067e9,#0052e4)"></i><i style="background:linear-gradient(#ecb92b,#eab92d,#e7b930,#e4b935,#e0ba39,#dcba3d,#d8ba42,#d3bb4a,#cbbb53,#bebc58,#adbe5e,#9cbe65,#8bbf6c,#7cbf72,#6bbf79,#54be84,#35ba95,#00acbb,#0097d1,#0087d3,#017dd7,#0073df,#006ee6,#0064e9,#044de1)"></i><i style="background:linear-gradient(#ecb92b,#eab92d,#e7b930,#e3b935,#dfba3a,#dbba3f,#d7ba44,#d0bb4d,#c9bc57,#babd59,#a9be60,#99bf66,#89bf6d,#79bf73,#69bf7a,#51bd85,#32ba97,#00acbc,#0096d1,#0086d3,#017cd7,#0072df,#006de7,#0060e8,#0b4ade)"></i><i style="background:linear-gradient(#ecb92b,#eab92d,#e7b931,#e3b936,#deba3b,#daba41,#d5ba47,#cebb50,#c6bc5b,#b7bd5b,#a5be61,#96bf68,#86bf6e,#77bf74,#66bf7b,#4ebd87,#30ba98,#00abbd,#0094d1,#0085d4,#017bd8,#0072e0,#006ce7,#005ce7,#1048db)"></i><i style="background:linear-gradient(#ecb92b,#eab92d,#e7b931,#e2b936,#ddba3c,#d8ba42,#d3bb49,#ccbb53,#c3bc5b,#b3bd5c,#a1be63,#92bf69,#84bf6f,#74bf75,#63bf7d,#4cbd88,#2eb999,#00abbe,#0093d1,#0083d4,#017ad8,#0071e1,#006be8,#0057e6,#1545d7)"></i><i style="background:linear-gradient(#ebb92c,#e9b92e,#e6b932,#e1ba38,#dbba3f,#d6ba46,#d0bb4e,#c8bc58,#bfbc57,#afbd5e,#9dbe65,#90bf6a,#82bf6f,#74bf75,#63bf7d,#4cbd88,#2eb999,#00abbe,#0093d1,#0082d4,#0079d9,#0071e1,#006ae8,#0052e4,#1943d4)"></i><i style="background:linear-gradient(#e9b92e,#e7b930,#e4b935,#deba3c,#d8ba43,#d1bb4c,#cbbb54,#c2bc58,#b9bd5a,#a9be60,#99bf66,#8ebf6b,#82bf6f,#75bf75,#65bf7c,#4ebd87,#2fba98,#00abbe,#0092d1,#0082d4,#0078d9,#0071e2,#0069e8,#014fe3,#1b42d1)"></i><i style="background:linear-gradient(#e8b92f,#e5b933,#e1b937,#dbba3f,#d4bb48,#cdbb51,#c5bc5b,#bdbd58,#b2bd5d,#a4be62,#95bf68,#8cbf6c,#82bf6f,#76bf75,#67bf7b,#50bd86,#31ba97,#00abbd,#0092d1,#0081d4,#0078da,#0070e2,#0068e8,#054de1,#1e40cf)"></i><i style="background:linear-gradient(#e6b931,#e3b935,#dfba3a,#d8ba43,#d0bb4d,#c8bc58,#c0bc56,#b6bd5b,#abbe5f,#9ebe64,#91bf69,#89bf6c,#82bf70,#77bf74,#6abf7a,#52be85,#33ba96,#00abbd,#0092d1,#0081d5,#0077da,#0070e3,#0067e9,#084bdf,#1f3fcd)"></i><i style="background:linear-gradient(#e5b933,#e2b937,#ddba3d,#d5ba47,#ccbb52,#c4bc5d,#babd59,#afbd5d,#a4be62,#98bf66,#8dbf6b,#87bf6d,#82bf70,#78bf74,#6cbf79,#55be84,#35ba95,#00acbd,#0092d1,#0081d5,#0077db,#0070e3,#0065e9,#0c4add,#213eca)"></i><i style="background:linear-gradient(#e3b935,#e0ba39,#dbba3f,#d2bb4b,#c9bc57,#bfbc57,#b4bd5b,#a9be60,#9dbe65,#93bf69,#89bf6c,#85bf6e,#82bf70,#79bf73,#6ebf78,#57be82,#37bb94,#00acbc,#0092d1,#0080d5,#0076db,#006fe4,#0064e8,#0f48dc,#223dc8)"></i><i style="background:linear-gradient(#e2b937,#deba3c,#d8ba42,#cfbb4f,#c5bc5c,#babd59,#aebd5e,#a2be63,#96bf68,#8dbf6b,#85bf6e,#83bf6f,#81bf70,#7abf73,#70bf77,#59be81,#39bb93,#00acbc,#0092d1,#0180d5,#0076dc,#006fe4,#0062e8,#1247d9,#243cc6)"></i><i style="background:linear-gradient(#dfba3a,#dbba3f,#d5ba46,#ccbb53,#c2bc56,#b7bd5b,#abbe5f,#9fbe64,#93bf69,#8bbf6c,#84bf6f,#83bf6f,#81bf70,#7abf73,#70bf77,#59be82,#38bb93,#00acbc,#0092d1,#017fd5,#0075dc,#006fe5,#005fe8,#1446d7,#253bc4)"></i><i style="background:linear-gradient(#dbba3f,#d7ba44,#d1bb4c,#c8bc58,#bfbc57,#b5bd5b,#abbe5f,#9fbe64,#94bf68,#8cbf6b,#86bf6e,#84bf6f,#81bf70,#79bf73,#6ebf78,#56be83,#35ba95,#00abbd,#0092d1,#017fd5,#0075dd,#006ee5,#005de7,#1645d6,#263ac3)"></i><i style="background:linear-gradient(#d7ba44,#d3bb4a,#cdbb51,#c5bc5c,#bcbd59,#b3bd5c,#abbe5f,#a0be63,#96bf68,#8ebf6a,#88bf6d,#85bf6e,#81bf70,#78bf74,#6cbf79,#52be85,#31ba97,#00abbd,#0092d2,#017fd6,#0074dd,#006ee6,#005ae7,#1844d4,#273ac1)"></i><i style="background:linear-gradient(#d3bb4a,#cfbb4f,#c9bc57,#c1bc56,#b9bd5a,#b2bd5d,#abbe5f,#a1be63,#97bf67,#90bf6a,#89bf6c,#86bf6e,#81bf70,#77bf74,#6abf7a,#4fbd86,#2eb999,#00abbe,#0092d2,#017ed6,#0074de,#006ee6,#0058e6,#1a43d2,#2739c0)"></i><i style="background:linear-gradient(#cfbb4f,#cabb55,#c5bc5c,#bebc58,#b6bd5b,#b0bd5d,#abbe5f,#a2be63,#99bf66,#92bf69,#8bbf6c,#87bf6e,#81bf70,#76bf74,#68bf7b,#4cbd88,#2ab99b,#00aabf,#0092d2,#017ed6,#0073de,#006de6,#0055e5,#1c42d1,#2739bf)"></i><i style="background:linear-gradient(#cabb55,#c6bc5a,#c1bc56,#babd59,#b2bd5c,#aebd5e,#abbe5f,#a3be62,#9bbe66,#94bf68,#8dbf6b,#88bf6d,#81bf70,#75bf75,#65bf7c,#49bd8a,#27b89d,#00aac0,#0091d2,#017dd6,#0073de,#006de7,#0052e4,#1d41cf,#2838be)"></i><i style="background:linear-gradient(#c6bc5a,#c2bc56,#bcbd58,#b6bd5b,#afbd5e,#adbe5e,#aabe5f,#a4be62,#9cbe65,#96bf68,#8fbf6a,#89bf6d,#81bf70,#74bf75,#63bf7d,#45bc8c,#24b8a0,#00a9c0,#0091d2,#017dd6,#0073df,#006ce7,#014fe3,#1f40ce,#2838bd)"></i><i style="background:linear-gradient(#c3bc5b,#bfbc57,#b9bd5a,#b2bd5d,#abbe5f,#aabe60,#a8be60,#a3be62,#9cbe65,#96bf67,#8fbf6a,#88bf6d,#80bf70,#72bf76,#60be7e,#42bc8e,#21b7a2,#00a9c1,#0091d2,#017dd7,#0072df,#006ce7,#054de1,#203fcc,#2937bb)"></i><i style="background:linear-gradient(#c3bc5b,#bebc57,#b7bd5a,#aebe5e,#a5be61,#a3be62,#a0be63,#9cbe65,#97bf67,#91bf69,#8bbf6c,#84bf6f,#7bbf72,#6cbf79,#59be82,#3cbb91,#1db6a4,#00a8c2,#0090d2,#017cd7,#0072e0,#006be8,#084cdf,#213eca,#2936ba)"></i><i style="background:linear-gradient(#c4bc5d,#bfbc57,#b7bd5a,#abbe5f,#9ebe64,#9abe66,#96bf67,#93bf69,#8fbf6a,#8abf6c,#85bf6e,#7ebf71,#75bf75,#64bf7c,#50bd86,#36bb94,#1ab6a6,#00a8c3,#008fd2,#017bd7,#0072e0,#006be8,#0b4ade,#223dc9,#2a36b9)"></i><i style="background:linear-gradient(#c6bc5b,#c0bc56,#b7bd5a,#a8be60,#98bf67,#91bf69,#8cbf6b,#8abf6c,#88bf6d,#84bf6f,#7fbf71,#77bf74,#6ebf78,#5cbe80,#47bd8b,#30ba98,#17b5a8,#00a7c4,#008ed2,#017bd8,#0071e1,#006ae8,#0e49dc,#233cc7,#2a35b8)"></i><i style="background:linear-gradient(#c8bc59,#c1bc56,#b8bd5a,#a5be62,#92bf69,#88bf6d,#81bf70,#80bf70,#7fbf71,#7cbf72,#78bf73,#72bf76,#69bf7a,#56be83,#41bc8e,#2cb99a,#15b4aa,#00a6c5,#008cd2,#007ad8,#0071e1,#0069e8,#1148db,#243cc6,#2a35b7)"></i><i style="background:linear-gradient(#c8bc58,#c2bc56,#b8bd5a,#a3be62,#8cbf6b,#81bf70,#77bf74,#75bf75,#75bf75,#70bf77,#6cbf79,#66bf7c,#5ebe7f,#4cbd88,#39bb93,#26b89e,#11b4ad,#00a5c7,#008ad3,#0078d9,#0070e2,#0067e8,#1545d6,#263ac2,#2b34b5)"></i><i style="background:linear-gradient(#cabb56,#c2bc59,#b7bd5b,#9ebe64,#85bf6e,#78bf74,#6ebf78,#6fbf77,#71bf77,#6cbf79,#67bf7b,#5fbe7f,#57be83,#44bc8c,#30ba98,#20b7a2,#0cb2b0,#00a3c9,#0086d3,#0076db,#006fe4,#0062e8,#1c41d1,#2739bf,#2c33b4)"></i><i style="background:linear-gradient(#c7bc59,#bebc57,#b2bd5c,#9abe66,#80bf70,#73bf76,#68bf7b,#6bbf79,#6ebf78,#6dbf78,#6bbf79,#63bf7d,#59be82,#43bc8d,#2eb999,#1eb7a3,#0bb2b1,#00a3ca,#0084d4,#0075dc,#006fe5,#005de7,#203fcc,#2936ba,#2d30ac)"></i><i style="background:linear-gradient(#cabb56,#c3bc5a,#bbbd59,#a6be61,#8ebf6b,#7fbf71,#71bf77,#72bf76,#76bf75,#75bf75,#73bf76,#69bf7a,#5cbe80,#44bc8c,#2eb999,#1eb6a4,#0bb2b1,#00a3c9,#0085d3,#0075dc,#006fe5,#005fe8,#1f3fcd,#2a36b9,#2d30ac)"></i><i style="background:linear-gradient(#d3bb49,#cebb50,#c6bc5b,#b2bd5c,#9abe66,#8abf6c,#7bbf72,#7cbf72,#7fbf71,#81bf70,#80bf70,#75bf75,#63be7d,#45bc8c,#29b99d,#15b5a9,#03afb6,#00a0cc,#0083d4,#0075dd,#006ee5,#0060e8,#1b42d2,#263ac3,#2a35b8)"></i><i style="background:linear-gradient(#d2bb4a,#ccbb52,#c5bc5b,#b5bd5b,#a3be62,#97bf67,#8dbf6b,#8fbf6a,#91bf69,#8ebf6a,#88bf6d,#74bf75,#5bbe80,#3dbc90,#24b8a0,#11b4ac,#00aeb9,#009fcd,#0081d5,#0074de,#006ee6,#005be7,#1f40cd,#2838bd,#2c32b0)"></i><i style="background:linear-gradient(#cdbb51,#c7bc59,#c1bc56,#b3bd5c,#a6be61,#9fbe64,#99bf66,#99bf66,#95bf68,#8dbf6b,#82bf6f,#6abf7a,#50bd86,#35ba95,#1eb7a3,#0db3b0,#00acbb,#00a0cc,#0087d3,#0078d9,#0070e2,#0065e9,#213eca,#2c32b1,#2f2ba0)"></i><i style="background:linear-gradient(#c6bc5b,#c1bc56,#bcbd58,#afbd5e,#a4be62,#9dbe65,#98bf67,#98bf67,#94bf68,#8ebf6b,#84bf6f,#69bf7a,#4abd89,#2cb99a,#15b5a9,#05b0b5,#00aabe,#009dce,#0084d4,#0076db,#006fe5,#014fe3,#2b34b5,#2f299b,#2f2492)"></i><i style="background:linear-gradient(#d2bb4b,#cfbb4e,#cbbb54,#c0bc56,#b4bd5c,#a8be60,#9fbe64,#9cbe65,#9bbe66,#99bf66,#91bf69,#71bf76,#47bd8b,#24b89f,#0cb2b0,#00adb9,#00a8c2,#009bcf,#0081d5,#0074de,#006de7,#0a4bdf,#2b35b7,#2e2da6,#2f2a9f)"></i><i style="background:linear-gradient(#e1ba38,#e4b934,#e3b935,#dcba3e,#d4bb49,#c5bc5b,#b5bd5b,#a9be60,#a0be63,#9cbe65,#92bf69,#6dbf78,#3ebc90,#1ab6a6,#01afb7,#00a8c2,#00a1cb,#008bd2,#0076db,#006fe5,#005be7,#233dc7,#2d30ab,#2d30ac,#2c33b3)"></i><i style="background:linear-gradient(#d8ba43,#dcba3e,#deba3b,#ddba3d,#d9ba41,#cebb50,#bebc57,#aebe5e,#9cbe65,#8fbf6a,#7ebf71,#52be85,#28b89d,#0db3af,#00acbb,#00a7c5,#009ecd,#0087d3,#0074dd,#006ee6,#0057e6,#273ac1,#2f2ba1,#2f299c,#2f2a9f)"></i><i style="background:linear-gradient(#c6bc5b,#c5bc5c,#c8bc58,#c9bc56,#cbbb55,#c5bc5c,#bcbd58,#adbe5e,#95bf68,#7bbf72,#60be7e,#36bb94,#19b5a7,#09b2b2,#00aeb9,#00aabf,#00a6c5,#0099d0,#0180d5,#0073df,#006ce8,#1048db,#2c32b0,#2f2799,#302390)"></i><i style="background:linear-gradient(#c0bc56,#bfbc57,#c0bc57,#bfbc57,#c0bc57,#bcbd58,#b6bd5b,#a9be60,#92bf69,#77bf74,#59be81,#2eb999,#11b4ac,#02afb7,#00abbe,#00a6c5,#00a1cb,#0091d2,#017bd7,#0071e1,#0069e8,#1446d7,#2c33b2,#2f2a9e,#2f2695)"></i><i style="background:linear-gradient(#c9bc56,#c9bc57,#c6bc5b,#bebc57,#b4bd5c,#a5be61,#98bf66,#90bf6a,#89bf6d,#83bf6f,#75bf75,#47bd8b,#1bb6a6,#01aeb8,#00a7c5,#009ece,#0093d1,#0081d4,#0075dc,#0070e3,#0069e8,#0d49dd,#2838be,#2b34b4,#2c32b0)"></i><i style="background:linear-gradient(#d6ba45,#d0bb4d,#c8bc58,#bebc58,#afbd5e,#9dbe65,#8bbf6c,#7fbf71,#7cbf72,#81bf70,#7ebf71,#57be83,#25b89f,#06b0b4,#00a8c3,#009ece,#0090d2,#017dd6,#0073de,#0070e3,#006de7,#0066e9,#014fe3,#0c4add,#1744d5)"></i><i style="background:linear-gradient(#ddba3d,#d6ba46,#ccbb53,#bdbc58,#a6be61,#8cbf6b,#73bf76,#5fbe7f,#57be82,#5ebe7f,#63be7d,#41bc8e,#18b5a8,#00adba,#00a5c7,#0098d0,#0084d4,#0074de,#006de7,#0067e8,#0065e9,#0065e9,#0062e8,#0061e8,#0058e6)"></i><i style="background:linear-gradient(#d1bb4c,#d3bb4a,#ccbb53,#b8bd5a,#99bf66,#7abf73,#65bf7c,#58be82,#51bd85,#4ebd87,#4abd89,#2ab99c,#0bb2b1,#00abbe,#00a2ca,#0094d1,#0080d5,#0072df,#006ce8,#0063e8,#0059e6,#0150e3,#0e49dd,#0b4ade,#024ee2)"></i><i style="background:linear-gradient(#b5bd5b,#b8bd5a,#aebe5e,#93bf68,#6dbf78,#4dbd87,#3fbc8f,#3ebc90,#47bd8b,#54be84,#5cbe80,#43bc8d,#23b8a0,#0cb2b0,#00aac0,#009ccf,#0084d4,#0073de,#006ce7,#0059e6,#1844d4,#263ac2,#2b34b5,#2937bb,#233dc7)"></i><i style="background:linear-gradient(#a1be63,#9dbe65,#8dbf6b,#75bf75,#5abe81,#46bc8b,#3abb92,#35ba95,#3dbb90,#4ebd87,#5bbe81,#3fbc8f,#1bb6a5,#06b1b4,#00aabf,#00a2ca,#0094d1,#017bd8,#006fe4,#005be7,#213eca,#2b34b5,#2d30ab,#2c33b3,#2936ba)"></i><i style="background:linear-gradient(#94bf68,#93bf69,#8ebf6a,#8abf6c,#82bf6f,#74bf75,#5cbe80,#42bc8d,#36bb94,#38bb93,#3bbb91,#22b7a1,#07b1b3,#00abbd,#00a6c5,#009fcc,#0094d1,#017bd7,#006ee5,#074ce0,#2a35b8,#2e2da5,#2f2ba1,#2d31ad,#2b34b6)"></i><i style="background:linear-gradient(#7dbf71,#79bf73,#71bf77,#68bf7a,#5dbe80,#50bd86,#45bc8c,#40bc8f,#43bc8d,#48bd8a,#41bc8e,#19b6a7,#00aabf,#00a1cb,#009ad0,#0097d1,#0094d1,#0083d4,#0073df,#0068e8,#203fcc,#2d31af,#2f2ca2,#2e2da6,#2e2fa9)"></i><i style="background:linear-gradient(#3abb92,#3abb92,#3cbb91,#40bc8f,#40bc8e,#3fbc8f,#3ebc90,#40bc8e,#4cbd88,#58be82,#55be84,#29b99c,#00aeb9,#00a4c8,#009bcf,#0095d1,#0090d2,#0081d5,#0073de,#006be8,#1e40cf,#2e2ca3,#2f2492,#30238f,#30238f)"></i><i style="background:linear-gradient(#22b7a1,#26b89e,#31ba97,#42bc8d,#51bd86,#55be84,#4cbd88,#41bc8e,#3ebc90,#3ebc90,#36bb94,#15b5a9,#00acbc,#00a7c4,#00a2ca,#009dce,#0092d1,#017bd7,#006fe4,#044de1,#2d31af,#2f2491,#30238f,#30238f,#30238f)"></i><i style="background:linear-gradient(#1fb7a3,#24b89f,#30ba98,#3ebc90,#43bc8d,#3ebc8f,#32ba97,#26b89e,#1fb7a3,#17b5a8,#0bb2b1,#00aabf,#00a3c9,#00a2ca,#00a1cb,#00a1cb,#009dce,#008bd2,#0076dc,#006be8,#203fcb,#2e2da5,#2f2593,#30238f,#30238f)"></i><i style="background:linear-gradient(#3abb92,#34ba96,#2eb999,#29b99c,#25b89f,#23b8a0,#28b89d,#2eb999,#2db999,#21b7a2,#10b3ad,#00acbc,#00a6c6,#00a3c9,#00a2ca,#00a3c9,#00a3ca,#0099d0,#0083d4,#0073de,#0069e8,#1c41d1,#2d30ab,#2f299b,#2f2694)"></i><i style="background:linear-gradient(#3dbb90,#20b7a2,#0eb3ae,#05b0b5,#02afb6,#07b1b4,#12b4ab,#1fb7a3,#1fb7a3,#0cb2b0,#00aabf,#009fcd,#0094d1,#0091d2,#008fd2,#008cd2,#0084d4,#0078da,#0072e0,#0070e3,#006ee6,#0067e9,#0b4ade,#273ac1,#2f2ba0)"></i><i style="background:linear-gradient(#32ba97,#0db3af,#00abbd,#00a9c1,#00abbe,#02afb6,#0eb3ae,#11b4ad,#06b1b4,#00a9c0,#00a0cc,#008dd2,#017ed6,#0078d9,#0074dd,#0071e1,#006fe4,#006ce7,#006ce8,#006ee6,#006fe5,#006fe5,#0069e8,#1545d7,#2e2ca4)"></i><i style="background:linear-gradient(#13b4ab,#02afb7,#00acbc,#00acbc,#03afb6,#0cb2b0,#0fb3ad,#0cb2b0,#02afb7,#00a9c1,#00a2ca,#0095d1,#0084d4,#007ad8,#0072e0,#006fe4,#006ee6,#006ae8,#0067e8,#0066e9,#0061e8,#0150e3,#213eca,#2e2fa9,#30238f)"></i><i style="background:linear-gradient(#0ab2b2,#08b1b2,#07b1b3,#07b1b3,#06b1b4,#03afb6,#03afb6,#08b1b2,#0db3af,#06b0b4,#00abbe,#00a2ca,#009ad0,#0094d1,#0089d3,#0081d4,#017dd6,#0076db,#0070e2,#006ae8,#0d49dd,#2937bc,#2e2da6,#2f2798,#2f2593)"></i><i style="background:linear-gradient(#00a4c7,#00a5c7,#00a7c4,#00a9c1,#00aabe,#00abbd,#01aeb7,#10b3ad,#1cb6a5,#14b4aa,#00adb9,#00a2ca,#0095d1,#008ed2,#008ed2,#0094d1,#0094d1,#0083d4,#0073df,#0064e9,#2a36b9,#302491,#30238f,#30238f,#30238f)"></i><i style="background:linear-gradient(#00a6c6,#00a5c7,#00a4c8,#00a6c6,#00a9c1,#00acbb,#01afb7,#04b0b5,#02afb7,#00abbe,#00a4c8,#0092d2,#017ed6,#0076db,#0074dd,#0075dc,#0074dd,#006fe5,#005de7,#213eca,#2e2ea8,#2f2593,#302490,#302490,#30238f)"></i><i style="background:linear-gradient(#00adb9,#00a8c3,#00a0cc,#009ad0,#009bcf,#009fcd,#009fcd,#009bcf,#0095d1,#008fd2,#0089d3,#0180d5,#0078da,#0072e0,#006ee6,#0067e8,#005ce7,#1446d8,#2937bb,#2f2ba1,#2f2594,#2f2899,#2e2da5,#2d30ac,#2e2ca3)"></i><i style="background:linear-gradient(#00a1cb,#0093d1,#0083d4,#0081d5,#008dd2,#009dce,#00a4c8,#00a7c4,#00a8c3,#00a7c4,#00a4c8,#009ccf,#008fd2,#017fd5,#0073de,#006ee6,#0065e9,#1446d8,#2937bc,#2e2ea8,#2f2a9e,#2f2a9f,#2f2ba1,#2f2a9e,#2f2798)"></i><i style="background:linear-gradient(#009ccf,#008cd2,#017fd5,#017ed6,#0089d3,#009ad0,#00a3c9,#00a7c4,#00a8c3,#00a6c6,#00a1cb,#0097d1,#0088d3,#017bd7,#0072e0,#006de7,#005be7,#203fcb,#2c33b3,#2e2ea7,#2f2ba2,#2f2ba1,#2f299c,#2f2594,#30238f)"></i><i style="background:linear-gradient(#00aac0,#00a7c3,#00a2ca,#009ad0,#008ed2,#0087d3,#0085d4,#0085d3,#0085d3,#0084d4,#0081d5,#017bd8,#0074de,#006ee5,#0062e8,#0a4bdf,#1d41cf,#2937bc,#2c33b2,#2b35b7,#2739c1,#223dc8,#263ac2,#2b35b6,#2c32b1)"></i><i style="background:linear-gradient(#00a6c6,#00a7c4,#00a7c4,#00a4c8,#009ad0,#0089d3,#017fd5,#017ed6,#0082d4,#0085d3,#0082d4,#0078da,#0070e3,#0068e8,#005be7,#0066e9,#006ce7,#006de7,#006ce7,#006be8,#0069e8,#0060e8,#1a42d2,#2c32b0,#2e2ea7)"></i><i style="background:linear-gradient(#009fcd,#0099d0,#0098d0,#0098d0,#0095d1,#008dd2,#0086d3,#0081d5,#017ed6,#017dd6,#017ad8,#0075dc,#0071e1,#0070e2,#0071e1,#0074de,#0075dc,#0073df,#0070e2,#0070e3,#0070e3,#006fe5,#0062e8,#2838be,#2f299c)"></i><i style="background:linear-gradient(#00a9c2,#00a4c8,#00a0cc,#009ccf,#0098d0,#0098d0,#0099d0,#0096d1,#008fd2,#0086d3,#0180d5,#017bd7,#0079d9,#0078da,#0076db,#0074dd,#0071e2,#006ce7,#0064e9,#005fe8,#0064e9,#0068e8,#0060e8,#1346d8,#2937bc)"></i><i style="background:linear-gradient(#00a0cc,#009ccf,#0097d1,#0097d1,#009dce,#00a4c8,#00aac0,#00acbb,#00abbd,#00a4c7,#008fd2,#0075dc,#006de7,#0065e9,#0064e8,#0068e8,#006be8,#0068e8,#0058e6,#1b42d2,#2b35b7,#2e2fa9,#2e2ea7,#2e2da5,#2f2aa0)"></i><i style="background:linear-gradient(#009dce,#00a2ca,#00a8c3,#00aeb9,#0bb2b0,#0eb3ae,#06b0b4,#00abbd,#00a4c8,#0093d1,#0077da,#006ae8,#213eca,#2e2fa9,#2e2ca4,#2d31af,#213eca,#074ce0,#0053e5,#1943d3,#2d2faa,#302490,#30238f,#30238f,#2f2798)"></i><i style="background:linear-gradient(#0099d0,#00a4c8,#00aabf,#00adba,#00aeb8,#00aeb8,#00acbc,#00a4c8,#0091d2,#017bd8,#0073de,#0071e2,#006fe4,#006be8,#005be7,#024ee2,#0056e6,#0063e8,#0066e9,#034ee2,#2b35b6,#2f2695,#30238f,#30238f,#2f2a9e)"></i><i style="background:linear-gradient(#017dd7,#0081d4,#008bd2,#0094d1,#009ad0,#009fcd,#009fcd,#0096d1,#0083d4,#0079d9,#0079d9,#017dd7,#017cd7,#0074dd,#006fe4,#006de7,#006ce7,#006de6,#006de6,#0067e8,#1a42d2,#2e2ca4,#30238f,#30238f,#30238f)"></i><i style="background:linear-gradient(#0078d9,#0076db,#0075dc,#0075dc,#0076db,#0078da,#017ad8,#017cd7,#017ed6,#0081d5,#0084d4,#0082d4,#0079d9,#0070e3,#0069e8,#0067e8,#006ee6,#0071e1,#0071e1,#006ae8,#263bc3,#2f2594,#30238f,#30238f,#30238f)"></i><i style="background:linear-gradient(#008ad3,#0076db,#006ee5,#0068e8,#0069e8,#006ee6,#0073df,#017ad8,#0083d4,#008cd2,#0090d2,#0088d3,#0079d9,#006fe4,#005ce7,#1147db,#1247d9,#0a4bdf,#0b4ade,#203fcc,#2c33b2,#2d30ac,#2b34b6,#2c33b3,#2f2aa0)"></i><i style="background:linear-gradient(#00a6c6,#0088d3,#0071e1,#006ce7,#0070e4,#0079d9,#008cd2,#009ccf,#00a2ca,#00a5c7,#00a3c9,#009ad0,#0085d3,#0075dc,#006fe5,#0069e8,#014fe2,#213eca,#2a36b9,#2a35b8,#243cc5,#074ce0,#0067e8,#0067e8,#1b42d1)"></i><i style="background:linear-gradient(#00a4c8,#009bcf,#008bd2,#0086d3,#008fd2,#009cce,#00a3c9,#00a6c5,#00a9c1,#00abbe,#00a9c1,#009fcd,#0087d3,#0075dd,#006fe5,#0069e8,#0052e4,#203fcc,#2b34b5,#2e2faa,#2d30ab,#2936ba,#203fcc,#1844d4,#213eca)"></i><i style="background:linear-gradient(#00a9c1,#00a4c8,#00a0cc,#00a1cb,#00a5c7,#00a8c3,#00a9c1,#00aac0,#00a9c0,#00a8c3,#00a3c9,#0098d0,#0081d5,#0071e1,#0067e9,#0b4ade,#1b42d2,#223ec9,#2838bd,#2c32b1,#2c32b0,#253bc5,#0a4bdf,#0058e6,#084bdf)"></i><i style="background:linear-gradient(#00a7c5,#009ccf,#0091d2,#008dd2,#008ed2,#0091d2,#0095d1,#0098d0,#0097d1,#008ed2,#0180d5,#0075dd,#006ee6,#0f48dc,#2b34b5,#2c32b1,#233dc7,#084ce0,#0059e7,#0058e6,#005ae7,#0066e9,#006be8,#0066e9,#1247d9)"></i><i style="background:linear-gradient(#00aabf,#00a7c4,#00a1cb,#0098d0,#008dd2,#0087d3,#0087d3,#0086d3,#0180d5,#0076db,#006fe4,#0064e8,#1744d5,#2b34b6,#2e2da6,#2b34b4,#1147da,#006ae8,#006fe5,#006fe4,#006fe5,#006fe5,#006de7,#0068e8,#0058e6)"></i><i style="background:linear-gradient(#009dce,#009ad0,#009ccf,#009dce,#009bcf,#0099d0,#0097d1,#0095d1,#008bd2,#017dd6,#0073df,#006de7,#0056e6,#253bc5,#2c33b3,#223dc8,#0065e9,#0071e2,#0075dc,#0075dc,#0073de,#0071e1,#006be8,#1148db,#2838be)"></i><i style="background:linear-gradient(#0087d3,#008dd2,#009ad0,#00a3ca,#00a5c7,#00a2cb,#009ccf,#0093d1,#0085d4,#0076db,#006fe5,#0060e8,#1744d5,#2837bc,#2b34b4,#213eca,#0062e8,#0070e3,#0075dd,#0075dd,#0070e2,#0068e8,#213eca,#2f2a9e,#2f2593)"></i><i style="background:linear-gradient(#009dce,#00a0cc,#00a2ca,#00a2cb,#009dce,#0094d1,#0087d3,#0180d5,#017cd7,#0078da,#0074dd,#0071e2,#006de7,#005ae7,#1c42d1,#223dc8,#1b42d2,#0150e3,#0063e8,#005ce7,#1545d7,#2739c0,#2c33b3,#2b34b4,#2739c0)"></i><i style="background:linear-gradient(#00a8c3,#00a6c5,#00a4c7,#00a4c9,#00a2ca,#009fcd,#009ccf,#0097d1,#008fd2,#0082d4,#0076db,#0070e2,#006ce7,#0062e8,#044de1,#064ce0,#0055e5,#0060e8,#0065e9,#0061e8,#0057e6,#0057e6,#005ee7,#0063e8,#0060e8)"></i><i style="background:linear-gradient(#09b2b2,#00adba,#00a6c6,#009dce,#0093d1,#008ad2,#0087d3,#008ad3,#008ed2,#008ad2,#017dd6,#0072e0,#006de7,#0067e9,#0064e8,#0067e8,#0069e8,#0068e8,#0065e9,#005ce7,#0058e6,#0064e8,#006de7,#0070e3,#0070e2)"></i></div>
<div class="p" style="left:323.0px;top:497.8px;width:240.7px;height:239.6px"><i style="background:#f9fb00"></i><i style="background:#f9fb00"></i><i style="background:#f9fb00"></i><i style="background:#f9fb00"></i><i style="background:#f9fb00"></i><i style="background:#f9fb00"></i><i style="background:#f9fb00"></i><i style="background:#f9fb00"></i><i style="background:#f9fb00"></i><i style="background:#f9fb00"></i><i style="background:#f9fb00"></i><i style="background:#f9fb00"></i><i style="background:#f9fb00"></i><i style="background:#f9fb00"></i><i style="background:#f9fb00"></i><i style="background:#f9fb00"></i><i style="background:#f9fb00"></i><i style="background:#f9fb00"></i><i style="background:#f9fb00"></i><i style="background:linear-gradient(#f9fb00,#f9fb00,#f9fb00,#f9fb00,#f9fb00,#f9fb00,#f9fb00,#f9fb00,#f9fb00,#f9fb00,#f9fb00,#f9fb00,#f9fb00,#f9fb00,#f9fb00,#f9fb00,#f9fb00,#f9fb00,#f9fb00,#f9fb00,#f9fa00,#f9fa00,#f9f900,#f8f900,#f8f900)"></i><i style="background:linear-gradient(#f8f600,#f8f600,#f8f600,#f8f600,#f8f600,#f8f600,#f8f600,#f8f600,#f8f600,#f8f600,#f8f600,#f7f600,#f7f600,#f7f600,#f7f600,#f7f500,#f7f500,#f7f400,#f7f400,#f6f300,#f6f000,#f5ec00,#f5ea00,#f5e800,#f5e600)"></i><i style="background:linear-gradient(#f5ee00,#f5ee00,#f5ee00,#f5ee00,#f5ee00,#f5ed00,#f5ed00,#f5ed00,#f5ed00,#f5ed00,#f5ed00,#f5ec00,#f5ec00,#f5eb00,#f5ea00,#f5e900,#f5e700,#f5e500,#f5e200,#f5e000,#f6dd00,#f7d900,#f8d600,#f9d400,#fad200)"></i><i style="background:linear-gradient(#f5ea00,#f5ea00,#f5ea00,#f5ea00,#f5ea00,#f5ea00,#f5ea00,#f5e900,#f5e900,#f5e800,#f5e800,#f5e700,#f5e600,#f5e500,#f5e300,#f5e000,#f6dd00,#f7d900,#f8d600,#fad200,#fbcf02,#fdcb05,#fec708,#fec50b,#ffc40c)"></i><i style="background:linear-gradient(#f5e800,#f5e800,#f5e700,#f5e700,#f5e700,#f5e700,#f5e700,#f5e600,#f5e500,#f5e500,#f5e400,#f5e300,#f5e100,#f5e000,#f6dd00,#f7d900,#fad300,#fbcf02,#fdcb05,#fec709,#ffc30e,#fcbd16,#f4ba21,#efb927,#ecb92b)"></i><i style="background:linear-gradient(#f5e500,#f5e500,#f5e500,#f5e400,#f5e400,#f5e400,#f5e400,#f5e300,#f5e200,#f5e100,#f5e000,#f5df00,#f6dd00,#f6db00,#f8d700,#fbd101,#fec907,#ffc40c,#febf13,#f8ba1d,#ecb92a,#ddba3c,#cdbb51,#c7bc5a,#c2bc57)"></i><i style="background:linear-gradient(#f5e300,#f5e300,#f5e200,#f5e200,#f5e200,#f5e100,#f5e100,#f5e000,#f5df00,#f5de00,#f6dd00,#f6db00,#f7d800,#f9d400,#fbcf02,#fec709,#fdbd15,#f3ba22,#e5b933,#d6ba45,#c7bc5a,#b3bd5c,#9dbe65,#93bf68,#8ebf6b)"></i><i style="background:linear-gradient(#f5e100,#f5e000,#f5e000,#f5e000,#f5df00,#f5df00,#f5de00,#f6dd00,#f6dc00,#f6db00,#f7d900,#f8d600,#fad100,#fdcc04,#fec60a,#fcbd17,#e9b92e,#d6ba45,#c1bc56,#adbe5e,#99bf66,#7dbf71,#5fbe7e,#54be84,#4dbd87)"></i><i style="background:linear-gradient(#f5de00,#f6de00,#f6de00,#f6dd00,#f6dd00,#f6dc00,#f6dc00,#f7db00,#f7d900,#f8d700,#fad300,#fcce03,#fec907,#ffc30d,#fbbd17,#eab92d,#d0bb4e,#b5bd5b,#94bf68,#7bbf72,#60be7e,#3ebc90,#21b7a1,#19b5a7,#14b4aa)"></i><i style="background:linear-gradient(#f6dc00,#f6dc00,#f6db00,#f6db00,#f7da00,#f7da00,#f7d900,#f8d700,#f9d300,#fbcf02,#fdcb05,#fec50b,#fec012,#f8bb1c,#ebb92c,#d3bb49,#b4bd5c,#8dbf6b,#5ebe7f,#40bc8f,#26b89e,#0cb2b0,#00abbe,#00a8c2,#00a7c4)"></i><i style="background:linear-gradient(#f7da00,#f7d900,#f7d900,#f8d800,#f8d700,#f9d500,#fad300,#fbcf02,#fdcb05,#fec60a,#fec20f,#fcbd16,#f5ba20,#e8b92f,#d7ba44,#bbbd59,#94bf68,#5ebe7f,#27b89d,#0fb3ad,#00adba,#00a5c7,#009ad0,#0094d1,#0091d2)"></i><i style="background:linear-gradient(#f8d600,#f9d500,#f9d300,#fad100,#fbcf02,#fccd03,#fdca06,#fec60a,#fec20f,#fdbe14,#f9bb1a,#f2b924,#e7b930,#d7ba44,#c2bc56,#9fbe64,#6fbf77,#2fb999,#00aeb8,#00a7c4,#009fcd,#008ed2,#017cd7,#0078d9,#0076db)"></i><i style="background:linear-gradient(#fbcf02,#fccd03,#fdcb05,#fec907,#fec60a,#ffc40c,#fec20f,#fdbe14,#fabc1a,#f5ba20,#efb927,#e5b933,#d9ba42,#c5bc5c,#aabe60,#80bf70,#47bd8b,#0bb2b1,#00a2ca,#0096d1,#0086d3,#0078d9,#0071e1,#006fe4,#006ee6)"></i><i style="background:linear-gradient(#fec60a,#ffc40c,#fec20f,#fec011,#fdbe14,#fcbd16,#fabc1a,#f6ba1f,#f1b925,#ebb92c,#e4b934,#d8ba42,#cabb55,#b1bd5d,#8fbf6a,#5ebe7f,#29b99c,#00abbe,#0095d1,#0085d3,#017bd8,#0074dd,#0070e3,#006ee6,#006be8)"></i><i style="background:linear-gradient(#fdbe14,#fcbd16,#fabc19,#f9bb1b,#f7ba1e,#f5ba21,#f2b924,#edb92a,#e7b930,#e0ba39,#d8ba42,#ccbb53,#bcbd58,#9ebe64,#79bf73,#4cbd88,#22b7a1,#00a9c1,#0092d1,#0083d4,#017ad8,#0074de,#0070e3,#006ee6,#006be8)"></i><i style="background:linear-gradient(#f7ba1e,#f5ba20,#f3ba22,#f1b924,#efb927,#ecb92b,#e8b92f,#e3b935,#ddba3c,#d7ba45,#cfbb4e,#c4bc5d,#b5bd5b,#97bf67,#73bf76,#4abd89,#21b7a1,#00a9c1,#0092d2,#0082d4,#017ad8,#0074de,#0070e3,#006ee6,#006be8)"></i><i style="background:linear-gradient(#efb927,#edb929,#ebb92b,#e9b92e,#e6b931,#e3b935,#dfba3a,#daba40,#d5bb47,#cfbb4e,#c9bc56,#bebc57,#afbd5e,#91bf69,#6dbf78,#44bc8c,#1db6a4,#00a8c3,#008fd2,#0080d5,#0078d9,#0073df,#006fe4,#006ce7,#0068e8)"></i><i style="background:linear-gradient(#e8b92f,#e6b931,#e5b933,#e2b936,#e0ba39,#dcba3e,#d8ba43,#d3bb4a,#cebb50,#c8bc58,#c2bc57,#b4bd5b,#a3be62,#86bf6e,#62be7d,#3bbb92,#15b5a9,#00a5c6,#008ad3,#017dd7,#0076dc,#0071e1,#006ee6,#0069e8,#005de7)"></i><i style="background:linear-gradient(#e3b935,#e2b937,#e0ba39,#ddba3d,#daba40,#d6ba46,#d1bb4c,#ccbb53,#c6bc5a,#c1bc56,#babd59,#aabe5f,#97bf67,#7abf73,#57be82,#31ba97,#0eb3ae,#00a3c9,#0085d4,#0079d9,#0073de,#0070e4,#006ce8,#0061e8,#044de1)"></i><i style="background:linear-gradient(#dfba3a,#ddba3d,#daba40,#d7ba44,#d4bb48,#cfbb4f,#cabb56,#c4bc5d,#bfbc57,#b9bd5a,#b2bd5d,#a1be63,#8cbf6b,#6fbf77,#4dbd87,#29b99c,#08b1b2,#00a1cb,#0081d4,#0077da,#0072e0,#006fe5,#0069e8,#0057e6,#1147da)"></i><i style="background:linear-gradient(#daba40,#d8ba43,#d5ba47,#d1bb4c,#ccbb52,#c7bc59,#c2bc56,#bcbd58,#b6bd5b,#b0bd5d,#a8be60,#98bf66,#85bf6e,#67bf7b,#45bc8c,#22b7a1,#03afb6,#009fcd,#0180d5,#0076db,#0071e1,#006ee6,#0067e8,#0151e4,#1645d6)"></i><i style="background:linear-gradient(#d5ba47,#d3bb4a,#d0bb4e,#cabb55,#c4bc5d,#bfbc57,#b9bd5a,#b3bd5c,#adbe5e,#a6be61,#9fbe64,#90bf6a,#7dbf72,#5fbe7f,#3dbc90,#1cb6a5,#00aeb9,#009dce,#017ed6,#0075dc,#0071e2,#006de7,#0065e9,#054de1,#1a42d2)"></i><i style="background:linear-gradient(#d0bb4d,#cebb50,#cabb55,#c4bc5e,#bdbc58,#b6bd5b,#b0bd5d,#aabe60,#a3be62,#9dbe65,#95bf68,#87bf6d,#76bf75,#57be83,#36bb94,#16b5a9,#00acbb,#009bcf,#017dd7,#0074dd,#0070e3,#006ce7,#0061e8,#0b4ade,#1e40ce)"></i><i style="background:linear-gradient(#ccbb52,#cabb55,#c6bc5a,#bfbc57,#b6bd5b,#b0bd5d,#a9be60,#a3be62,#9cbe65,#95bf68,#8ebf6b,#81bf70,#71bf77,#52be85,#31ba97,#12b4ab,#00abbd,#0099d0,#017cd7,#0074de,#0070e3,#006ce8,#005ee7,#0e49dc,#1f3fcd)"></i><i style="background:linear-gradient(#cabb55,#c8bc58,#c4bc5d,#bbbd59,#b2bd5c,#abbe5f,#a5be62,#9ebe64,#97bf67,#91bf6a,#89bf6d,#7fbf71,#70bf77,#50bd86,#2fba99,#10b4ad,#00abbe,#0098d0,#017bd8,#0073de,#006fe4,#006be8,#005ce7,#0f49dc,#1f40cd)"></i><i style="background:linear-gradient(#c8bc57,#c5bc5b,#c1bc56,#b8bd5a,#aebe5e,#a7be61,#a0be63,#9abe66,#93bf69,#8cbf6b,#85bf6e,#7cbf72,#70bf77,#4fbd86,#2db99a,#0fb3ae,#00aabf,#0097d1,#007ad8,#0073df,#006fe4,#006be8,#005be7,#0f49dc,#1e40cf)"></i><i style="background:linear-gradient(#c7bc5a,#c3bc5b,#bebc57,#b4bd5c,#aabe60,#a3be62,#9cbe65,#95bf68,#8ebf6a,#87bf6d,#80bf70,#79bf73,#6fbf77,#4ebd87,#2bb99b,#0db3af,#00aac0,#0096d1,#0079d9,#0072e0,#006fe5,#006ae8,#0059e7,#0f49dc,#1d41d0)"></i><i style="background:linear-gradient(#c5bc5c,#c1bc56,#bbbd59,#b1bd5d,#a5be61,#9ebe64,#97bf67,#91bf6a,#89bf6c,#82bf6f,#7bbf72,#77bf74,#6fbf77,#4cbd88,#28b99d,#0bb2b0,#00a9c1,#0095d1,#0078d9,#0072e0,#006ee5,#0069e8,#0058e6,#0f49dc,#1c42d1)"></i><i style="background:linear-gradient(#c3bc5a,#bfbc57,#b8bd5a,#adbe5e,#a1be63,#9abe66,#93bf69,#8cbf6b,#85bf6e,#7dbf71,#77bf74,#74bf75,#6fbf78,#4bbd89,#27b89e,#0ab2b2,#00a8c2,#0093d1,#0077da,#0071e1,#006ee6,#0068e8,#0056e6,#0f49dc,#1b42d2)"></i><i style="background:linear-gradient(#c1bc56,#bdbc58,#b6bd5b,#aabe60,#9dbe65,#96bf68,#8fbf6a,#87bf6d,#80bf70,#79bf73,#73bf76,#73bf76,#6fbf77,#4bbd89,#26b89e,#09b1b2,#00a8c2,#0093d1,#0077da,#0071e1,#006ee6,#0067e8,#0054e5,#1048db,#1b42d1)"></i><i style="background:linear-gradient(#c0bc57,#bbbd59,#b4bd5c,#a7be61,#99bf66,#92bf69,#8bbf6c,#83bf6f,#7cbf72,#76bf75,#71bf77,#73bf76,#71bf77,#4cbd88,#26b89e,#09b1b2,#00a8c2,#0092d1,#0077db,#0071e2,#006de6,#0067e9,#0053e4,#1247da,#1d41cf)"></i><i style="background:linear-gradient(#bebc58,#b9bd5a,#b2bd5c,#a4be62,#96bf68,#8ebf6b,#86bf6e,#7fbf71,#78bf74,#72bf76,#6fbf78,#73bf76,#73bf76,#4dbd87,#26b89e,#09b1b2,#00a8c2,#0092d2,#0076db,#0071e2,#006de7,#0066e9,#0151e4,#1446d8,#1f3fcd)"></i><i style="background:linear-gradient(#bcbd58,#b8bd5a,#b0bd5d,#a1be63,#92bf69,#89bf6c,#82bf6f,#7bbf72,#73bf76,#6fbf77,#6cbf79,#73bf76,#75bf75,#4ebd87,#26b89e,#09b1b2,#00a8c2,#0092d2,#0076db,#0070e2,#006de7,#0066e9,#014fe3,#1645d6,#213ecb)"></i><i style="background:linear-gradient(#bbbd59,#b6bd5b,#aebd5e,#9fbe64,#8ebf6b,#85bf6e,#7ebf71,#76bf74,#6fbf77,#6cbf79,#6abf79,#73bf76,#77bf74,#4fbd86,#26b89e,#09b1b2,#00a8c2,#0091d2,#0076db,#0070e2,#006de7,#0065e9,#034ee2,#1844d4,#223dc8)"></i><i style="background:linear-gradient(#b9bd5a,#b4bd5c,#adbe5f,#9cbe65,#8abf6c,#81bf70,#7abf73,#72bf76,#6bbf79,#68bf7a,#68bf7a,#73bf76,#78bf73,#51bd86,#26b89e,#09b1b2,#00a8c3,#0091d2,#0075dc,#0070e3,#006ce7,#0064e8,#054de1,#1a43d3,#243cc6)"></i><i style="background:linear-gradient(#b7bd5a,#b2bd5c,#abbe5f,#99bf66,#86bf6e,#7dbf72,#75bf75,#6dbf78,#66bf7b,#65bf7c,#66bf7b,#73bf76,#7abf73,#52be85,#26b89e,#09b1b2,#00a8c3,#0091d2,#0075dc,#0070e3,#006ce7,#0063e8,#074ce0,#1c42d1,#253bc4)"></i><i style="background:linear-gradient(#b5bd5b,#b0bd5d,#a8be60,#96bf67,#83bf6f,#7abf73,#73bf76,#6bbf79,#63bf7d,#62be7d,#64bf7c,#72bf76,#7bbf72,#52be85,#25b89f,#07b1b3,#00a8c3,#0090d2,#0075dc,#0070e3,#006ce7,#0061e8,#0a4bde,#1e40cf,#263ac2)"></i><i style="background:linear-gradient(#b1bd5d,#acbe5f,#a5be62,#93bf68,#81bf70,#79bf73,#73bf76,#69bf7a,#61be7e,#60be7e,#62be7d,#71bf76,#7bbf72,#51bd86,#24b8a0,#05b0b4,#00a7c4,#008fd2,#0075dd,#0070e4,#006be8,#005ee7,#0f48dc,#203fcc,#2739bf)"></i><i style="background:linear-gradient(#aebe5e,#a9be60,#a1be63,#91bf6a,#7fbf71,#78bf74,#72bf76,#68bf7a,#5fbe7f,#5dbe7f,#60be7e,#70bf77,#7bbf73,#50bd86,#22b7a1,#04afb5,#00a6c6,#008dd2,#0074dd,#006fe4,#006be8,#005be7,#1247d9,#223ec9,#2838bd)"></i><i style="background:linear-gradient(#abbe5f,#a6be61,#9ebe64,#8ebf6b,#7dbf72,#77bf74,#72bf76,#67bf7b,#5dbe80,#5bbe80,#5ebe7f,#6fbf77,#7abf73,#4fbd87,#20b7a2,#02afb7,#00a5c7,#008cd2,#0074dd,#006fe4,#006ae8,#0058e6,#1645d6,#233cc6,#2937bb)"></i><i style="background:linear-gradient(#a7be61,#a2be63,#9abe66,#8bbf6c,#7bbf72,#76bf74,#72bf76,#66bf7b,#5bbe81,#59be81,#5cbe80,#6ebf78,#7abf73,#4dbd87,#1eb7a3,#00aeb8,#00a4c8,#008ad2,#0074dd,#006fe4,#0069e8,#0054e5,#1a43d3,#253bc4,#2a36b8)"></i><i style="background:linear-gradient(#a4be62,#9fbe64,#97bf67,#88bf6d,#79bf73,#75bf75,#72bf76,#65bf7c,#59be82,#57be83,#59be81,#6dbf78,#7abf73,#4cbd88,#1db6a4,#00adb9,#00a3c9,#0089d3,#0074de,#006fe5,#0068e8,#0150e3,#1d41d0,#273ac1,#2b35b6)"></i><i style="background:linear-gradient(#a0be63,#9bbe65,#93bf68,#85bf6e,#77bf74,#74bf75,#71bf76,#64bf7c,#56be83,#55be84,#57be82,#6cbf79,#7abf73,#4bbd88,#1bb6a5,#00adba,#00a2ca,#0088d3,#0073de,#006fe5,#0067e8,#044de1,#1f3fcc,#2838be,#2c33b4)"></i><i style="background:linear-gradient(#9ebe64,#99bf66,#91bf69,#83bf6f,#76bf75,#73bf76,#70bf77,#62be7d,#54be84,#52be85,#54be84,#69bf7a,#77bf74,#48bd8a,#19b5a7,#00acbc,#00a1cb,#0086d3,#0073df,#006ee5,#0066e9,#084bdf,#213ec9,#2937bc,#2c33b2)"></i><i style="background:linear-gradient(#a0be63,#9bbe65,#93bf68,#85bf6e,#77bf74,#72bf76,#6dbf78,#5fbe7f,#50bd86,#4dbd88,#4ebd87,#61be7e,#6dbf78,#41bc8e,#15b5aa,#00abbd,#00a0cc,#0085d4,#0072df,#006ee6,#0064e8,#0d49dd,#233dc7,#2936ba,#2c32b0)"></i><i style="background:linear-gradient(#a4be62,#9fbe64,#97bf67,#88bf6d,#78bf73,#71bf77,#69bf7a,#5abe81,#4bbd88,#48bd8a,#48bd8a,#57be82,#61be7e,#38bb93,#10b3ad,#00aabf,#009ecd,#0083d4,#0072e0,#006de7,#0061e8,#1048db,#243bc5,#2a35b8,#2c31af)"></i><i style="background:linear-gradient(#a8be60,#a3be62,#9bbe66,#8bbf6c,#7bbf72,#70bf77,#66bf7b,#56be83,#47bd8b,#42bc8d,#41bc8e,#4dbd87,#55be84,#2fba98,#0cb2b0,#00a9c1,#009dce,#0082d4,#0071e1,#006de7,#005de7,#1346d8,#263bc3,#2b35b7,#2d31af)"></i><i style="background:linear-gradient(#acbe5f,#a7be61,#9fbe64,#8fbf6a,#7cbf72,#6ebf78,#60be7e,#4fbd86,#40bc8e,#3bbb91,#38bb93,#42bc8e,#47bd8b,#27b89e,#08b1b2,#00a8c2,#009ccf,#0081d5,#0071e1,#006ce7,#005ae7,#1645d6,#273ac1,#2b34b6,#2d31ae)"></i><i style="background:linear-gradient(#acbe5f,#a7be61,#a0be63,#90bf6a,#7cbf72,#6bbf79,#5abe81,#49bd8a,#3abb92,#33ba96,#2eb999,#34ba96,#37bb94,#1db6a4,#04b0b5,#00a8c3,#009ccf,#0082d4,#0072e0,#006de7,#005ae7,#1943d3,#2838bd,#2c32b1,#2e2fa9)"></i><i style="background:linear-gradient(#abbe5f,#a6be61,#a1be63,#92bf69,#7fbf71,#6dbf78,#5cbe80,#4cbd88,#3cbb91,#31ba98,#28b89d,#29b99c,#2ab99b,#15b5a9,#01aeb7,#00a7c5,#009bcf,#0081d5,#0072e0,#006de7,#005de7,#1844d4,#2937ba,#2d30ab,#2f2ba2)"></i><i style="background:linear-gradient(#acbe5f,#a8be60,#a2be63,#91bf6a,#7cbf72,#68bf7b,#55be83,#48bd8a,#3abb92,#30ba98,#28b89d,#28b89d,#27b89d,#14b4aa,#00aeb8,#00a6c6,#0099d0,#017ed6,#0071e2,#006be8,#0053e5,#1f40cd,#2b34b5,#2e2da6,#2f2a9e)"></i><i style="background:linear-gradient(#b4bd5c,#afbd5e,#a6be61,#92bf69,#79bf73,#60be7e,#47bd8b,#37bb94,#2bb99b,#24b8a0,#1fb7a3,#1fb7a2,#1fb7a3,#0db3af,#00acbb,#00a4c8,#0097d1,#017dd6,#0070e3,#0069e8,#064ce0,#213eca,#2b34b5,#2d30ac,#2e2da6)"></i><i style="background:linear-gradient(#bcbd58,#b7bd5b,#aebd5e,#99bf66,#7cbf72,#5ebe7f,#41bc8e,#31ba97,#27b89d,#23b8a0,#20b7a2,#1eb6a4,#18b5a8,#03afb6,#00a8c2,#009fcd,#008fd2,#0079d9,#006fe4,#0068e8,#0051e4,#1744d5,#253bc4,#2937ba,#2c33b4)"></i><i style="background:linear-gradient(#bbbd59,#b9bd5a,#b4bd5c,#9ebe64,#7ebf71,#5ebe7f,#44bc8d,#37bb94,#31ba98,#2cb99b,#24b8a0,#1ab6a6,#0db3af,#00abbe,#00a2ca,#0096d1,#0084d4,#0074dd,#006ce7,#005ee7,#0d49dd,#1d41cf,#2739c0,#2a36b8,#2b34b4)"></i><i style="background:linear-gradient(#b7bd5b,#b0bd5d,#a5be61,#8abf6c,#68bf7a,#4bbd89,#35ba95,#2db99a,#2db99a,#2bb99b,#25b89f,#19b6a7,#0ab2b1,#00a9c0,#00a0cc,#0092d2,#0080d5,#0073df,#006be8,#0052e4,#1943d3,#233cc7,#2937bb,#2b35b6,#2c32b0)"></i><i style="background:linear-gradient(#a8be60,#9ebe64,#91bf69,#74bf75,#53be84,#3bbb92,#26b89e,#1fb7a3,#1fb7a3,#22b7a1,#21b7a2,#17b5a8,#07b1b3,#00a7c3,#009ccf,#008ad2,#017cd7,#0072e0,#006ae8,#0150e3,#203fcc,#2a36b9,#2d2fab,#2e2da6,#2f2ba0)"></i><i style="background:linear-gradient(#a6be61,#9cbe65,#8ebf6b,#70bf77,#53be84,#45bc8c,#3abb92,#36bb95,#33ba96,#2db99a,#22b7a1,#10b4ad,#00adb9,#00a4c9,#0096d1,#0084d4,#0077da,#0070e4,#0061e8,#1446d8,#2838bf,#2d31ad,#2e2ca3,#2e2ca3,#2f2a9f)"></i><i style="background:linear-gradient(#aebe5e,#a7be61,#95bf68,#6abf7a,#3dbb90,#2cb99a,#28b89d,#2db99a,#2eb999,#24b89f,#15b5a9,#02afb6,#00a8c2,#009dce,#0088d3,#0079d9,#0071e2,#0067e8,#1645d6,#263ac2,#2c33b3,#2e2faa,#2e2da5,#2e2fa9,#2d30ab)"></i><i style="background:linear-gradient(#afbd5d,#a9be60,#98bf66,#6dbf78,#3ebc8f,#2cb99b,#25b89f,#26b89e,#24b8a0,#18b5a8,#09b1b2,#00abbe,#00a4c8,#0096d1,#0082d4,#0076db,#0070e3,#0067e8,#1346d8,#253bc5,#2a35b7,#2d31af,#2e2faa,#2d31ae,#2c32b0)"></i><i style="background:linear-gradient(#abbe5f,#a3be62,#94bf68,#72bf76,#52be85,#44bc8c,#3cbb91,#37bb94,#2eb999,#1cb6a5,#09b1b2,#00aabf,#00a4c8,#009ad0,#008cd2,#0082d4,#0079d9,#0072e0,#006ce7,#0059e6,#1943d3,#2739c0,#2b34b6,#2b34b6,#2b34b4)"></i><i style="background:linear-gradient(#a4be62,#9abe66,#8cbf6b,#70bf77,#58be82,#4fbd87,#46bc8b,#3cbb91,#2db99a,#17b5a8,#04b0b5,#00a9c1,#00a3c9,#009ad0,#008dd2,#0082d4,#017ad8,#0074de,#006fe4,#0068e8,#0d49dd,#253bc5,#2a36b9,#2a36b9,#2b35b6)"></i><i style="background:linear-gradient(#9fbe64,#9ebe64,#94bf68,#79bf73,#5abe81,#45bc8c,#37bb94,#31ba97,#2bb99b,#1db6a4,#0bb2b1,#00a9c0,#009fcd,#008ed2,#017dd6,#0075dc,#0072e0,#006ee5,#0064e9,#1048db,#2739bf,#2d31ae,#2e2faa,#2c33b2,#2936ba)"></i><i style="background:linear-gradient(#6dbf78,#6bbf79,#67bf7b,#57be82,#48bd8a,#3dbb90,#31ba98,#2ab99c,#25b89f,#1ab6a6,#08b1b2,#00a7c4,#0097d1,#017fd6,#0072df,#006ee6,#0069e8,#0059e6,#1346d9,#223ec9,#2c33b3,#2f299d,#2f2593,#2f2695,#2f2797)"></i><i style="background:linear-gradient(#5fbe7e,#5cbe80,#5cbe80,#55be83,#48bd8a,#38bb93,#26b89e,#1ab6a6,#13b4ab,#0cb2b0,#01aeb7,#00a6c6,#0096d1,#017dd6,#0071e1,#006be8,#0055e6,#1b42d1,#2839bf,#2a36b9,#2c32b0,#2e2ca4,#2f2798,#2f2695,#2f2594)"></i><i style="background:linear-gradient(#77bf74,#70bf77,#6abf7a,#5ebe7f,#4ebd87,#3dbb90,#2eb999,#28b89d,#27b89d,#21b7a2,#14b4ab,#00acbc,#00a1cb,#0090d2,#017ed6,#0076db,#0071e1,#006de7,#005de7,#0e49dd,#213eca,#2a36b9,#2d31af,#2d31ae,#2d30ad)"></i><i style="background:linear-gradient(#77bf74,#67bf7b,#56be83,#46bd8b,#3ebc90,#38bb93,#37bb94,#39bb92,#36bb95,#23b8a0,#0bb2b1,#00a7c5,#009ad0,#008cd2,#0082d4,#017ed6,#0079d9,#0073df,#006ee6,#0066e9,#094bdf,#1f3fcd,#263ac2,#2739c0,#2a36b9)"></i><i style="background:linear-gradient(#8ebf6b,#7fbf71,#69bf7a,#51bd85,#42bc8e,#37bb94,#30ba98,#2bb99b,#24b89f,#16b5a9,#04b0b5,#00a5c7,#0096d1,#0084d4,#0078d9,#0072df,#006ee5,#0066e9,#034ee2,#064ce0,#024ee2,#014fe3,#024ee2,#014fe3,#094bdf)"></i><i style="background:linear-gradient(#93bf69,#86bf6e,#6fbf77,#55be84,#42bc8e,#34ba96,#29b99d,#21b7a2,#1bb6a6,#11b4ac,#04b0b5,#00a6c5,#0099d0,#0088d3,#0079d9,#0071e2,#0068e8,#1843d4,#2937bb,#263ac2,#1844d4,#044de1,#0057e6,#005ee7,#005ce7)"></i><i style="background:linear-gradient(#5bbe81,#4fbd86,#3dbc90,#2bb99b,#20b7a2,#1bb6a6,#1ab6a6,#1bb6a6,#19b5a7,#0cb2b0,#00acbc,#00a2ca,#0096d1,#0089d3,#007ad8,#006fe4,#1147da,#2f2a9e,#30238f,#2f2592,#2f299d,#2d31af,#2937bc,#253bc4,#253bc4)"></i><i style="background:linear-gradient(#26b89e,#1ab6a6,#0cb2b0,#00adba,#00a8c3,#00a4c8,#00a5c7,#00a8c3,#00aac0,#00a8c3,#00a3c9,#009ccf,#0097d1,#0090d2,#017ed6,#0070e3,#1446d8,#2f2799,#30238f,#30238f,#302490,#2f2aa0,#2e2ea8,#2e2ea7,#2f2a9e)"></i><i style="background:linear-gradient(#0bb2b1,#03afb6,#00adba,#00a9c1,#00a4c8,#00a0cc,#009ecd,#009fcd,#009ece,#009ad0,#0097d1,#0096d1,#0097d1,#0094d1,#0082d4,#0072e1,#014fe3,#2e2ca3,#302390,#30238f,#2f2593,#2e2ca3,#2f2ca2,#2f289a,#302491)"></i><i style="background:linear-gradient(#0eb3ae,#17b5a8,#1cb6a4,#1bb6a5,#12b4ac,#06b0b4,#00adba,#00aabf,#00a7c4,#00a2cb,#009dce,#0099d0,#0098d0,#0094d1,#0083d4,#0073de,#0068e8,#1c41d0,#2a36b9,#2a36b9,#2a35b7,#2d2fab,#2f289b,#2f2899,#2f2ba2)"></i><i style="background:linear-gradient(#10b3ad,#17b5a8,#1eb7a3,#22b7a1,#21b7a1,#18b5a7,#09b1b2,#00abbe,#00a4c8,#009dce,#0096d1,#008ed2,#008bd2,#0089d3,#0180d5,#0074dd,#006de7,#044de1,#1c41d0,#1b42d1,#1d41cf,#2739c0,#2d31af,#2e2fa9,#2c32b1)"></i><i style="background:linear-gradient(#03afb6,#0cb2b0,#19b5a7,#23b8a0,#23b8a0,#16b5a9,#04b0b5,#00a9c0,#00a4c8,#009dce,#0092d2,#0083d4,#017ad8,#0076db,#0072df,#006fe4,#0067e8,#1645d6,#2a36b9,#2d31ae,#2d30ad,#2d30ac,#2e2ea7,#2e2da6,#2d31ae)"></i><i style="background:linear-gradient(#0bb2b1,#17b5a8,#27b89e,#32ba97,#2db99a,#1bb6a6,#07b1b3,#00abbe,#00a6c6,#009ece,#0090d2,#0180d5,#0077db,#0072e0,#006ee5,#0068e8,#0b4ade,#2838bd,#2f2a9f,#2f2797,#2f299c,#2e2ea8,#2c33b2,#2937bc,#213eca)"></i><i style="background:linear-gradient(#00adba,#04b0b5,#09b1b2,#05b0b4,#00adb9,#00abbd,#00abbe,#00a9c0,#00a7c4,#00a4c8,#00a1cc,#009bcf,#008fd2,#017bd7,#006fe5,#014fe3,#263ac2,#2c33b2,#2c32b0,#2937bb,#223ec9,#1f3fcd,#263bc3,#2937bb,#2739c0)"></i><i style="background:linear-gradient(#00a0cc,#00a0cc,#00a1cb,#00a1cb,#00a3ca,#00a6c5,#00aac0,#00a9c0,#00a5c6,#009ecd,#0095d1,#0088d3,#017cd7,#0071e1,#0062e8,#243bc5,#2d2fab,#2e2ea8,#2c33b2,#263ac2,#223ec9,#263ac2,#2d31af,#2f299c,#2f2798)"></i><i style="background:linear-gradient(#00a3c9,#009dce,#0094d1,#008bd2,#0088d3,#008cd2,#0094d1,#0097d1,#0091d2,#0084d4,#0077da,#0070e3,#0069e8,#024ee2,#1e40ce,#2a36b9,#2e2ca3,#2f2594,#2f2593,#2f2a9f,#2c32b1,#2838be,#263ac2,#2838bd,#2c32b1)"></i><i style="background:linear-gradient(#00aac0,#00a3c9,#0099d0,#008ed2,#0087d3,#0084d4,#0086d3,#0088d3,#0083d4,#0078d9,#0070e2,#0069e8,#074ce0,#1f40cd,#263bc3,#273ac1,#2937bb,#2d30ac,#2f299d,#2f289b,#2d30ad,#233dc8,#0c4ade,#014fe3,#1346d9)"></i><i style="background:linear-gradient(#008bd2,#017ed6,#0078da,#0077da,#017cd7,#0085d3,#0091d2,#0094d1,#008cd2,#017cd7,#0072e0,#006de6,#0067e8,#0061e8,#005fe8,#0063e8,#005be7,#1943d3,#2d31af,#2f2a9e,#2f2a9f,#2e2ea8,#2d31ae,#2d2fab,#2f2ba1)"></i><i style="background:linear-gradient(#0077da,#0075dd,#0076db,#0180d5,#0095d1,#00a4c9,#00a9c2,#00a5c7,#0098d0,#017ed6,#0071e2,#006be8,#0065e9,#0066e9,#0065e9,#0052e4,#233cc6,#2f2ba1,#2f2491,#30238f,#30238f,#30238f,#30238f,#30238f,#30238f)"></i><i style="background:linear-gradient(#0093d1,#009ad0,#009bcf,#009bcf,#009bcf,#009dce,#00a1cc,#00a0cc,#0099d0,#0081d5,#0070e3,#0058e6,#1a43d2,#1844d4,#0e49dc,#0f48dc,#1943d3,#233dc7,#2739c1,#2936ba,#2d31af,#2e2ca3,#2f2a9e,#2e2da5,#2b35b7)"></i><i style="background:linear-gradient(#00a3ca,#00a6c6,#00a3c9,#009ad0,#0088d3,#017fd5,#017fd5,#0081d4,#017fd6,#0074dd,#006be8,#1744d5,#273ac1,#243cc6,#1d41cf,#1b42d1,#1844d4,#0151e4,#0069e8,#006ee6,#006be8,#0057e6,#1a42d2,#1d41cf,#0b4ade)"></i><i style="background:linear-gradient(#017ed6,#0180d5,#0084d4,#0086d3,#0083d4,#017dd6,#0078da,#0074dd,#0071e1,#0070e3,#006fe5,#006fe5,#006fe5,#006ee6,#0060e8,#203fcb,#2b35b6,#253bc5,#0151e4,#0068e8,#0062e8,#1d41d0,#2c32b0,#2f2a9f,#2f2a9e)"></i><i style="background:linear-gradient(#0076db,#0078da,#0077da,#0077db,#0077da,#0078d9,#017ad8,#007ad8,#0079d8,#0079d9,#0077db,#0074dd,#0072e0,#0070e2,#006ee5,#0068e8,#0151e4,#1048db,#1346d9,#1943d3,#2937bb,#2f2799,#30238f,#30238f,#30238f)"></i><i style="background:linear-gradient(#017bd7,#017ad8,#0075dc,#0070e3,#006ee6,#006ee5,#0070e3,#0071e1,#0072df,#0074dd,#0074de,#0071e1,#006fe5,#006ee6,#006fe4,#006fe4,#006de6,#0065e9,#0d49dd,#223ec9,#2c33b3,#2f299c,#30238f,#30238f,#30238f)"></i><i style="background:linear-gradient(#0086d3,#0080d5,#0077da,#0070e4,#0068e8,#005ee7,#005ee7,#0061e8,#006ae8,#006fe5,#0071e2,#0070e3,#006ee6,#006ce7,#006ae8,#0068e8,#0062e8,#074ce0,#203fcb,#2937bc,#2b34b4,#2c33b4,#2c32b0,#2e2faa,#2e2ca4)"></i><i style="background:linear-gradient(#0180d5,#017dd7,#017bd7,#0077da,#0073df,#0071e2,#0070e3,#0070e3,#0072e0,#0076db,#017ad8,#0078d9,#0073df,#006ee5,#0065e9,#1644d6,#2d31ae,#2f299c,#2f289b,#2f2a9f,#2b34b6,#243cc5,#2739c1,#2d31ad,#2f299c)"></i><i style="background:linear-gradient(#0073de,#0071e1,#006ee6,#005ae7,#1644d6,#1147da,#005be7,#0065e9,#0068e8,#006de7,#0070e3,#0071e2,#006ee5,#0068e8,#0057e6,#1148db,#2739c0,#2e2fa9,#2f299b,#302491,#30238f,#30238f,#30238f,#30238f,#30238f)"></i><i style="background:linear-gradient(#0071e1,#0070e2,#006de7,#005ae7,#0d49dd,#014fe3,#005de7,#0058e6,#0059e7,#006be8,#0071e1,#0075dd,#0074de,#0070e2,#006ee6,#0068e8,#0055e5,#1943d3,#263ac2,#2b34b4,#2e2ea8,#2f2797,#30238f,#30238f,#30238f)"></i><i style="background:linear-gradient(#0077da,#0073de,#0072e0,#0071e1,#0070e2,#0070e2,#006fe4,#006de7,#006ce7,#006fe4,#0073df,#0075dc,#0075dd,#0075dd,#0075dc,#0073de,#006fe5,#005be7,#1c42d1,#233dc7,#243cc6,#2739c1,#2b34b4,#2e2da6,#2f2695)"></i><i style="background:linear-gradient(#017dd6,#0073df,#0071e1,#0073df,#0076db,#0077da,#0075dd,#0071e2,#006fe5,#0070e3,#0072df,#0075dd,#0077da,#017dd6,#0081d5,#017cd7,#0072e0,#006be8,#005fe8,#0065e9,#006ce8,#006de7,#0066e9,#1c41d0,#2f299d)"></i><i style="background:linear-gradient(#0078d9,#0070e3,#006fe4,#0072e0,#0078da,#017ad8,#0075dc,#0071e2,#0070e3,#0073df,#0079d9,#017ed6,#017cd7,#0079d9,#0075dc,#0071e1,#006fe4,#006fe4,#0071e1,#0076db,#017ad8,#0076db,#006ee5,#1b42d1,#2f2695)"></i><i style="background:linear-gradient(#017cd7,#0073df,#006fe4,#006fe4,#0071e1,#0075dd,#0077da,#0077da,#0077db,#0077da,#0078d9,#017ad8,#017bd8,#017bd8,#0078da,#0074de,#0070e2,#006ee5,#006ce7,#006be8,#0068e8,#005ae7,#1844d4,#2a35b8,#2f2ba0)"></i><i style="background:linear-gradient(#008ed2,#0082d4,#0074dd,#006ee5,#006ce7,#006ee5,#0071e1,#0075dd,#0079d9,#017cd7,#017dd6,#017bd7,#0079d9,#0077da,#0072e0,#006ce7,#074ce0,#213eca,#253bc4,#243bc5,#2937bc,#2d30ad,#2e2ea7,#2b35b7,#243bc5)"></i><i style="background:linear-gradient(#0095d1,#0083d4,#0076db,#0071e2,#006ee5,#006ee6,#006ee5,#0070e3,#0072e0,#0072df,#0070e2,#006de7,#0067e9,#0059e6,#1446d8,#2937bc,#2e2faa,#2c32b0,#1147da,#006ce8,#006fe4,#006de6,#0067e9,#0056e6,#1446d8)"></i><i style="background:linear-gradient(#0099d0,#008ed2,#0081d4,#0079d9,#0073df,#006fe4,#006de7,#006be8,#0061e8,#1a42d2,#2d31ae,#2e2ca2,#2f2ba0,#2e2ca4,#2f299d,#302390,#30238f,#2f2696,#213eca,#0069e8,#006fe4,#006ee6,#006be8,#0061e8,#034ee2)"></i><i style="background:linear-gradient(#0083d4,#008cd2,#008ed2,#0086d3,#017cd7,#0075dd,#0071e1,#006ee6,#005be7,#2739bf,#2f2797,#30238f,#2f2695,#2e2ca3,#2e2da6,#2f2ba0,#2f2899,#2f2695,#2f2aa0,#2c33b4,#2937bc,#2c33b2,#2e2ea7,#2e2ea8,#2b35b6)"></i><i style="background:linear-gradient(#0074dd,#0180d5,#008ed2,#008ed2,#017fd5,#0073df,#006de7,#0064e8,#0053e4,#1147da,#253bc3,#2c32b1,#2e2da6,#2f2a9e,#2f2ba0,#2a36b8,#253bc4,#2839bf,#2c32b0,#2e2ca3,#2f2a9e,#2f289b,#2f2696,#2f2594,#2f289a)"></i><i style="background:linear-gradient(#01aeb7,#03afb6,#00aabf,#009ccf,#017bd8,#006ee5,#0066e9,#006ae8,#0070e4,#0073df,#0072e0,#006ee5,#0061e8,#1c42d1,#2c33b4,#2e2faa,#2c33b3,#2739c0,#263ac2,#2937bc,#263ac2,#1147da,#0066e9,#006ee5,#0071e1)"></i><i style="background:linear-gradient(#0fb3ae,#00a9c0,#0093d1,#0076db,#006ee5,#006de7,#0070e3,#0074dd,#0077da,#0075dc,#0070e3,#0067e8,#1147da,#2936ba,#2f2a9f,#30238f,#30238f,#2f299c,#2e2ca3,#2f2a9f,#2e2ea9,#1a42d2,#006de7,#0074dd,#0076db)"></i><i style="background:linear-gradient(#00a7c4,#009ad0,#017cd7,#006fe4,#0068e8,#006ae8,#006ee5,#0071e2,#0071e1,#0070e3,#006be8,#0c4ade,#2c32b0,#302491,#30238f,#30238f,#30238f,#2f299c,#2e2ea7,#2f289b,#2f2797,#2e2da6,#1744d5,#0069e8,#006be8)"></i></div>
<svg width="568" height="836" viewBox="0 0 568 836" style="position:absolute;left:0;top:0"><path d="M61.69 3.20v-2.2M61.69 243.30v2.2M77.85 3.20v-2.2M77.85 243.30v2.2M90.38 3.20v-2.2M90.38 243.30v2.2M100.61 3.20v-2.2M100.61 243.30v2.2M109.27 3.20v-2.2M109.27 243.30v2.2M116.77 3.20v-2.2M116.77 243.30v2.2M123.38 3.20v-2.2M123.38 243.30v2.2M129.30 3.20v-3.0M129.30 243.30v3.0M168.22 3.20v-2.2M168.22 243.30v2.2M190.99 3.20v-2.2M190.99 243.30v2.2M207.15 3.20v-2.2M207.15 243.30v2.2M219.68 3.20v-2.2M219.68 243.30v2.2M229.91 3.20v-2.2M229.91 243.30v2.2M238.57 3.20v-2.2M238.57 243.30v2.2M246.07 3.20v-2.2M246.07 243.30v2.2M252.68 3.20v-2.2M252.68 243.30v2.2M258.60 3.20v-3.0M258.60 243.30v3.0M57.40 235.05h-2.2M298.00 235.05h2.2M57.40 220.90h-2.2M298.00 220.90h2.2M57.40 206.75h-2.2M298.00 206.75h2.2M57.40 192.60h-3.0M298.00 192.60h3.0M57.40 178.45h-2.2M298.00 178.45h2.2M57.40 164.30h-2.2M298.00 164.30h2.2M57.40 150.15h-2.2M298.00 150.15h2.2M57.40 136.00h-3.0M298.00 136.00h3.0M57.40 121.85h-2.2M298.00 121.85h2.2M57.40 107.70h-2.2M298.00 107.70h2.2M57.40 93.55h-2.2M298.00 93.55h2.2M57.40 79.40h-3.0M298.00 79.40h3.0M57.40 65.25h-2.2M298.00 65.25h2.2M57.40 51.10h-2.2M298.00 51.10h2.2M57.40 36.95h-2.2M298.00 36.95h2.2M57.40 22.80h-3.0M298.00 22.80h3.0M57.40 8.65h-2.2M298.00 8.65h2.2" stroke="#16162a" stroke-width="1.2" fill="none"/><rect x="57.40" y="3.20" width="240.60" height="240.10" fill="none" stroke="#16162a" stroke-width="1.5"/><text x="47.6" y="196.30" text-anchor="end" class="tk">50</text><text x="47.6" y="139.70" text-anchor="end" class="tk">100</text><text x="47.6" y="83.10" text-anchor="end" class="tk">150</text><text x="47.6" y="26.50" text-anchor="end" class="tk">200</text><text transform="translate(14.8 123.2) rotate(-90)" text-anchor="middle" class="zl">z (m)</text><rect x="74.4" y="5.2" width="74.0" height="21.5" fill="#fff"/><text y="20.4"><tspan x="78.4" class="pl">(a)</tspan><tspan x="100.3" class="s">S</tspan><tspan class="eq">= 10 m</tspan></text><path d="M327.29 3.20v-2.2M327.29 243.30v2.2M343.45 3.20v-2.2M343.45 243.30v2.2M355.98 3.20v-2.2M355.98 243.30v2.2M366.21 3.20v-2.2M366.21 243.30v2.2M374.87 3.20v-2.2M374.87 243.30v2.2M382.37 3.20v-2.2M382.37 243.30v2.2M388.98 3.20v-2.2M388.98 243.30v2.2M394.90 3.20v-3.0M394.90 243.30v3.0M433.82 3.20v-2.2M433.82 243.30v2.2M456.59 3.20v-2.2M456.59 243.30v2.2M472.75 3.20v-2.2M472.75 243.30v2.2M485.28 3.20v-2.2M485.28 243.30v2.2M495.51 3.20v-2.2M495.51 243.30v2.2M504.17 3.20v-2.2M504.17 243.30v2.2M511.67 3.20v-2.2M511.67 243.30v2.2M518.28 3.20v-2.2M518.28 243.30v2.2M524.20 3.20v-3.0M524.20 243.30v3.0M323.00 235.05h-2.2M563.70 235.05h2.2M323.00 220.90h-2.2M563.70 220.90h2.2M323.00 206.75h-2.2M563.70 206.75h2.2M323.00 192.60h-3.0M563.70 192.60h3.0M323.00 178.45h-2.2M563.70 178.45h2.2M323.00 164.30h-2.2M563.70 164.30h2.2M323.00 150.15h-2.2M563.70 150.15h2.2M323.00 136.00h-3.0M563.70 136.00h3.0M323.00 121.85h-2.2M563.70 121.85h2.2M323.00 107.70h-2.2M563.70 107.70h2.2M323.00 93.55h-2.2M563.70 93.55h2.2M323.00 79.40h-3.0M563.70 79.40h3.0M323.00 65.25h-2.2M563.70 65.25h2.2M323.00 51.10h-2.2M563.70 51.10h2.2M323.00 36.95h-2.2M563.70 36.95h2.2M323.00 22.80h-3.0M563.70 22.80h3.0M323.00 8.65h-2.2M563.70 8.65h2.2" stroke="#16162a" stroke-width="1.2" fill="none"/><rect x="323.00" y="3.20" width="240.70" height="240.10" fill="none" stroke="#16162a" stroke-width="1.5"/><rect x="340.0" y="5.2" width="77.0" height="21.5" fill="#fff"/><text y="20.4"><tspan x="341.4" class="pl">(b)</tspan><tspan x="367.9" class="s">S</tspan><tspan class="eq">= 20 m</tspan></text><path d="M61.69 250.90v-2.2M61.69 490.10v2.2M77.85 250.90v-2.2M77.85 490.10v2.2M90.38 250.90v-2.2M90.38 490.10v2.2M100.61 250.90v-2.2M100.61 490.10v2.2M109.27 250.90v-2.2M109.27 490.10v2.2M116.77 250.90v-2.2M116.77 490.10v2.2M123.38 250.90v-2.2M123.38 490.10v2.2M129.30 250.90v-3.0M129.30 490.10v3.0M168.22 250.90v-2.2M168.22 490.10v2.2M190.99 250.90v-2.2M190.99 490.10v2.2M207.15 250.90v-2.2M207.15 490.10v2.2M219.68 250.90v-2.2M219.68 490.10v2.2M229.91 250.90v-2.2M229.91 490.10v2.2M238.57 250.90v-2.2M238.57 490.10v2.2M246.07 250.90v-2.2M246.07 490.10v2.2M252.68 250.90v-2.2M252.68 490.10v2.2M258.60 250.90v-3.0M258.60 490.10v3.0M57.40 482.75h-2.2M298.00 482.75h2.2M57.40 468.60h-2.2M298.00 468.60h2.2M57.40 454.45h-2.2M298.00 454.45h2.2M57.40 440.30h-3.0M298.00 440.30h3.0M57.40 426.15h-2.2M298.00 426.15h2.2M57.40 412.00h-2.2M298.00 412.00h2.2M57.40 397.85h-2.2M298.00 397.85h2.2M57.40 383.70h-3.0M298.00 383.70h3.0M57.40 369.55h-2.2M298.00 369.55h2.2M57.40 355.40h-2.2M298.00 355.40h2.2M57.40 341.25h-2.2M298.00 341.25h2.2M57.40 327.10h-3.0M298.00 327.10h3.0M57.40 312.95h-2.2M298.00 312.95h2.2M57.40 298.80h-2.2M298.00 298.80h2.2M57.40 284.65h-2.2M298.00 284.65h2.2M57.40 270.50h-3.0M298.00 270.50h3.0M57.40 256.35h-2.2M298.00 256.35h2.2" stroke="#16162a" stroke-width="1.2" fill="none"/><rect x="57.40" y="250.90" width="240.60" height="239.20" fill="none" stroke="#16162a" stroke-width="1.5"/><text x="47.6" y="444.00" text-anchor="end" class="tk">50</text><text x="47.6" y="387.40" text-anchor="end" class="tk">100</text><text x="47.6" y="330.80" text-anchor="end" class="tk">150</text><text x="47.6" y="274.20" text-anchor="end" class="tk">200</text><text transform="translate(14.8 370.9) rotate(-90)" text-anchor="middle" class="zl">z (m)</text><rect x="74.4" y="252.9" width="76.5" height="21.5" fill="#fff"/><text y="268.1"><tspan x="77.4" class="pl">(c)</tspan><tspan x="99.7" class="s">S</tspan><tspan class="eq">= 30 m</tspan></text><path d="M327.29 250.90v-2.2M327.29 490.10v2.2M343.45 250.90v-2.2M343.45 490.10v2.2M355.98 250.90v-2.2M355.98 490.10v2.2M366.21 250.90v-2.2M366.21 490.10v2.2M374.87 250.90v-2.2M374.87 490.10v2.2M382.37 250.90v-2.2M382.37 490.10v2.2M388.98 250.90v-2.2M388.98 490.10v2.2M394.90 250.90v-3.0M394.90 490.10v3.0M433.82 250.90v-2.2M433.82 490.10v2.2M456.59 250.90v-2.2M456.59 490.10v2.2M472.75 250.90v-2.2M472.75 490.10v2.2M485.28 250.90v-2.2M485.28 490.10v2.2M495.51 250.90v-2.2M495.51 490.10v2.2M504.17 250.90v-2.2M504.17 490.10v2.2M511.67 250.90v-2.2M511.67 490.10v2.2M518.28 250.90v-2.2M518.28 490.10v2.2M524.20 250.90v-3.0M524.20 490.10v3.0M323.00 482.75h-2.2M563.70 482.75h2.2M323.00 468.60h-2.2M563.70 468.60h2.2M323.00 454.45h-2.2M563.70 454.45h2.2M323.00 440.30h-3.0M563.70 440.30h3.0M323.00 426.15h-2.2M563.70 426.15h2.2M323.00 412.00h-2.2M563.70 412.00h2.2M323.00 397.85h-2.2M563.70 397.85h2.2M323.00 383.70h-3.0M563.70 383.70h3.0M323.00 369.55h-2.2M563.70 369.55h2.2M323.00 355.40h-2.2M563.70 355.40h2.2M323.00 341.25h-2.2M563.70 341.25h2.2M323.00 327.10h-3.0M563.70 327.10h3.0M323.00 312.95h-2.2M563.70 312.95h2.2M323.00 298.80h-2.2M563.70 298.80h2.2M323.00 284.65h-2.2M563.70 284.65h2.2M323.00 270.50h-3.0M563.70 270.50h3.0M323.00 256.35h-2.2M563.70 256.35h2.2" stroke="#16162a" stroke-width="1.2" fill="none"/><rect x="323.00" y="250.90" width="240.70" height="239.20" fill="none" stroke="#16162a" stroke-width="1.5"/><rect x="340.0" y="252.9" width="77.0" height="21.5" fill="#fff"/><text y="268.1"><tspan x="342.6" class="pl">(d)</tspan><tspan x="367.9" class="s">S</tspan><tspan class="eq">= 40 m</tspan></text><path d="M61.69 497.80v-2.2M61.69 737.40v2.2M77.85 497.80v-2.2M77.85 737.40v2.2M90.38 497.80v-2.2M90.38 737.40v2.2M100.61 497.80v-2.2M100.61 737.40v2.2M109.27 497.80v-2.2M109.27 737.40v2.2M116.77 497.80v-2.2M116.77 737.40v2.2M123.38 497.80v-2.2M123.38 737.40v2.2M129.30 497.80v-3.0M129.30 737.40v3.0M168.22 497.80v-2.2M168.22 737.40v2.2M190.99 497.80v-2.2M190.99 737.40v2.2M207.15 497.80v-2.2M207.15 737.40v2.2M219.68 497.80v-2.2M219.68 737.40v2.2M229.91 497.80v-2.2M229.91 737.40v2.2M238.57 497.80v-2.2M238.57 737.40v2.2M246.07 497.80v-2.2M246.07 737.40v2.2M252.68 497.80v-2.2M252.68 737.40v2.2M258.60 497.80v-3.0M258.60 737.40v3.0M57.40 729.65h-2.2M298.00 729.65h2.2M57.40 715.50h-2.2M298.00 715.50h2.2M57.40 701.35h-2.2M298.00 701.35h2.2M57.40 687.20h-3.0M298.00 687.20h3.0M57.40 673.05h-2.2M298.00 673.05h2.2M57.40 658.90h-2.2M298.00 658.90h2.2M57.40 644.75h-2.2M298.00 644.75h2.2M57.40 630.60h-3.0M298.00 630.60h3.0M57.40 616.45h-2.2M298.00 616.45h2.2M57.40 602.30h-2.2M298.00 602.30h2.2M57.40 588.15h-2.2M298.00 588.15h2.2M57.40 574.00h-3.0M298.00 574.00h3.0M57.40 559.85h-2.2M298.00 559.85h2.2M57.40 545.70h-2.2M298.00 545.70h2.2M57.40 531.55h-2.2M298.00 531.55h2.2M57.40 517.40h-3.0M298.00 517.40h3.0M57.40 503.25h-2.2M298.00 503.25h2.2" stroke="#16162a" stroke-width="1.2" fill="none"/><rect x="57.40" y="497.80" width="240.60" height="239.60" fill="none" stroke="#16162a" stroke-width="1.5"/><text x="47.6" y="690.90" text-anchor="end" class="tk">50</text><text x="47.6" y="634.30" text-anchor="end" class="tk">100</text><text x="47.6" y="577.70" text-anchor="end" class="tk">150</text><text x="47.6" y="521.10" text-anchor="end" class="tk">200</text><text transform="translate(14.8 617.8) rotate(-90)" text-anchor="middle" class="zl">z (m)</text><rect x="74.4" y="499.8" width="76.5" height="21.5" fill="#fff"/><text y="515.0"><tspan x="78.4" class="pl">(e)</tspan><tspan x="102.2" class="s">S</tspan><tspan class="eq">= 50 m</tspan></text><text x="127.40" y="757.6" text-anchor="middle" class="xl">0.01</text><text x="256.40" y="757.6" text-anchor="middle" class="xl">0.1</text><text y="776.6" class="fl"><tspan x="158.6" font-style="italic">f</tspan><tspan x="166.4">(s</tspan><tspan x="178.6" y="772.6" class="sp2">-</tspan><tspan x="186.8" y="771.4" class="sp2">1</tspan><tspan x="191.6" y="776.6">)</tspan></text><path d="M327.29 497.80v-2.2M327.29 737.40v2.2M343.45 497.80v-2.2M343.45 737.40v2.2M355.98 497.80v-2.2M355.98 737.40v2.2M366.21 497.80v-2.2M366.21 737.40v2.2M374.87 497.80v-2.2M374.87 737.40v2.2M382.37 497.80v-2.2M382.37 737.40v2.2M388.98 497.80v-2.2M388.98 737.40v2.2M394.90 497.80v-3.0M394.90 737.40v3.0M433.82 497.80v-2.2M433.82 737.40v2.2M456.59 497.80v-2.2M456.59 737.40v2.2M472.75 497.80v-2.2M472.75 737.40v2.2M485.28 497.80v-2.2M485.28 737.40v2.2M495.51 497.80v-2.2M495.51 737.40v2.2M504.17 497.80v-2.2M504.17 737.40v2.2M511.67 497.80v-2.2M511.67 737.40v2.2M518.28 497.80v-2.2M518.28 737.40v2.2M524.20 497.80v-3.0M524.20 737.40v3.0M323.00 729.65h-2.2M563.70 729.65h2.2M323.00 715.50h-2.2M563.70 715.50h2.2M323.00 701.35h-2.2M563.70 701.35h2.2M323.00 687.20h-3.0M563.70 687.20h3.0M323.00 673.05h-2.2M563.70 673.05h2.2M323.00 658.90h-2.2M563.70 658.90h2.2M323.00 644.75h-2.2M563.70 644.75h2.2M323.00 630.60h-3.0M563.70 630.60h3.0M323.00 616.45h-2.2M563.70 616.45h2.2M323.00 602.30h-2.2M563.70 602.30h2.2M323.00 588.15h-2.2M563.70 588.15h2.2M323.00 574.00h-3.0M563.70 574.00h3.0M323.00 559.85h-2.2M563.70 559.85h2.2M323.00 545.70h-2.2M563.70 545.70h2.2M323.00 531.55h-2.2M563.70 531.55h2.2M323.00 517.40h-3.0M563.70 517.40h3.0M323.00 503.25h-2.2M563.70 503.25h2.2" stroke="#16162a" stroke-width="1.2" fill="none"/><rect x="323.00" y="497.80" width="240.70" height="239.60" fill="none" stroke="#16162a" stroke-width="1.5"/><rect x="340.0" y="499.8" width="74.0" height="21.5" fill="#fff"/><text y="515.0"><tspan x="344.0" class="pl">(f)</tspan><tspan x="365.3" class="s">S</tspan><tspan class="eq">= 60 m</tspan></text><text x="393.00" y="757.6" text-anchor="middle" class="xl">0.01</text><text x="522.00" y="757.6" text-anchor="middle" class="xl">0.1</text><text y="776.6" class="fl"><tspan x="424.2" font-style="italic">f</tspan><tspan x="432.0">(s</tspan><tspan x="444.2" y="772.6" class="sp2">-</tspan><tspan x="452.4" y="771.4" class="sp2">1</tspan><tspan x="457.2" y="776.6">)</tspan></text><defs><linearGradient id="cb"><stop offset="0.000" stop-color="#30238f"/><stop offset="0.031" stop-color="#2e2ea8"/><stop offset="0.062" stop-color="#263ac2"/><stop offset="0.094" stop-color="#1048db"/><stop offset="0.125" stop-color="#0063e8"/><stop offset="0.156" stop-color="#006de7"/><stop offset="0.188" stop-color="#0071e2"/><stop offset="0.219" stop-color="#0075dc"/><stop offset="0.250" stop-color="#017dd7"/><stop offset="0.281" stop-color="#0087d3"/><stop offset="0.312" stop-color="#0094d1"/><stop offset="0.344" stop-color="#009ece"/><stop offset="0.375" stop-color="#00a4c7"/><stop offset="0.406" stop-color="#00aabf"/><stop offset="0.438" stop-color="#02afb6"/><stop offset="0.469" stop-color="#13b4ab"/><stop offset="0.500" stop-color="#25b89f"/><stop offset="0.531" stop-color="#3cbb91"/><stop offset="0.562" stop-color="#54be84"/><stop offset="0.594" stop-color="#6ebf78"/><stop offset="0.625" stop-color="#86bf6e"/><stop offset="0.656" stop-color="#9cbe65"/><stop offset="0.688" stop-color="#b0bd5d"/><stop offset="0.719" stop-color="#c2bc58"/><stop offset="0.750" stop-color="#d3bb4a"/><stop offset="0.781" stop-color="#e3b936"/><stop offset="0.812" stop-color="#f2b923"/><stop offset="0.844" stop-color="#febf13"/><stop offset="0.875" stop-color="#fec907"/><stop offset="0.906" stop-color="#f9d300"/><stop offset="0.938" stop-color="#f5de00"/><stop offset="0.969" stop-color="#f5eb00"/><stop offset="1.000" stop-color="#f9fb00"/></linearGradient></defs><rect x="123.0" y="778.0" width="387.5" height="15.0" fill="url(#cb)" stroke="#111" stroke-width="0.8"/><text x="122.40" y="808.8" text-anchor="middle" class="cl">0</text><text x="199.90" y="808.8" text-anchor="middle" class="cl">0.2</text><text x="277.40" y="808.8" text-anchor="middle" class="cl">0.4</text><text x="354.90" y="808.8" text-anchor="middle" class="cl">0.6</text><text x="432.40" y="808.8" text-anchor="middle" class="cl">0.8</text><text x="509.90" y="808.8" text-anchor="middle" class="cl">1</text><text y="833.8" class="tt"><tspan x="244.6" font-style="italic" font-size="13.8">Coh</tspan><tspan x="271.3" y="826.9" class="sp">2</tspan><tspan x="285.4" y="833.8">(m</tspan><tspan x="307.2" y="826.9" class="sp">2</tspan><tspan x="317.6" y="833.8">s</tspan><tspan x="327.0" y="826.4" class="sp">-</tspan><tspan x="334.2" y="826.9" class="sp">2</tspan><tspan x="346.8" y="833.8">Hz</tspan><tspan x="367.6" y="826.4" class="sp">-</tspan><tspan x="374.4" y="826.9" class="sp">1</tspan><tspan x="383.2" y="833.8">)</tspan></text></svg>
</body></html>
